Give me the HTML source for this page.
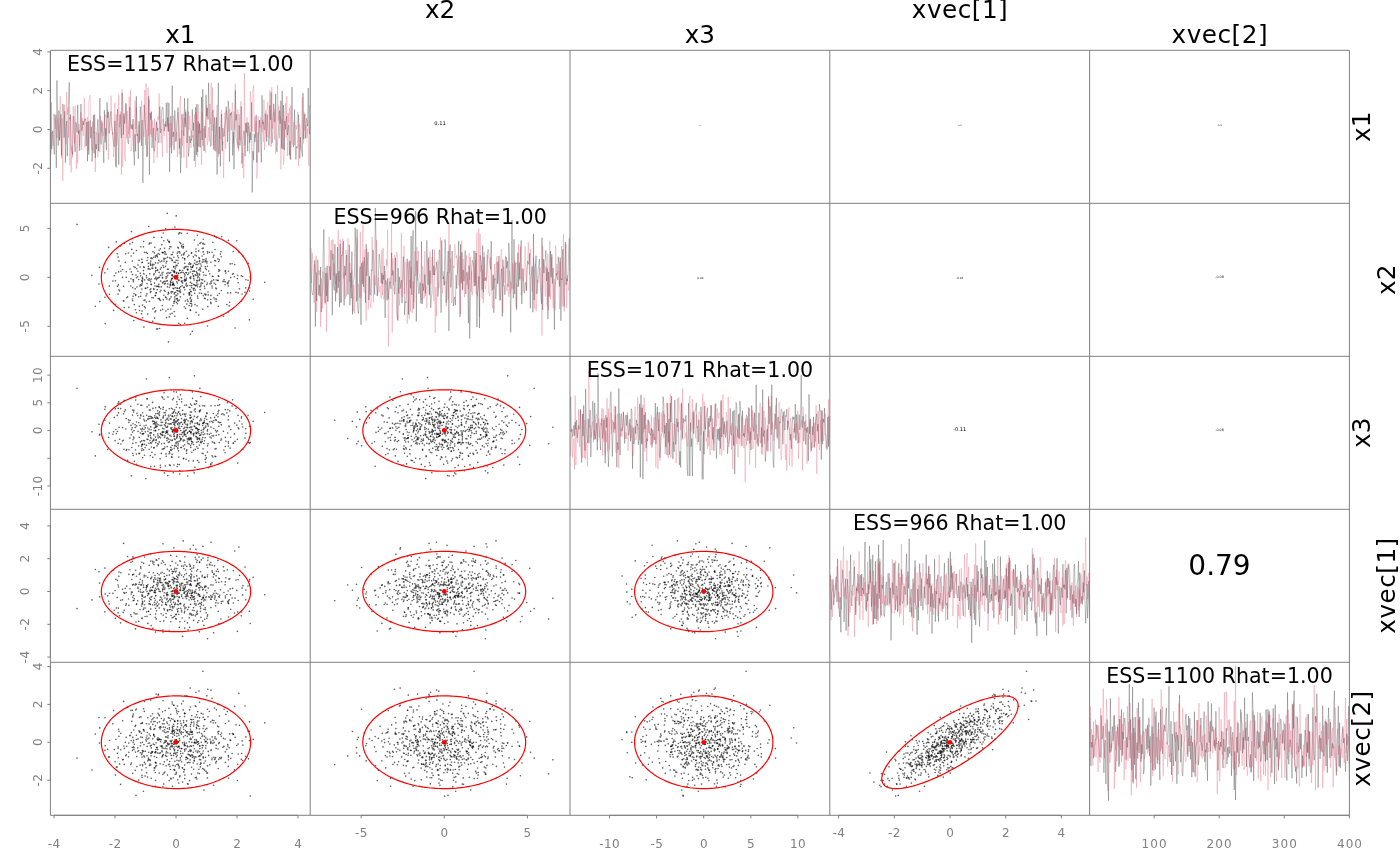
<!DOCTYPE html>
<html><head><meta charset="utf-8"><title>pairs</title><style>html,body{margin:0;padding:0;background:#fff;overflow:hidden}svg{display:block}</style></head><body>
<svg width="1400" height="866" viewBox="0 0 1400 866" font-family="DejaVu Sans, Liberation Sans, sans-serif">
<rect width="1400" height="866" fill="#fff"/>
<defs>
<clipPath id="c00"><rect x="50.4" y="50.3" width="259.8" height="153.0"/></clipPath>
<clipPath id="c01"><rect x="310.2" y="50.3" width="259.8" height="153.0"/></clipPath>
<clipPath id="c02"><rect x="570.0" y="50.3" width="259.8" height="153.0"/></clipPath>
<clipPath id="c03"><rect x="829.8" y="50.3" width="259.8" height="153.0"/></clipPath>
<clipPath id="c04"><rect x="1089.6" y="50.3" width="259.8" height="153.0"/></clipPath>
<clipPath id="c10"><rect x="50.4" y="203.3" width="259.8" height="153.0"/></clipPath>
<clipPath id="c11"><rect x="310.2" y="203.3" width="259.8" height="153.0"/></clipPath>
<clipPath id="c12"><rect x="570.0" y="203.3" width="259.8" height="153.0"/></clipPath>
<clipPath id="c13"><rect x="829.8" y="203.3" width="259.8" height="153.0"/></clipPath>
<clipPath id="c14"><rect x="1089.6" y="203.3" width="259.8" height="153.0"/></clipPath>
<clipPath id="c20"><rect x="50.4" y="356.3" width="259.8" height="153.0"/></clipPath>
<clipPath id="c21"><rect x="310.2" y="356.3" width="259.8" height="153.0"/></clipPath>
<clipPath id="c22"><rect x="570.0" y="356.3" width="259.8" height="153.0"/></clipPath>
<clipPath id="c23"><rect x="829.8" y="356.3" width="259.8" height="153.0"/></clipPath>
<clipPath id="c24"><rect x="1089.6" y="356.3" width="259.8" height="153.0"/></clipPath>
<clipPath id="c30"><rect x="50.4" y="509.3" width="259.8" height="153.0"/></clipPath>
<clipPath id="c31"><rect x="310.2" y="509.3" width="259.8" height="153.0"/></clipPath>
<clipPath id="c32"><rect x="570.0" y="509.3" width="259.8" height="153.0"/></clipPath>
<clipPath id="c33"><rect x="829.8" y="509.3" width="259.8" height="153.0"/></clipPath>
<clipPath id="c34"><rect x="1089.6" y="509.3" width="259.8" height="153.0"/></clipPath>
<clipPath id="c40"><rect x="50.4" y="662.3" width="259.8" height="153.0"/></clipPath>
<clipPath id="c41"><rect x="310.2" y="662.3" width="259.8" height="153.0"/></clipPath>
<clipPath id="c42"><rect x="570.0" y="662.3" width="259.8" height="153.0"/></clipPath>
<clipPath id="c43"><rect x="829.8" y="662.3" width="259.8" height="153.0"/></clipPath>
<clipPath id="c44"><rect x="1089.6" y="662.3" width="259.8" height="153.0"/></clipPath>
</defs>
<g clip-path="url(#c00)"><path d="M50.4 157.2 51.1 102.4 51.7 149.1 52.4 132.6 53.0 130.7 53.7 143.7 54.3 154.5 55.0 114.5 55.6 124.1 56.3 167.8 56.9 80.4 57.6 115.8 58.2 145.6 58.9 110.5 59.5 140.5 60.2 129.6 60.8 114.3 61.5 155.3 62.1 115.8 62.8 103.9 63.4 106.6 64.1 137.6 64.7 111.3 65.4 162.7 66.0 129.3 66.7 120.9 67.3 156.3 68.0 128.4 68.6 96.4 69.3 82.3 69.9 119.3 70.6 114.6 71.2 149.5 71.9 150.9 72.5 154.7 73.2 116.6 73.8 116.3 74.5 143.6 75.1 151.8 75.8 122.3 76.4 124.2 77.1 132.6 77.7 104.7 78.4 133.8 79.0 130.4 79.7 150.8 80.4 124.8 81.0 104.0 81.7 130.9 82.3 128.0 83.0 121.3 83.6 125.0 84.3 119.8 84.9 120.2 85.6 118.5 86.2 146.0 86.9 122.1 87.5 161.2 88.2 121.2 88.8 154.7 89.5 128.4 90.1 120.5 90.8 138.4 91.4 126.8 92.1 161.5 92.7 142.9 93.4 114.9 94.0 153.3 94.7 114.6 95.3 157.8 96.0 144.2 96.6 149.2 97.3 127.4 97.9 119.4 98.6 151.1 99.2 130.9 99.9 98.1 100.5 138.8 101.2 144.4 101.8 120.6 102.5 134.7 103.1 142.6 103.8 162.9 104.4 110.4 105.1 142.5 105.7 128.2 106.4 150.2 107.0 102.3 107.7 117.8 108.4 111.8 109.0 133.4 109.7 120.1 110.3 113.3 111.0 111.4 111.6 125.3 112.3 131.2 112.9 136.3 113.6 143.3 114.2 146.8 114.9 120.9 115.5 135.1 116.2 167.5 116.8 128.7 117.5 109.1 118.1 136.9 118.8 164.6 119.4 128.4 120.1 114.5 120.7 127.1 121.4 138.0 122.0 93.0 122.7 96.5 123.3 134.7 124.0 113.3 124.6 123.6 125.3 115.0 125.9 102.9 126.6 116.4 127.2 129.2 127.9 142.2 128.5 143.9 129.2 128.6 129.8 107.3 130.5 126.0 131.1 128.9 131.8 124.6 132.4 129.3 133.1 119.0 133.7 152.3 134.4 165.4 135.0 134.2 135.7 151.3 136.3 96.2 137.0 135.9 137.7 133.8 138.3 158.8 139.0 121.2 139.6 142.4 140.3 106.6 140.9 115.6 141.6 145.9 142.2 120.0 142.9 183.0 143.5 137.2 144.2 104.7 144.8 116.8 145.5 127.4 146.1 130.3 146.8 156.9 147.4 153.1 148.1 122.9 148.7 96.2 149.4 174.8 150.0 112.9 150.7 119.6 151.3 112.2 152.0 148.0 152.6 137.9 153.3 127.8 153.9 149.5 154.6 151.3 155.2 144.4 155.9 129.4 156.5 122.3 157.2 130.7 157.8 127.9 158.5 142.9 159.1 142.1 159.8 106.6 160.4 132.9 161.1 130.8 161.7 111.3 162.4 107.4 163.0 107.2 163.7 123.9 164.3 131.1 165.0 123.8 165.6 126.6 166.3 102.9 167.0 126.6 167.6 117.5 168.3 131.3 168.9 102.9 169.6 171.8 170.2 118.0 170.9 116.1 171.5 153.3 172.2 85.7 172.8 136.8 173.5 131.9 174.1 150.1 174.8 110.5 175.4 127.1 176.1 141.2 176.7 124.0 177.4 116.8 178.0 107.4 178.7 127.6 179.3 148.4 180.0 138.4 180.6 173.0 181.3 139.3 181.9 114.3 182.6 122.1 183.2 132.4 183.9 135.8 184.5 98.3 185.2 127.2 185.8 112.2 186.5 123.6 187.1 143.0 187.8 98.2 188.4 156.6 189.1 149.9 189.7 135.8 190.4 143.0 191.0 138.9 191.7 140.2 192.3 109.4 193.0 130.5 193.6 122.6 194.3 160.9 195.0 142.7 195.6 107.3 196.3 155.0 196.9 104.2 197.6 152.0 198.2 121.5 198.9 146.7 199.5 124.0 200.2 147.5 200.8 132.7 201.5 96.9 202.1 140.0 202.8 89.2 203.4 142.4 204.1 150.9 204.7 125.9 205.4 137.8 206.0 94.8 206.7 116.4 207.3 108.0 208.0 119.5 208.6 82.8 209.3 118.9 209.9 120.3 210.6 146.5 211.2 145.4 211.9 124.4 212.5 110.8 213.2 109.9 213.8 149.7 214.5 117.3 215.1 127.0 215.8 151.4 216.4 117.5 217.1 174.6 217.7 120.0 218.4 82.8 219.0 153.9 219.7 126.7 220.3 166.4 221.0 140.4 221.6 113.9 222.3 151.2 222.9 128.0 223.6 136.5 224.3 136.1 224.9 125.2 225.6 120.6 226.2 106.7 226.9 115.7 227.5 141.8 228.2 101.0 228.8 108.3 229.5 161.7 230.1 113.5 230.8 115.2 231.4 112.3 232.1 120.7 232.7 155.5 233.4 132.1 234.0 169.2 234.7 128.6 235.3 90.5 236.0 120.3 236.6 114.3 237.3 141.0 237.9 148.0 238.6 148.3 239.2 125.3 239.9 145.5 240.5 140.3 241.2 106.4 241.8 163.5 242.5 151.5 243.1 137.2 243.8 130.7 244.4 131.9 245.1 156.3 245.7 123.1 246.4 132.7 247.0 122.4 247.7 151.2 248.3 122.6 249.0 126.0 249.6 142.6 250.3 132.4 250.9 140.0 251.6 102.3 252.2 192.5 252.9 151.2 253.6 160.3 254.2 133.8 254.9 142.2 255.5 136.2 256.2 115.0 256.8 162.5 257.5 142.6 258.1 132.5 258.8 152.4 259.4 120.1 260.1 124.1 260.7 143.8 261.4 162.3 262.0 95.4 262.7 123.9 263.3 121.9 264.0 128.9 264.6 129.7 265.3 113.5 265.9 131.4 266.6 141.5 267.2 114.6 267.9 129.9 268.5 144.4 269.2 145.5 269.8 105.4 270.5 119.8 271.1 92.4 271.8 143.4 272.4 142.5 273.1 120.4 273.7 103.8 274.4 120.6 275.0 122.1 275.7 93.9 276.3 147.5 277.0 151.8 277.6 141.7 278.3 134.4 278.9 121.8 279.6 110.6 280.2 123.6 280.9 100.7 281.6 148.4 282.2 90.9 282.9 149.1 283.5 105.0 284.2 150.1 284.8 120.9 285.5 129.4 286.1 119.6 286.8 116.0 287.4 135.0 288.1 130.3 288.7 124.8 289.4 155.2 290.0 141.1 290.7 159.7 291.3 126.4 292.0 87.0 292.6 119.5 293.3 147.2 293.9 141.4 294.6 109.5 295.2 140.7 295.9 159.5 296.5 146.3 297.2 148.2 297.8 147.4 298.5 114.7 299.1 129.7 299.8 158.3 300.4 137.1 301.1 150.8 301.7 150.7 302.4 156.5 303.0 93.1 303.7 139.1 304.3 117.5 305.0 114.0 305.6 138.5 306.3 118.3 306.9 120.2 307.6 126.2 308.2 88.0 308.9 128.2 309.5 134.1 310.2 116.6" fill="none" stroke="rgba(0,0,0,0.42)" stroke-width="0.6"/><path d="M50.4 122.9 51.1 154.7 51.7 132.0 52.4 131.8 53.0 145.9 53.7 113.7 54.3 119.8 55.0 128.9 55.6 119.0 56.3 114.9 56.9 138.0 57.6 118.3 58.2 129.1 58.9 130.7 59.5 139.5 60.2 96.2 60.8 127.7 61.5 158.1 62.1 118.3 62.8 180.9 63.4 120.4 64.1 116.9 64.7 104.7 65.4 129.2 66.0 144.3 66.7 92.0 67.3 114.6 68.0 107.4 68.6 137.8 69.3 117.8 69.9 165.8 70.6 118.0 71.2 172.4 71.9 146.3 72.5 157.3 73.2 106.1 73.8 115.4 74.5 143.5 75.1 105.6 75.8 131.7 76.4 168.8 77.1 134.4 77.7 163.6 78.4 126.1 79.0 124.3 79.7 145.6 80.4 113.7 81.0 112.2 81.7 149.8 82.3 117.9 83.0 133.9 83.6 135.8 84.3 97.8 84.9 147.6 85.6 135.9 86.2 131.5 86.9 119.6 87.5 116.9 88.2 150.2 88.8 102.3 89.5 98.2 90.1 95.1 90.8 130.9 91.4 140.4 92.1 150.2 92.7 121.9 93.4 132.9 94.0 131.5 94.7 142.5 95.3 172.0 96.0 132.0 96.6 133.7 97.3 137.3 97.9 157.2 98.6 133.2 99.2 133.1 99.9 152.0 100.5 115.9 101.2 132.6 101.8 127.7 102.5 123.1 103.1 136.1 103.8 131.4 104.4 120.1 105.1 116.8 105.7 114.6 106.4 135.6 107.0 115.1 107.7 109.9 108.4 159.5 109.0 135.3 109.7 130.4 110.3 130.3 111.0 95.7 111.6 110.9 112.3 134.8 112.9 132.0 113.6 157.0 114.2 146.6 114.9 102.7 115.5 166.2 116.2 114.5 116.8 145.4 117.5 134.6 118.1 131.7 118.8 94.7 119.4 127.1 120.1 120.6 120.7 111.4 121.4 174.7 122.0 89.5 122.7 166.4 123.3 140.3 124.0 115.7 124.6 155.1 125.3 161.2 125.9 104.3 126.6 138.5 127.2 110.9 127.9 122.4 128.5 134.3 129.2 96.7 129.8 138.1 130.5 90.0 131.1 151.0 131.8 146.9 132.4 141.3 133.1 124.0 133.7 152.2 134.4 140.9 135.0 100.7 135.7 129.0 136.3 107.4 137.0 124.7 137.7 141.4 138.3 143.2 139.0 124.6 139.6 128.6 140.3 139.6 140.9 139.2 141.6 100.6 142.2 112.3 142.9 125.4 143.5 136.4 144.2 136.8 144.8 90.1 145.5 144.9 146.1 83.4 146.8 146.7 147.4 156.4 148.1 87.8 148.7 135.8 149.4 99.4 150.0 124.0 150.7 134.6 151.3 110.8 152.0 137.0 152.6 120.3 153.3 133.1 153.9 163.0 154.6 118.5 155.2 140.8 155.9 131.2 156.5 121.4 157.2 157.6 157.8 116.3 158.5 119.7 159.1 93.5 159.8 117.4 160.4 124.2 161.1 142.6 161.7 128.7 162.4 156.8 163.0 119.1 163.7 134.5 164.3 136.2 165.0 128.8 165.6 121.1 166.3 125.6 167.0 152.9 167.6 102.0 168.3 132.0 168.9 123.2 169.6 130.4 170.2 147.8 170.9 123.0 171.5 138.1 172.2 145.4 172.8 126.0 173.5 115.8 174.1 119.7 174.8 127.3 175.4 142.0 176.1 135.0 176.7 132.0 177.4 157.0 178.0 111.8 178.7 130.1 179.3 154.4 180.0 98.9 180.6 96.1 181.3 158.1 181.9 130.5 182.6 145.9 183.2 113.7 183.9 157.9 184.5 117.8 185.2 123.9 185.8 109.5 186.5 168.3 187.1 140.9 187.8 132.9 188.4 111.5 189.1 130.2 189.7 115.8 190.4 122.8 191.0 147.9 191.7 130.5 192.3 137.6 193.0 135.3 193.6 147.1 194.3 114.0 195.0 125.9 195.6 167.0 196.3 112.4 196.9 142.7 197.6 157.2 198.2 104.3 198.9 133.2 199.5 123.1 200.2 133.5 200.8 130.6 201.5 164.7 202.1 112.3 202.8 146.1 203.4 128.4 204.1 132.0 204.7 148.6 205.4 152.4 206.0 130.9 206.7 105.8 207.3 145.2 208.0 140.2 208.6 127.4 209.3 141.6 209.9 104.0 210.6 124.0 211.2 82.8 211.9 130.7 212.5 87.5 213.2 145.6 213.8 124.1 214.5 150.9 215.1 135.3 215.8 135.4 216.4 117.6 217.1 105.0 217.7 137.3 218.4 156.7 219.0 127.0 219.7 133.2 220.3 138.7 221.0 112.3 221.6 109.6 222.3 144.9 222.9 141.5 223.6 178.0 224.3 136.6 224.9 112.6 225.6 148.7 226.2 110.0 226.9 118.3 227.5 118.5 228.2 118.1 228.8 131.8 229.5 109.2 230.1 110.7 230.8 124.1 231.4 130.1 232.1 103.8 232.7 102.6 233.4 143.6 234.0 111.3 234.7 129.4 235.3 83.8 236.0 139.5 236.6 139.6 237.3 145.3 237.9 109.5 238.6 150.9 239.2 114.1 239.9 140.1 240.5 101.8 241.2 101.2 241.8 109.5 242.5 168.1 243.1 152.8 243.8 178.2 244.4 73.1 245.1 145.7 245.7 134.9 246.4 127.2 247.0 117.2 247.7 136.3 248.3 126.7 249.0 129.1 249.6 153.8 250.3 91.4 250.9 99.1 251.6 131.1 252.2 131.0 252.9 92.2 253.6 85.2 254.2 131.9 254.9 116.6 255.5 137.7 256.2 121.2 256.8 178.5 257.5 166.8 258.1 116.0 258.8 133.4 259.4 120.3 260.1 127.7 260.7 116.8 261.4 124.6 262.0 132.1 262.7 119.9 263.3 142.0 264.0 99.7 264.6 149.9 265.3 133.8 265.9 110.2 266.6 137.1 267.2 108.8 267.9 101.9 268.5 115.6 269.2 137.8 269.8 90.3 270.5 122.9 271.1 147.1 271.8 87.2 272.4 128.5 273.1 115.9 273.7 111.7 274.4 139.4 275.0 109.3 275.7 153.7 276.3 144.2 277.0 133.8 277.6 85.1 278.3 120.5 278.9 106.0 279.6 138.3 280.2 116.3 280.9 169.6 281.6 128.4 282.2 119.2 282.9 139.4 283.5 164.7 284.2 155.6 284.8 112.6 285.5 103.2 286.1 137.4 286.8 95.9 287.4 156.0 288.1 112.9 288.7 123.4 289.4 107.9 290.0 158.9 290.7 105.4 291.3 128.0 292.0 144.6 292.6 135.1 293.3 131.5 293.9 122.2 294.6 145.2 295.2 143.2 295.9 125.0 296.5 129.3 297.2 118.6 297.8 111.8 298.5 166.0 299.1 126.5 299.8 124.2 300.4 128.2 301.1 149.5 301.7 112.9 302.4 97.2 303.0 135.4 303.7 143.6 304.3 112.5 305.0 130.3 305.6 126.6 306.3 124.9 306.9 138.3 307.6 128.4 308.2 143.2 308.9 165.9 309.5 105.3 310.2 126.0" fill="none" stroke="rgba(215,30,70,0.34)" stroke-width="0.6"/></g>
<g clip-path="url(#c11)"><path d="M310.2 239.5 310.9 260.0 311.5 288.9 312.2 294.1 312.8 295.1 313.5 289.3 314.1 267.8 314.8 260.3 315.4 326.6 316.1 272.6 316.7 300.9 317.4 260.4 318.0 259.6 318.7 295.3 319.3 284.8 320.0 296.4 320.6 267.0 321.3 312.1 321.9 297.4 322.6 289.6 323.2 250.1 323.9 229.3 324.5 281.5 325.2 302.7 325.8 273.0 326.5 295.9 327.1 265.6 327.8 301.8 328.4 282.5 329.1 276.9 329.7 266.2 330.4 279.9 331.0 250.2 331.7 277.2 332.3 315.3 333.0 253.9 333.6 285.6 334.3 290.4 334.9 244.1 335.6 301.4 336.2 273.2 336.9 292.6 337.5 247.1 338.2 287.8 338.8 271.1 339.5 307.1 340.2 244.0 340.8 303.0 341.5 255.4 342.1 255.9 342.8 253.3 343.4 241.3 344.1 305.4 344.7 265.9 345.4 275.4 346.0 268.5 346.7 254.9 347.3 277.1 348.0 294.4 348.6 277.5 349.3 244.7 349.9 305.2 350.6 272.7 351.2 298.3 351.9 251.7 352.5 314.4 353.2 280.6 353.8 279.4 354.5 274.5 355.1 227.7 355.8 249.4 356.4 301.6 357.1 229.2 357.7 307.1 358.4 313.6 359.0 305.1 359.7 270.1 360.3 266.6 361.0 324.8 361.6 263.2 362.3 284.2 362.9 261.6 363.6 286.8 364.2 257.2 364.9 267.3 365.5 302.8 366.2 244.2 366.8 276.0 367.5 261.9 368.2 252.1 368.8 300.2 369.5 276.6 370.1 294.5 370.8 295.3 371.4 269.7 372.1 270.7 372.7 249.8 373.4 250.7 374.0 280.3 374.7 294.5 375.3 208.0 376.0 238.8 376.6 283.2 377.3 296.1 377.9 284.2 378.6 270.5 379.2 254.0 379.9 259.1 380.5 269.8 381.2 283.1 381.8 273.0 382.5 284.1 383.1 275.0 383.8 279.6 384.4 265.9 385.1 317.9 385.7 280.4 386.4 283.0 387.0 300.4 387.7 278.5 388.3 299.2 389.0 288.9 389.6 282.1 390.3 282.0 390.9 288.8 391.6 252.8 392.2 275.4 392.9 270.6 393.5 272.9 394.2 291.7 394.8 294.3 395.5 257.8 396.1 286.5 396.8 313.5 397.5 319.8 398.1 268.2 398.8 293.6 399.4 276.9 400.1 288.7 400.7 284.6 401.4 280.1 402.0 303.1 402.7 275.0 403.3 256.6 404.0 264.6 404.6 315.0 405.3 301.6 405.9 302.8 406.6 279.8 407.2 258.9 407.9 272.2 408.5 314.6 409.2 272.3 409.8 260.6 410.5 288.3 411.1 236.0 411.8 295.0 412.4 250.7 413.1 230.3 413.7 308.7 414.4 280.8 415.0 264.7 415.7 210.8 416.3 321.5 417.0 260.8 417.6 272.8 418.3 286.5 418.9 293.8 419.6 286.6 420.2 282.6 420.9 303.4 421.5 241.4 422.2 304.1 422.8 283.5 423.5 290.5 424.1 284.5 424.8 274.5 425.4 293.4 426.1 280.5 426.8 240.5 427.4 258.6 428.1 285.1 428.7 257.3 429.4 295.3 430.0 270.6 430.7 307.9 431.3 298.2 432.0 293.3 432.6 249.5 433.3 275.1 433.9 265.8 434.6 275.1 435.2 269.6 435.9 269.1 436.5 261.9 437.2 275.3 437.8 296.6 438.5 291.9 439.1 250.1 439.8 250.1 440.4 268.1 441.1 312.7 441.7 240.4 442.4 274.0 443.0 279.0 443.7 276.6 444.3 285.1 445.0 239.3 445.6 245.5 446.3 302.7 446.9 278.6 447.6 270.6 448.2 251.0 448.9 330.9 449.5 252.2 450.2 244.5 450.8 287.5 451.5 277.2 452.1 251.0 452.8 272.1 453.4 306.0 454.1 299.2 454.8 297.0 455.4 305.3 456.1 274.8 456.7 288.6 457.4 275.4 458.0 262.7 458.7 241.2 459.3 276.5 460.0 316.8 460.6 244.2 461.3 283.3 461.9 252.3 462.6 289.5 463.2 269.9 463.9 281.1 464.5 277.7 465.2 250.5 465.8 294.0 466.5 272.4 467.1 273.3 467.8 286.1 468.4 323.1 469.1 265.6 469.7 338.5 470.4 303.1 471.0 284.6 471.7 267.7 472.3 260.3 473.0 261.7 473.6 266.5 474.3 286.3 474.9 251.0 475.6 285.8 476.2 253.0 476.9 327.1 477.5 292.6 478.2 288.1 478.8 276.4 479.5 328.0 480.1 255.2 480.8 258.8 481.4 262.7 482.1 289.8 482.7 245.5 483.4 292.2 484.1 256.8 484.7 280.8 485.4 277.5 486.0 280.7 486.7 277.6 487.3 254.0 488.0 249.4 488.6 250.1 489.3 261.0 489.9 265.0 490.6 269.2 491.2 241.2 491.9 290.4 492.5 289.5 493.2 275.2 493.8 312.8 494.5 278.9 495.1 278.5 495.8 299.0 496.4 287.5 497.1 261.8 497.7 283.9 498.4 275.2 499.0 255.9 499.7 292.6 500.3 300.1 501.0 276.1 501.6 268.7 502.3 316.5 502.9 259.7 503.6 285.8 504.2 285.3 504.9 294.8 505.5 279.6 506.2 256.9 506.8 268.4 507.5 261.2 508.1 286.7 508.8 242.9 509.4 253.9 510.1 280.1 510.7 332.4 511.4 270.6 512.0 220.0 512.7 284.2 513.4 298.1 514.0 239.3 514.7 294.1 515.3 265.2 516.0 262.4 516.6 309.8 517.3 271.3 517.9 252.7 518.6 286.6 519.2 262.5 519.9 279.2 520.5 255.4 521.2 240.4 521.8 304.1 522.5 280.6 523.1 268.6 523.8 291.4 524.4 293.2 525.1 282.9 525.7 282.3 526.4 290.5 527.0 268.9 527.7 261.0 528.3 263.1 529.0 264.3 529.6 253.3 530.3 308.3 530.9 276.5 531.6 273.2 532.2 266.5 532.9 312.3 533.5 234.1 534.2 300.2 534.8 269.3 535.5 262.4 536.1 255.8 536.8 293.8 537.4 286.9 538.1 268.4 538.7 265.7 539.4 259.1 540.0 280.1 540.7 291.5 541.4 303.8 542.0 237.7 542.7 310.0 543.3 259.1 544.0 273.1 544.6 261.5 545.3 258.6 545.9 250.5 546.6 281.0 547.2 268.4 547.9 319.1 548.5 271.9 549.2 296.7 549.8 278.4 550.5 250.9 551.1 277.5 551.8 254.1 552.4 283.6 553.1 268.0 553.7 286.7 554.4 329.7 555.0 286.8 555.7 281.7 556.3 273.3 557.0 277.4 557.6 279.7 558.3 256.8 558.9 265.9 559.6 286.5 560.2 257.7 560.9 320.8 561.5 278.6 562.2 280.0 562.8 249.3 563.5 291.1 564.1 306.6 564.8 270.3 565.4 242.0 566.1 284.9 566.7 278.3 567.4 281.1 568.0 275.4 568.7 249.7 569.3 238.3 570.0 270.9" fill="none" stroke="rgba(0,0,0,0.42)" stroke-width="0.6"/><path d="M310.2 278.3 310.9 248.1 311.5 283.0 312.2 252.5 312.8 261.8 313.5 284.5 314.1 302.7 314.8 264.2 315.4 273.4 316.1 255.8 316.7 311.8 317.4 276.0 318.0 272.0 318.7 270.1 319.3 275.1 320.0 270.5 320.6 326.8 321.3 278.6 321.9 291.0 322.6 308.3 323.2 271.4 323.9 285.8 324.5 300.7 325.2 304.2 325.8 267.4 326.5 331.8 327.1 273.5 327.8 301.1 328.4 271.7 329.1 236.8 329.7 259.3 330.4 280.0 331.0 244.7 331.7 240.2 332.3 259.5 333.0 239.3 333.6 276.0 334.3 263.4 334.9 279.9 335.6 284.5 336.2 275.5 336.9 293.4 337.5 277.1 338.2 229.7 338.8 266.2 339.5 281.8 340.2 239.5 340.8 249.7 341.5 302.1 342.1 289.0 342.8 238.6 343.4 278.4 344.1 272.6 344.7 288.3 345.4 299.0 346.0 250.0 346.7 296.5 347.3 263.1 348.0 238.4 348.6 269.0 349.3 281.9 349.9 262.7 350.6 266.1 351.2 287.4 351.9 269.9 352.5 303.1 353.2 311.4 353.8 284.9 354.5 313.3 355.1 286.6 355.8 278.4 356.4 272.8 357.1 237.6 357.7 300.5 358.4 284.3 359.0 286.1 359.7 297.6 360.3 231.7 361.0 298.2 361.6 280.0 362.3 280.6 362.9 224.7 363.6 289.0 364.2 292.4 364.9 249.2 365.5 294.1 366.2 320.6 366.8 248.6 367.5 260.1 368.2 309.6 368.8 300.6 369.5 275.8 370.1 298.3 370.8 307.9 371.4 300.1 372.1 236.9 372.7 258.5 373.4 302.4 374.0 278.5 374.7 275.4 375.3 285.3 376.0 277.8 376.6 240.2 377.3 295.3 377.9 292.7 378.6 277.5 379.2 292.5 379.9 286.1 380.5 286.7 381.2 298.7 381.8 250.0 382.5 295.3 383.1 247.9 383.8 299.5 384.4 295.8 385.1 271.1 385.7 284.6 386.4 259.4 387.0 265.6 387.7 229.5 388.3 346.8 389.0 293.9 389.6 277.7 390.3 283.0 390.9 279.0 391.6 222.3 392.2 332.8 392.9 258.1 393.5 285.3 394.2 277.4 394.8 254.9 395.5 281.9 396.1 260.8 396.8 252.0 397.5 255.0 398.1 321.1 398.8 288.2 399.4 305.6 400.1 292.7 400.7 281.2 401.4 233.0 402.0 296.9 402.7 283.1 403.3 281.7 404.0 245.7 404.6 294.0 405.3 267.2 405.9 261.8 406.6 267.8 407.2 323.7 407.9 302.6 408.5 261.7 409.2 319.1 409.8 279.9 410.5 311.7 411.1 267.3 411.8 281.5 412.4 312.9 413.1 281.5 413.7 302.3 414.4 289.3 415.0 251.3 415.7 276.2 416.3 272.5 417.0 246.9 417.6 280.5 418.3 251.0 418.9 273.8 419.6 274.3 420.2 287.9 420.9 296.7 421.5 300.1 422.2 297.6 422.8 266.4 423.5 272.0 424.1 298.3 424.8 251.1 425.4 296.1 426.1 286.2 426.8 308.4 427.4 294.6 428.1 259.1 428.7 272.0 429.4 293.8 430.0 251.4 430.7 283.6 431.3 277.3 432.0 256.9 432.6 271.7 433.3 287.2 433.9 301.3 434.6 249.5 435.2 332.9 435.9 287.3 436.5 316.1 437.2 288.3 437.8 260.3 438.5 288.4 439.1 287.6 439.8 279.6 440.4 237.2 441.1 254.1 441.7 277.0 442.4 293.3 443.0 286.4 443.7 271.3 444.3 285.2 445.0 281.3 445.6 301.4 446.3 306.2 446.9 300.0 447.6 272.0 448.2 299.6 448.9 222.8 449.5 272.7 450.2 265.5 450.8 258.8 451.5 303.1 452.1 301.4 452.8 281.3 453.4 265.6 454.1 267.9 454.8 244.2 455.4 251.7 456.1 258.2 456.7 255.6 457.4 274.1 458.0 259.5 458.7 285.0 459.3 285.3 460.0 256.1 460.6 314.2 461.3 243.2 461.9 240.4 462.6 290.4 463.2 258.9 463.9 274.3 464.5 297.1 465.2 266.0 465.8 265.6 466.5 255.3 467.1 284.8 467.8 271.8 468.4 289.1 469.1 252.9 469.7 280.0 470.4 256.8 471.0 291.9 471.7 271.4 472.3 295.2 473.0 289.5 473.6 250.6 474.3 282.0 474.9 276.8 475.6 259.9 476.2 294.4 476.9 232.5 477.5 296.4 478.2 281.9 478.8 228.7 479.5 316.9 480.1 234.0 480.8 271.6 481.4 265.1 482.1 299.1 482.7 269.7 483.4 303.2 484.1 251.8 484.7 283.4 485.4 288.9 486.0 284.9 486.7 278.3 487.3 255.0 488.0 270.3 488.6 292.9 489.3 292.9 489.9 296.3 490.6 257.3 491.2 267.9 491.9 300.7 492.5 308.3 493.2 274.4 493.8 288.8 494.5 264.0 495.1 280.3 495.8 268.2 496.4 260.3 497.1 256.1 497.7 283.2 498.4 260.8 499.0 290.4 499.7 300.9 500.3 269.5 501.0 252.0 501.6 249.2 502.3 280.9 502.9 312.9 503.6 266.4 504.2 282.5 504.9 263.2 505.5 255.6 506.2 288.4 506.8 290.9 507.5 283.9 508.1 290.8 508.8 296.8 509.4 270.6 510.1 293.4 510.7 281.6 511.4 283.8 512.0 289.5 512.7 263.3 513.4 288.5 514.0 278.0 514.7 260.5 515.3 282.2 516.0 307.7 516.6 284.4 517.3 286.8 517.9 263.3 518.6 244.0 519.2 276.7 519.9 280.5 520.5 246.6 521.2 295.4 521.8 269.5 522.5 268.4 523.1 279.6 523.8 281.4 524.4 273.6 525.1 246.2 525.7 268.8 526.4 291.0 527.0 270.3 527.7 258.2 528.3 242.2 529.0 264.3 529.6 274.9 530.3 248.9 530.9 262.0 531.6 276.2 532.2 291.7 532.9 274.5 533.5 258.1 534.2 302.1 534.8 308.8 535.5 263.9 536.1 311.3 536.8 301.7 537.4 279.7 538.1 282.6 538.7 276.2 539.4 274.6 540.0 267.2 540.7 281.2 541.4 295.0 542.0 335.6 542.7 246.3 543.3 264.8 544.0 266.4 544.6 279.9 545.3 296.6 545.9 266.4 546.6 281.0 547.2 306.6 547.9 254.1 548.5 310.6 549.2 284.3 549.8 241.0 550.5 299.2 551.1 272.7 551.8 257.0 552.4 280.6 553.1 307.9 553.7 286.0 554.4 279.0 555.0 310.1 555.7 245.6 556.3 275.4 557.0 264.2 557.6 274.7 558.3 271.3 558.9 287.1 559.6 308.9 560.2 261.8 560.9 279.9 561.5 246.0 562.2 306.6 562.8 272.8 563.5 234.0 564.1 311.6 564.8 300.7 565.4 272.1 566.1 244.2 566.7 307.5 567.4 275.0 568.0 283.4 568.7 290.5 569.3 283.4 570.0 253.2" fill="none" stroke="rgba(215,30,70,0.34)" stroke-width="0.6"/></g>
<g clip-path="url(#c22)"><path d="M570.0 432.0 570.7 396.8 571.3 431.7 572.0 428.8 572.6 436.7 573.3 435.1 573.9 425.3 574.6 435.7 575.2 422.1 575.9 429.3 576.5 420.2 577.2 437.9 577.8 432.9 578.5 425.5 579.1 429.3 579.8 428.4 580.4 409.3 581.1 451.3 581.7 462.7 582.4 413.9 583.0 436.0 583.7 405.4 584.3 434.1 585.0 450.6 585.6 388.8 586.3 427.1 586.9 438.5 587.6 442.7 588.2 418.8 588.9 443.3 589.5 421.8 590.2 410.1 590.8 457.0 591.5 433.8 592.1 421.2 592.8 401.3 593.4 416.4 594.1 439.6 594.7 403.0 595.4 439.3 596.0 432.1 596.7 423.2 597.3 450.4 598.0 373.2 598.6 414.5 599.3 427.8 600.0 440.6 600.6 449.9 601.3 421.6 601.9 418.6 602.6 438.5 603.2 432.9 603.9 420.0 604.5 432.3 605.2 463.2 605.8 415.0 606.5 427.4 607.1 417.5 607.8 445.0 608.4 466.8 609.1 448.9 609.7 423.0 610.4 393.8 611.0 391.8 611.7 428.7 612.3 456.5 613.0 433.6 613.6 421.9 614.3 423.3 614.9 429.3 615.6 406.4 616.2 448.7 616.9 467.2 617.5 442.3 618.2 449.8 618.8 388.4 619.5 437.8 620.1 455.1 620.8 416.8 621.4 413.6 622.1 431.0 622.7 426.8 623.4 412.3 624.0 422.9 624.7 443.5 625.3 418.4 626.0 414.9 626.6 425.7 627.3 415.1 628.0 421.3 628.6 435.4 629.3 432.4 629.9 419.1 630.6 441.3 631.2 408.6 631.9 410.7 632.5 468.6 633.2 427.7 633.8 444.0 634.5 440.3 635.1 426.7 635.8 433.7 636.4 419.9 637.1 425.6 637.7 424.2 638.4 444.9 639.0 435.1 639.7 403.8 640.3 477.3 641.0 394.9 641.6 443.9 642.3 407.9 642.9 479.0 643.6 433.0 644.2 414.9 644.9 429.2 645.5 412.3 646.2 447.8 646.8 438.6 647.5 441.2 648.1 420.2 648.8 423.1 649.4 433.3 650.1 434.8 650.7 435.1 651.4 428.3 652.0 447.5 652.7 429.6 653.3 433.0 654.0 439.7 654.6 439.6 655.3 403.0 655.9 444.1 656.6 421.6 657.3 406.7 657.9 419.5 658.6 431.1 659.2 412.1 659.9 457.7 660.5 449.6 661.2 435.5 661.8 433.8 662.5 431.7 663.1 396.6 663.8 403.5 664.4 433.7 665.1 425.4 665.7 447.1 666.4 423.0 667.0 455.1 667.7 402.8 668.3 442.4 669.0 419.2 669.6 454.8 670.3 403.0 670.9 422.1 671.6 396.1 672.2 432.5 672.9 459.1 673.5 441.5 674.2 451.7 674.8 400.0 675.5 444.5 676.1 442.4 676.8 418.5 677.4 426.8 678.1 421.9 678.7 440.2 679.4 465.1 680.0 451.2 680.7 467.5 681.3 403.7 682.0 416.7 682.6 438.4 683.3 418.4 683.9 419.5 684.6 420.0 685.2 421.9 685.9 415.4 686.6 430.4 687.2 470.0 687.9 475.9 688.5 403.2 689.2 422.4 689.8 476.1 690.5 422.6 691.1 446.8 691.8 438.5 692.4 476.1 693.1 412.0 693.7 433.7 694.4 415.4 695.0 412.3 695.7 409.1 696.3 402.9 697.0 427.8 697.6 426.7 698.3 442.1 698.9 419.7 699.6 435.7 700.2 450.9 700.9 406.8 701.5 419.9 702.2 479.4 702.8 458.8 703.5 431.4 704.1 454.3 704.8 405.9 705.4 429.4 706.1 420.1 706.7 414.4 707.4 407.7 708.0 437.4 708.7 418.2 709.3 426.8 710.0 416.1 710.6 421.5 711.3 405.3 711.9 422.9 712.6 439.4 713.2 427.0 713.9 450.8 714.6 422.2 715.2 403.7 715.9 443.6 716.5 458.5 717.2 428.7 717.8 439.3 718.5 429.2 719.1 440.8 719.8 427.6 720.4 448.6 721.1 400.2 721.7 437.1 722.4 420.1 723.0 417.4 723.7 434.1 724.3 421.5 725.0 435.3 725.6 437.6 726.3 433.3 726.9 420.9 727.6 453.8 728.2 444.0 728.9 443.1 729.5 438.9 730.2 408.3 730.8 432.8 731.5 435.3 732.1 426.9 732.8 411.3 733.4 445.4 734.1 410.1 734.7 473.9 735.4 441.5 736.0 402.3 736.7 404.7 737.3 428.9 738.0 437.6 738.6 414.2 739.3 438.7 739.9 401.1 740.6 411.4 741.2 417.8 741.9 446.1 742.5 410.6 743.2 436.1 743.9 433.2 744.5 436.9 745.2 431.0 745.8 420.5 746.5 415.3 747.1 415.7 747.8 440.8 748.4 434.5 749.1 408.1 749.7 443.4 750.4 431.5 751.0 450.0 751.7 405.5 752.3 427.0 753.0 427.2 753.6 431.6 754.3 412.4 754.9 439.9 755.6 421.0 756.2 384.8 756.9 436.2 757.5 439.7 758.2 446.3 758.8 412.8 759.5 429.5 760.1 442.6 760.8 442.7 761.4 427.2 762.1 447.2 762.7 389.5 763.4 436.5 764.0 431.5 764.7 430.4 765.3 461.5 766.0 451.9 766.6 433.3 767.3 429.1 767.9 451.3 768.6 396.3 769.2 424.1 769.9 406.3 770.5 410.2 771.2 434.9 771.8 384.6 772.5 431.2 773.2 462.7 773.8 467.6 774.5 425.1 775.1 413.7 775.8 429.2 776.4 397.8 777.1 437.5 777.7 418.0 778.4 416.9 779.0 448.7 779.7 421.5 780.3 423.2 781.0 409.9 781.6 409.2 782.3 413.3 782.9 444.2 783.6 414.3 784.2 411.3 784.9 430.2 785.5 415.5 786.2 416.6 786.8 409.1 787.5 429.7 788.1 420.5 788.8 426.4 789.4 428.2 790.1 440.2 790.7 434.0 791.4 448.7 792.0 430.7 792.7 416.7 793.3 419.3 794.0 416.8 794.6 432.4 795.3 404.0 795.9 439.9 796.6 414.4 797.2 423.2 797.9 443.2 798.5 440.4 799.2 414.7 799.8 430.0 800.5 424.3 801.2 374.7 801.8 424.5 802.5 427.5 803.1 416.2 803.8 441.2 804.4 431.1 805.1 421.0 805.7 444.6 806.4 428.2 807.0 432.5 807.7 426.8 808.3 460.9 809.0 394.3 809.6 434.2 810.3 418.8 810.9 448.7 811.6 450.5 812.2 426.5 812.9 435.1 813.5 416.9 814.2 446.8 814.8 444.9 815.5 421.6 816.1 417.3 816.8 413.8 817.4 431.2 818.1 424.2 818.7 443.8 819.4 404.1 820.0 411.2 820.7 411.1 821.3 459.6 822.0 410.3 822.6 444.1 823.3 418.8 823.9 422.5 824.6 408.0 825.2 434.7 825.9 434.7 826.5 446.6 827.2 448.6 827.8 416.9 828.5 446.7 829.1 415.5 829.8 437.4" fill="none" stroke="rgba(0,0,0,0.42)" stroke-width="0.6"/><path d="M570.0 429.8 570.7 455.8 571.3 440.8 572.0 429.6 572.6 457.5 573.3 442.1 573.9 438.5 574.6 469.1 575.2 395.6 575.9 464.8 576.5 428.0 577.2 435.9 577.8 442.8 578.5 409.7 579.1 433.5 579.8 447.2 580.4 410.0 581.1 424.8 581.7 451.6 582.4 457.7 583.0 414.1 583.7 436.7 584.3 458.1 585.0 420.0 585.6 459.3 586.3 442.0 586.9 446.1 587.6 466.4 588.2 416.7 588.9 371.3 589.5 427.0 590.2 425.6 590.8 437.6 591.5 433.0 592.1 427.3 592.8 421.6 593.4 442.3 594.1 430.4 594.7 436.1 595.4 421.7 596.0 416.2 596.7 413.8 597.3 441.6 598.0 439.4 598.6 418.6 599.3 437.6 600.0 434.8 600.6 422.9 601.3 425.5 601.9 408.2 602.6 455.4 603.2 408.7 603.9 441.8 604.5 418.0 605.2 455.6 605.8 431.0 606.5 442.2 607.1 398.2 607.8 451.3 608.4 408.5 609.1 447.6 609.7 449.3 610.4 423.5 611.0 412.7 611.7 433.7 612.3 419.8 613.0 427.7 613.6 432.1 614.3 405.8 614.9 433.2 615.6 414.9 616.2 453.0 616.9 431.8 617.5 413.6 618.2 440.5 618.8 468.0 619.5 413.4 620.1 421.9 620.8 436.5 621.4 427.9 622.1 436.7 622.7 422.9 623.4 411.4 624.0 426.7 624.7 432.3 625.3 438.8 626.0 432.3 626.6 439.1 627.3 412.1 628.0 451.0 628.6 438.6 629.3 423.1 629.9 424.9 630.6 426.2 631.2 438.1 631.9 425.8 632.5 456.2 633.2 454.8 633.8 450.7 634.5 421.3 635.1 406.5 635.8 440.1 636.4 439.0 637.1 434.3 637.7 397.1 638.4 429.3 639.0 428.1 639.7 440.1 640.3 419.9 641.0 407.5 641.6 428.5 642.3 444.3 642.9 404.7 643.6 432.6 644.2 397.5 644.9 451.7 645.5 430.1 646.2 424.9 646.8 461.5 647.5 424.8 648.1 419.2 648.8 433.0 649.4 421.5 650.1 427.4 650.7 445.1 651.4 415.3 652.0 444.7 652.7 433.7 653.3 442.7 654.0 417.2 654.6 439.6 655.3 437.4 655.9 467.4 656.6 431.2 657.3 412.1 657.9 469.0 658.6 419.5 659.2 431.8 659.9 460.9 660.5 434.4 661.2 412.7 661.8 432.0 662.5 423.6 663.1 411.0 663.8 437.7 664.4 413.9 665.1 453.9 665.7 443.0 666.4 402.9 667.0 408.6 667.7 415.5 668.3 458.1 669.0 431.2 669.6 445.6 670.3 394.2 670.9 457.4 671.6 449.8 672.2 438.5 672.9 423.1 673.5 440.8 674.2 434.0 674.8 424.1 675.5 429.8 676.1 463.1 676.8 448.7 677.4 398.8 678.1 431.9 678.7 397.1 679.4 407.0 680.0 412.2 680.7 430.1 681.3 402.2 682.0 440.3 682.6 388.6 683.3 422.9 683.9 419.3 684.6 437.1 685.2 438.4 685.9 432.5 686.6 437.8 687.2 443.4 687.9 446.5 688.5 423.5 689.2 408.1 689.8 396.0 690.5 418.3 691.1 431.4 691.8 417.3 692.4 399.3 693.1 428.9 693.7 410.4 694.4 423.2 695.0 426.4 695.7 438.4 696.3 414.5 697.0 444.2 697.6 444.3 698.3 420.5 698.9 411.7 699.6 413.4 700.2 414.7 700.9 434.9 701.5 429.8 702.2 408.2 702.8 393.7 703.5 479.3 704.1 401.7 704.8 427.0 705.4 429.3 706.1 441.2 706.7 438.2 707.4 448.7 708.0 421.6 708.7 446.4 709.3 430.0 710.0 455.0 710.6 404.8 711.3 418.9 711.9 450.2 712.6 418.3 713.2 436.7 713.9 443.3 714.6 426.0 715.2 414.1 715.9 403.4 716.5 426.5 717.2 408.2 717.8 418.7 718.5 417.7 719.1 412.5 719.8 454.5 720.4 433.2 721.1 401.8 721.7 455.3 722.4 441.1 723.0 394.2 723.7 450.5 724.3 424.6 725.0 424.7 725.6 434.6 726.3 412.0 726.9 415.4 727.6 442.9 728.2 396.8 728.9 447.0 729.5 435.4 730.2 431.3 730.8 425.6 731.5 449.5 732.1 423.2 732.8 469.3 733.4 434.6 734.1 445.4 734.7 441.0 735.4 430.5 736.0 425.9 736.7 444.0 737.3 428.6 738.0 457.3 738.6 434.6 739.3 413.7 739.9 444.5 740.6 434.8 741.2 430.8 741.9 416.5 742.5 425.7 743.2 434.3 743.9 448.2 744.5 424.9 745.2 482.3 745.8 418.4 746.5 445.4 747.1 418.2 747.8 433.4 748.4 407.0 749.1 444.7 749.7 464.5 750.4 427.3 751.0 440.1 751.7 431.9 752.3 410.2 753.0 449.1 753.6 417.5 754.3 416.9 754.9 413.7 755.6 468.0 756.2 424.8 756.9 443.9 757.5 434.0 758.2 445.2 758.8 435.5 759.5 414.2 760.1 402.7 760.8 421.7 761.4 453.7 762.1 406.9 762.7 455.2 763.4 435.3 764.0 410.8 764.7 443.5 765.3 417.3 766.0 437.2 766.6 450.8 767.3 425.4 767.9 441.1 768.6 399.2 769.2 402.0 769.9 406.4 770.5 451.4 771.2 395.6 771.8 429.1 772.5 422.3 773.2 428.4 773.8 440.8 774.5 427.7 775.1 415.8 775.8 405.2 776.4 423.5 777.1 431.4 777.7 439.3 778.4 435.6 779.0 401.8 779.7 421.7 780.3 427.8 781.0 460.2 781.6 459.1 782.3 416.2 782.9 421.3 783.6 412.2 784.2 429.3 784.9 442.6 785.5 459.9 786.2 444.2 786.8 470.5 787.5 421.7 788.1 423.5 788.8 407.4 789.4 465.6 790.1 452.5 790.7 418.0 791.4 426.5 792.0 466.9 792.7 440.0 793.3 428.5 794.0 438.2 794.6 423.8 795.3 431.3 795.9 441.0 796.6 423.4 797.2 433.3 797.9 410.4 798.5 458.9 799.2 432.5 799.8 443.1 800.5 434.3 801.2 423.7 801.8 420.5 802.5 470.2 803.1 406.7 803.8 424.1 804.4 422.6 805.1 430.8 805.7 414.4 806.4 425.5 807.0 463.7 807.7 439.8 808.3 434.8 809.0 437.3 809.6 438.6 810.3 419.6 810.9 452.2 811.6 442.4 812.2 447.8 812.9 430.1 813.5 423.5 814.2 448.1 814.8 422.6 815.5 441.8 816.1 405.1 816.8 473.7 817.4 427.3 818.1 411.2 818.7 439.8 819.4 450.1 820.0 444.8 820.7 420.0 821.3 442.1 822.0 411.2 822.6 432.2 823.3 440.9 823.9 438.0 824.6 421.9 825.2 413.8 825.9 447.1 826.5 450.5 827.2 449.9 827.8 420.6 828.5 399.5 829.1 443.4 829.8 417.6" fill="none" stroke="rgba(215,30,70,0.34)" stroke-width="0.6"/></g>
<g clip-path="url(#c33)"><path d="M829.8 573.9 830.5 577.6 831.1 609.7 831.8 592.1 832.4 591.1 833.1 579.3 833.7 605.1 834.4 597.0 835.0 592.5 835.7 578.8 836.3 576.6 837.0 602.0 837.6 559.1 838.3 586.8 838.9 605.5 839.6 616.9 840.2 597.3 840.9 632.3 841.5 583.8 842.2 582.1 842.8 569.7 843.5 584.5 844.1 621.9 844.8 593.1 845.4 578.7 846.1 630.6 846.7 601.7 847.4 579.2 848.0 591.4 848.7 626.5 849.3 596.6 850.0 590.3 850.6 554.7 851.3 602.6 851.9 606.0 852.6 585.4 853.2 585.9 853.9 581.7 854.5 566.8 855.2 594.8 855.8 615.0 856.5 588.1 857.1 591.2 857.8 574.1 858.4 578.1 859.1 605.4 859.8 576.2 860.4 575.0 861.1 596.0 861.7 574.0 862.4 589.9 863.0 588.1 863.7 594.0 864.3 576.7 865.0 542.0 865.6 592.0 866.3 611.5 866.9 593.1 867.6 601.1 868.2 584.4 868.9 594.2 869.5 546.2 870.2 582.5 870.8 559.2 871.5 606.7 872.1 593.3 872.8 554.7 873.4 624.2 874.1 585.3 874.7 618.9 875.4 561.3 876.0 619.0 876.7 593.7 877.3 594.0 878.0 620.6 878.6 544.7 879.3 598.8 879.9 561.4 880.6 606.4 881.2 615.5 881.9 584.9 882.5 588.5 883.2 540.0 883.8 614.9 884.5 616.4 885.1 601.1 885.8 584.9 886.4 581.9 887.1 605.3 887.8 596.0 888.4 581.2 889.1 573.1 889.7 603.6 890.4 587.8 891.0 640.4 891.7 603.5 892.3 582.6 893.0 592.5 893.6 594.5 894.3 562.7 894.9 599.3 895.6 609.9 896.2 585.8 896.9 588.3 897.5 611.9 898.2 571.7 898.8 563.3 899.5 604.6 900.1 605.4 900.8 591.4 901.4 569.4 902.1 603.5 902.7 603.0 903.4 600.6 904.0 586.2 904.7 588.1 905.3 594.7 906.0 569.8 906.6 553.8 907.3 605.3 907.9 571.6 908.6 588.5 909.2 538.7 909.9 612.1 910.5 595.3 911.2 589.1 911.8 616.7 912.5 592.5 913.1 578.6 913.8 618.1 914.4 586.4 915.1 560.3 915.7 605.0 916.4 605.8 917.1 634.6 917.7 589.0 918.4 620.3 919.0 578.6 919.7 563.6 920.3 584.3 921.0 606.0 921.6 578.4 922.3 601.0 922.9 610.3 923.6 598.3 924.2 586.5 924.9 598.3 925.5 581.4 926.2 554.6 926.8 584.3 927.5 578.8 928.1 604.4 928.8 566.6 929.4 587.7 930.1 574.0 930.7 606.9 931.4 585.8 932.0 633.5 932.7 593.6 933.3 606.2 934.0 607.8 934.6 559.3 935.3 621.8 935.9 591.1 936.6 594.1 937.2 581.9 937.9 574.7 938.5 621.6 939.2 598.1 939.8 603.4 940.5 578.1 941.1 576.4 941.8 600.4 942.4 600.3 943.1 608.7 943.7 583.5 944.4 563.1 945.0 587.9 945.7 604.5 946.4 605.1 947.0 603.0 947.7 619.7 948.3 558.4 949.0 593.8 949.6 597.4 950.3 551.8 950.9 591.9 951.6 565.6 952.2 589.6 952.9 572.6 953.5 592.4 954.2 598.2 954.8 583.9 955.5 579.9 956.1 573.8 956.8 590.1 957.4 596.4 958.1 597.9 958.7 585.8 959.4 601.0 960.0 596.7 960.7 581.8 961.3 582.5 962.0 583.9 962.6 605.8 963.3 615.9 963.9 584.6 964.6 590.5 965.2 598.6 965.9 587.5 966.5 577.3 967.2 596.8 967.8 584.3 968.5 609.8 969.1 593.9 969.8 606.3 970.4 615.9 971.1 581.8 971.7 642.9 972.4 587.9 973.0 578.6 973.7 586.2 974.4 619.8 975.0 584.9 975.7 624.9 976.3 604.2 977.0 565.4 977.6 591.8 978.3 571.2 978.9 613.3 979.6 626.4 980.2 601.7 980.9 568.4 981.5 578.0 982.2 574.5 982.8 596.3 983.5 593.1 984.1 595.4 984.8 540.4 985.4 595.5 986.1 560.4 986.7 598.1 987.4 566.9 988.0 613.5 988.7 598.5 989.3 584.9 990.0 602.6 990.6 597.9 991.3 594.0 991.9 601.1 992.6 563.5 993.2 574.6 993.9 618.2 994.5 558.9 995.2 595.7 995.8 591.9 996.5 594.6 997.1 576.0 997.8 580.7 998.4 602.0 999.1 589.7 999.7 614.9 1000.4 556.6 1001.0 610.2 1001.7 605.4 1002.3 602.9 1003.0 588.0 1003.7 578.7 1004.3 599.1 1005.0 590.4 1005.6 597.7 1006.3 568.2 1006.9 589.8 1007.6 621.6 1008.2 562.5 1008.9 588.5 1009.5 557.8 1010.2 605.7 1010.8 598.8 1011.5 593.8 1012.1 616.1 1012.8 595.5 1013.4 568.9 1014.1 581.3 1014.7 634.9 1015.4 564.4 1016.0 587.8 1016.7 577.3 1017.3 592.1 1018.0 588.0 1018.6 590.8 1019.3 590.6 1019.9 609.8 1020.6 571.2 1021.2 589.6 1021.9 584.8 1022.5 586.0 1023.2 597.3 1023.8 591.9 1024.5 615.0 1025.1 584.4 1025.8 587.2 1026.4 596.1 1027.1 621.3 1027.7 564.8 1028.4 597.1 1029.0 591.2 1029.7 596.9 1030.3 601.4 1031.0 597.6 1031.6 610.4 1032.3 599.8 1033.0 554.2 1033.6 574.3 1034.3 557.8 1034.9 605.7 1035.6 623.3 1036.2 612.3 1036.9 635.8 1037.5 567.8 1038.2 572.1 1038.8 591.4 1039.5 584.7 1040.1 585.6 1040.8 594.0 1041.4 578.3 1042.1 610.6 1042.7 597.3 1043.4 593.4 1044.0 621.2 1044.7 606.2 1045.3 582.2 1046.0 586.2 1046.6 635.5 1047.3 570.8 1047.9 587.3 1048.6 578.2 1049.2 593.9 1049.9 580.8 1050.5 615.3 1051.2 592.8 1051.8 610.1 1052.5 598.7 1053.1 570.0 1053.8 564.8 1054.4 593.5 1055.1 599.0 1055.7 576.9 1056.4 584.8 1057.0 558.2 1057.7 583.6 1058.3 633.5 1059.0 586.2 1059.6 597.6 1060.3 605.0 1061.0 587.7 1061.6 590.8 1062.3 597.7 1062.9 564.2 1063.6 587.5 1064.2 584.6 1064.9 589.3 1065.5 570.1 1066.2 613.2 1066.8 567.9 1067.5 597.9 1068.1 564.6 1068.8 569.0 1069.4 584.9 1070.1 600.1 1070.7 585.6 1071.4 585.7 1072.0 617.7 1072.7 594.5 1073.3 603.4 1074.0 566.0 1074.6 564.0 1075.3 606.9 1075.9 599.1 1076.6 613.8 1077.2 584.6 1077.9 577.8 1078.5 561.2 1079.2 617.0 1079.8 572.5 1080.5 595.9 1081.1 603.6 1081.8 596.3 1082.4 604.4 1083.1 582.3 1083.7 592.4 1084.4 570.5 1085.0 602.9 1085.7 623.2 1086.3 605.7 1087.0 584.1 1087.6 618.2 1088.3 602.0 1088.9 581.1 1089.6 616.7" fill="none" stroke="rgba(0,0,0,0.42)" stroke-width="0.6"/><path d="M829.8 599.6 830.5 575.5 831.1 620.3 831.8 579.2 832.4 616.8 833.1 604.9 833.7 585.3 834.4 597.3 835.0 593.1 835.7 583.1 836.3 589.9 837.0 566.4 837.6 581.7 838.3 608.5 838.9 592.0 839.6 602.1 840.2 598.5 840.9 560.3 841.5 609.3 842.2 568.2 842.8 568.2 843.5 546.5 844.1 596.7 844.8 587.2 845.4 587.5 846.1 599.1 846.7 560.2 847.4 560.8 848.0 635.9 848.7 593.5 849.3 571.0 850.0 612.6 850.6 602.5 851.3 590.7 851.9 592.7 852.6 595.5 853.2 594.5 853.9 560.1 854.5 636.6 855.2 596.9 855.8 612.2 856.5 586.2 857.1 600.9 857.8 583.0 858.4 593.2 859.1 551.4 859.8 619.8 860.4 598.2 861.1 576.3 861.7 600.8 862.4 588.9 863.0 620.0 863.7 577.0 864.3 596.2 865.0 582.1 865.6 609.8 866.3 600.5 866.9 607.0 867.6 561.6 868.2 626.9 868.9 581.6 869.5 589.2 870.2 570.4 870.8 589.9 871.5 611.3 872.1 581.7 872.8 624.6 873.4 570.7 874.1 596.8 874.7 605.6 875.4 600.3 876.0 581.6 876.7 623.7 877.3 559.2 878.0 608.7 878.6 564.0 879.3 592.6 879.9 558.5 880.6 617.9 881.2 574.6 881.9 595.7 882.5 603.8 883.2 576.7 883.8 598.6 884.5 605.3 885.1 595.4 885.8 606.5 886.4 595.4 887.1 593.3 887.8 573.5 888.4 596.5 889.1 606.3 889.7 578.0 890.4 600.9 891.0 609.5 891.7 612.9 892.3 559.4 893.0 598.2 893.6 563.5 894.3 613.4 894.9 609.9 895.6 560.5 896.2 600.8 896.9 595.6 897.5 596.8 898.2 611.1 898.8 572.9 899.5 616.7 900.1 577.0 900.8 613.9 901.4 544.1 902.1 585.0 902.7 574.0 903.4 625.3 904.0 583.5 904.7 605.3 905.3 607.4 906.0 606.7 906.6 576.8 907.3 593.9 907.9 601.9 908.6 603.0 909.2 603.6 909.9 601.7 910.5 597.2 911.2 613.2 911.8 607.3 912.5 631.4 913.1 589.9 913.8 583.1 914.4 602.9 915.1 567.3 915.7 609.3 916.4 590.8 917.1 572.5 917.7 590.7 918.4 607.5 919.0 585.1 919.7 600.9 920.3 572.2 921.0 581.3 921.6 598.1 922.3 583.0 922.9 562.9 923.6 575.7 924.2 579.2 924.9 597.5 925.5 602.9 926.2 605.3 926.8 573.3 927.5 614.1 928.1 583.5 928.8 565.3 929.4 624.0 930.1 583.4 930.7 611.5 931.4 593.3 932.0 583.5 932.7 611.4 933.3 614.5 934.0 597.9 934.6 588.6 935.3 600.3 935.9 609.1 936.6 579.0 937.2 614.3 937.9 616.4 938.5 588.6 939.2 554.9 939.8 605.6 940.5 593.1 941.1 611.1 941.8 601.9 942.4 612.1 943.1 586.0 943.7 605.6 944.4 605.7 945.0 574.9 945.7 620.6 946.4 573.5 947.0 598.0 947.7 608.7 948.3 591.7 949.0 597.8 949.6 586.7 950.3 597.3 950.9 558.8 951.6 577.4 952.2 574.3 952.9 616.1 953.5 596.6 954.2 571.2 954.8 584.2 955.5 593.2 956.1 594.1 956.8 573.9 957.4 628.5 958.1 604.5 958.7 616.1 959.4 569.7 960.0 619.5 960.7 594.7 961.3 568.2 962.0 600.4 962.6 586.6 963.3 592.6 963.9 580.3 964.6 554.4 965.2 617.2 965.9 590.9 966.5 563.1 967.2 553.0 967.8 600.2 968.5 566.9 969.1 583.0 969.8 582.1 970.4 618.8 971.1 618.8 971.7 587.3 972.4 595.1 973.0 593.9 973.7 613.3 974.4 564.5 975.0 598.4 975.7 543.3 976.3 601.4 977.0 584.8 977.6 579.6 978.3 599.8 978.9 609.5 979.6 600.7 980.2 591.2 980.9 601.4 981.5 555.8 982.2 605.2 982.8 577.1 983.5 579.2 984.1 590.1 984.8 611.5 985.4 581.1 986.1 576.4 986.7 590.6 987.4 591.9 988.0 630.7 988.7 607.7 989.3 593.9 990.0 588.6 990.6 579.1 991.3 598.8 991.9 588.3 992.6 610.8 993.2 579.0 993.9 580.5 994.5 595.3 995.2 574.5 995.8 599.2 996.5 600.1 997.1 596.5 997.8 556.1 998.4 624.5 999.1 585.3 999.7 599.0 1000.4 589.4 1001.0 618.6 1001.7 576.3 1002.3 581.9 1003.0 597.8 1003.7 599.1 1004.3 590.2 1005.0 575.2 1005.6 620.9 1006.3 564.1 1006.9 600.3 1007.6 576.2 1008.2 608.2 1008.9 555.3 1009.5 590.7 1010.2 560.3 1010.8 605.7 1011.5 601.7 1012.1 570.5 1012.8 581.0 1013.4 586.4 1014.1 569.9 1014.7 586.0 1015.4 598.0 1016.0 624.4 1016.7 628.8 1017.3 576.1 1018.0 582.7 1018.6 608.2 1019.3 580.0 1019.9 596.1 1020.6 590.1 1021.2 574.2 1021.9 621.0 1022.5 581.9 1023.2 582.8 1023.8 595.4 1024.5 587.8 1025.1 611.8 1025.8 586.4 1026.4 580.4 1027.1 578.4 1027.7 604.8 1028.4 575.5 1029.0 587.3 1029.7 579.7 1030.3 593.0 1031.0 579.8 1031.6 588.8 1032.3 548.2 1033.0 600.9 1033.6 570.1 1034.3 593.7 1034.9 617.6 1035.6 580.2 1036.2 570.6 1036.9 579.9 1037.5 578.5 1038.2 607.0 1038.8 584.3 1039.5 616.6 1040.1 557.2 1040.8 567.2 1041.4 612.2 1042.1 596.2 1042.7 612.8 1043.4 602.5 1044.0 598.1 1044.7 611.6 1045.3 597.6 1046.0 579.4 1046.6 597.7 1047.3 577.9 1047.9 595.7 1048.6 589.2 1049.2 614.2 1049.9 572.6 1050.5 613.6 1051.2 595.7 1051.8 613.9 1052.5 580.2 1053.1 611.3 1053.8 579.3 1054.4 558.2 1055.1 588.6 1055.7 631.8 1056.4 569.7 1057.0 590.4 1057.7 580.5 1058.3 585.0 1059.0 571.2 1059.6 575.2 1060.3 593.9 1061.0 613.1 1061.6 590.5 1062.3 577.6 1062.9 625.8 1063.6 585.0 1064.2 623.9 1064.9 567.9 1065.5 560.4 1066.2 578.5 1066.8 599.9 1067.5 576.1 1068.1 568.7 1068.8 563.3 1069.4 568.4 1070.1 573.7 1070.7 610.3 1071.4 590.8 1072.0 582.5 1072.7 591.0 1073.3 625.8 1074.0 590.5 1074.6 603.7 1075.3 586.0 1075.9 585.4 1076.6 617.2 1077.2 601.9 1077.9 587.1 1078.5 610.2 1079.2 589.8 1079.8 606.3 1080.5 602.3 1081.1 574.4 1081.8 595.2 1082.4 600.7 1083.1 562.9 1083.7 599.7 1084.4 591.0 1085.0 591.0 1085.7 537.3 1086.3 585.4 1087.0 576.5 1087.6 599.3 1088.3 575.4 1088.9 572.7 1089.6 614.0" fill="none" stroke="rgba(215,30,70,0.34)" stroke-width="0.6"/></g>
<g clip-path="url(#c44)"><path d="M1089.6 715.1 1090.3 725.9 1090.9 766.0 1091.6 742.1 1092.2 747.6 1092.9 735.0 1093.5 757.9 1094.2 746.2 1094.8 743.9 1095.5 739.3 1096.1 739.5 1096.8 724.6 1097.4 728.7 1098.1 737.8 1098.7 739.7 1099.4 754.2 1100.0 757.2 1100.7 753.1 1101.3 715.4 1102.0 739.1 1102.6 736.7 1103.3 726.1 1103.9 772.8 1104.6 746.6 1105.2 739.9 1105.9 784.0 1106.5 748.5 1107.2 719.7 1107.8 768.6 1108.5 800.7 1109.1 731.8 1109.8 752.7 1110.4 698.5 1111.1 751.6 1111.7 739.6 1112.4 726.5 1113.0 741.1 1113.7 734.5 1114.3 715.1 1115.0 736.0 1115.6 771.9 1116.3 756.7 1116.9 738.5 1117.6 726.8 1118.2 731.4 1118.9 766.7 1119.6 719.1 1120.2 749.2 1120.9 749.8 1121.5 709.4 1122.2 755.8 1122.8 732.0 1123.5 739.2 1124.1 723.5 1124.8 718.0 1125.4 727.6 1126.1 759.7 1126.7 737.2 1127.4 747.4 1128.0 734.9 1128.7 729.1 1129.3 684.0 1130.0 758.3 1130.6 719.5 1131.3 757.0 1131.9 770.2 1132.6 687.2 1133.2 783.4 1133.9 727.9 1134.5 764.9 1135.2 717.0 1135.8 779.1 1136.5 747.0 1137.1 742.6 1137.8 758.6 1138.4 702.5 1139.1 752.9 1139.7 716.9 1140.4 738.8 1141.0 761.6 1141.7 744.3 1142.3 753.8 1143.0 698.4 1143.6 774.1 1144.3 768.5 1144.9 733.2 1145.6 728.8 1146.2 730.8 1146.9 749.5 1147.6 724.8 1148.2 748.5 1148.9 717.7 1149.5 756.0 1150.2 736.2 1150.8 785.6 1151.5 756.7 1152.1 726.4 1152.8 770.2 1153.4 738.1 1154.1 707.6 1154.7 761.5 1155.4 769.3 1156.0 711.7 1156.7 752.4 1157.3 763.6 1158.0 732.9 1158.6 722.6 1159.3 761.3 1159.9 779.9 1160.6 709.5 1161.2 733.8 1161.9 746.7 1162.5 753.8 1163.2 733.1 1163.8 730.0 1164.5 725.3 1165.1 731.5 1165.8 712.8 1166.4 707.9 1167.1 743.0 1167.7 744.5 1168.4 725.9 1169.0 686.2 1169.7 757.5 1170.3 762.1 1171.0 721.3 1171.6 774.9 1172.3 733.9 1172.9 753.8 1173.6 765.9 1174.2 745.1 1174.9 722.2 1175.5 761.4 1176.2 732.1 1176.9 783.8 1177.5 735.0 1178.2 742.0 1178.8 750.4 1179.5 695.3 1180.1 741.9 1180.8 762.2 1181.4 734.2 1182.1 772.5 1182.7 775.8 1183.4 760.4 1184.0 742.9 1184.7 738.6 1185.3 720.1 1186.0 713.9 1186.6 730.0 1187.3 725.3 1187.9 756.9 1188.6 716.0 1189.2 746.0 1189.9 718.2 1190.5 759.4 1191.2 735.8 1191.8 777.1 1192.5 742.2 1193.1 764.3 1193.8 772.5 1194.4 711.7 1195.1 776.6 1195.7 747.4 1196.4 744.9 1197.0 741.9 1197.7 720.1 1198.3 765.0 1199.0 759.5 1199.6 746.9 1200.3 742.2 1200.9 717.9 1201.6 743.3 1202.2 750.8 1202.9 746.4 1203.5 723.0 1204.2 711.6 1204.8 761.8 1205.5 749.8 1206.2 752.3 1206.8 742.6 1207.5 780.8 1208.1 701.6 1208.8 740.7 1209.4 742.6 1210.1 721.6 1210.7 751.4 1211.4 703.4 1212.0 731.5 1212.7 726.6 1213.3 729.2 1214.0 746.2 1214.6 740.4 1215.3 750.5 1215.9 711.3 1216.6 743.9 1217.2 743.2 1217.9 770.5 1218.5 741.2 1219.2 746.6 1219.8 750.2 1220.5 742.0 1221.1 746.7 1221.8 731.2 1222.4 760.0 1223.1 768.0 1223.7 739.0 1224.4 748.9 1225.0 751.9 1225.7 745.7 1226.3 728.1 1227.0 764.1 1227.6 747.4 1228.3 757.3 1228.9 746.5 1229.6 753.5 1230.2 739.7 1230.9 726.5 1231.5 775.7 1232.2 735.0 1232.8 732.2 1233.5 746.9 1234.2 790.0 1234.8 751.4 1235.5 800.0 1236.1 764.9 1236.8 736.9 1237.4 752.5 1238.1 722.9 1238.7 767.2 1239.4 762.6 1240.0 741.5 1240.7 709.4 1241.3 720.4 1242.0 724.2 1242.6 753.1 1243.3 737.3 1243.9 749.4 1244.6 697.7 1245.2 740.5 1245.9 727.8 1246.5 766.9 1247.2 713.8 1247.8 740.8 1248.5 736.9 1249.1 757.3 1249.8 767.5 1250.4 754.5 1251.1 772.2 1251.7 758.7 1252.4 692.4 1253.0 709.2 1253.7 780.8 1254.3 714.9 1255.0 755.9 1255.6 758.1 1256.3 746.4 1256.9 731.9 1257.6 730.7 1258.2 748.6 1258.9 732.2 1259.5 747.4 1260.2 712.8 1260.8 761.5 1261.5 754.5 1262.1 747.0 1262.8 741.1 1263.5 742.5 1264.1 754.3 1264.8 731.4 1265.4 761.4 1266.1 709.4 1266.7 759.0 1267.4 760.2 1268.0 709.3 1268.7 742.6 1269.3 711.3 1270.0 757.9 1270.6 727.7 1271.3 751.8 1271.9 772.8 1272.6 740.3 1273.2 708.3 1273.9 730.0 1274.5 783.8 1275.2 704.5 1275.8 749.4 1276.5 737.7 1277.1 757.1 1277.8 722.5 1278.4 770.4 1279.1 754.3 1279.7 754.4 1280.4 719.0 1281.0 719.4 1281.7 732.8 1282.3 743.5 1283.0 729.7 1283.6 731.1 1284.3 750.4 1284.9 723.8 1285.6 733.1 1286.2 764.7 1286.9 780.4 1287.5 692.4 1288.2 749.2 1288.8 764.3 1289.5 744.1 1290.1 739.6 1290.8 743.9 1291.4 759.6 1292.1 778.3 1292.8 704.5 1293.4 728.5 1294.1 690.5 1294.7 757.1 1295.4 771.6 1296.0 766.5 1296.7 783.6 1297.3 717.1 1298.0 731.1 1298.6 752.3 1299.3 750.2 1299.9 733.9 1300.6 749.1 1301.2 733.6 1301.9 778.0 1302.5 755.6 1303.2 766.5 1303.8 755.3 1304.5 742.5 1305.1 730.0 1305.8 739.2 1306.4 776.4 1307.1 742.3 1307.7 752.8 1308.4 714.2 1309.0 758.8 1309.7 731.7 1310.3 772.3 1311.0 772.7 1311.6 764.6 1312.3 738.1 1312.9 707.5 1313.6 750.6 1314.2 760.2 1314.9 754.7 1315.5 716.1 1316.2 722.3 1316.8 693.7 1317.5 716.1 1318.1 787.7 1318.8 748.9 1319.4 735.3 1320.1 758.9 1320.8 737.9 1321.4 746.1 1322.1 752.3 1322.7 705.6 1323.4 752.3 1324.0 756.2 1324.7 746.9 1325.3 720.9 1326.0 766.0 1326.6 722.1 1327.3 772.7 1327.9 726.1 1328.6 707.7 1329.2 739.8 1329.9 758.2 1330.5 722.2 1331.2 745.6 1331.8 756.2 1332.5 743.5 1333.1 748.5 1333.8 706.9 1334.4 690.7 1335.1 743.4 1335.7 761.3 1336.4 775.5 1337.0 739.0 1337.7 731.9 1338.3 706.1 1339.0 766.3 1339.6 722.7 1340.3 767.9 1340.9 752.1 1341.6 740.6 1342.2 733.8 1342.9 726.5 1343.5 743.0 1344.2 738.1 1344.8 751.6 1345.5 771.6 1346.1 757.3 1346.8 733.7 1347.4 760.9 1348.1 747.3 1348.7 705.9 1349.4 780.5" fill="none" stroke="rgba(0,0,0,0.42)" stroke-width="0.6"/><path d="M1089.6 743.4 1090.3 706.7 1090.9 746.8 1091.6 729.3 1092.2 735.5 1092.9 765.3 1093.5 721.4 1094.2 741.4 1094.8 756.7 1095.5 719.6 1096.1 757.4 1096.8 725.0 1097.4 732.9 1098.1 772.0 1098.7 725.5 1099.4 758.3 1100.0 762.7 1100.7 708.1 1101.3 758.2 1102.0 733.7 1102.6 725.6 1103.3 688.5 1103.9 736.8 1104.6 758.3 1105.2 723.2 1105.9 737.3 1106.5 699.2 1107.2 720.6 1107.8 790.7 1108.5 743.3 1109.1 730.7 1109.8 762.8 1110.4 758.5 1111.1 743.3 1111.7 748.2 1112.4 743.8 1113.0 741.9 1113.7 715.9 1114.3 788.9 1115.0 725.2 1115.6 750.3 1116.3 731.1 1116.9 761.4 1117.6 724.3 1118.2 745.6 1118.9 696.8 1119.6 764.9 1120.2 715.7 1120.9 730.2 1121.5 762.1 1122.2 723.9 1122.8 754.2 1123.5 712.4 1124.1 780.2 1124.8 741.1 1125.4 767.6 1126.1 769.4 1126.7 752.0 1127.4 706.3 1128.0 760.9 1128.7 722.2 1129.3 740.1 1130.0 702.6 1130.6 738.9 1131.3 795.4 1131.9 733.3 1132.6 781.5 1133.2 717.6 1133.9 752.7 1134.5 758.3 1135.2 732.3 1135.8 744.3 1136.5 787.7 1137.1 707.9 1137.8 750.1 1138.4 719.4 1139.1 743.1 1139.7 719.6 1140.4 782.4 1141.0 734.9 1141.7 758.8 1142.3 736.7 1143.0 733.8 1143.6 730.5 1144.3 758.6 1144.9 757.2 1145.6 752.6 1146.2 743.8 1146.9 727.5 1147.6 753.4 1148.2 749.6 1148.9 750.6 1149.5 740.2 1150.2 748.5 1150.8 762.8 1151.5 743.4 1152.1 699.0 1152.8 776.1 1153.4 733.7 1154.1 770.8 1154.7 759.2 1155.4 716.1 1156.0 757.2 1156.7 737.8 1157.3 737.0 1158.0 760.0 1158.6 729.2 1159.3 764.5 1159.9 739.7 1160.6 751.2 1161.2 689.6 1161.9 749.1 1162.5 706.6 1163.2 775.7 1163.8 724.3 1164.5 756.0 1165.1 759.0 1165.8 746.9 1166.4 742.2 1167.1 746.3 1167.7 766.7 1168.4 745.0 1169.0 757.0 1169.7 755.2 1170.3 753.8 1171.0 753.3 1171.6 754.2 1172.3 781.7 1172.9 746.3 1173.6 711.4 1174.2 736.0 1174.9 736.0 1175.5 741.6 1176.2 736.6 1176.9 721.5 1177.5 736.4 1178.2 774.5 1178.8 703.3 1179.5 728.1 1180.1 726.3 1180.8 732.5 1181.4 746.3 1182.1 743.1 1182.7 708.4 1183.4 729.0 1184.0 744.5 1184.7 752.6 1185.3 760.4 1186.0 761.8 1186.6 729.3 1187.3 754.7 1187.9 741.2 1188.6 738.4 1189.2 751.9 1189.9 744.5 1190.5 741.5 1191.2 742.9 1191.8 728.4 1192.5 772.0 1193.1 761.1 1193.8 753.4 1194.4 740.1 1195.1 744.5 1195.7 764.1 1196.4 720.0 1197.0 782.3 1197.7 776.9 1198.3 733.2 1199.0 703.1 1199.6 742.4 1200.3 724.8 1200.9 756.5 1201.6 742.7 1202.2 758.9 1202.9 735.6 1203.5 756.6 1204.2 753.6 1204.8 734.3 1205.5 770.0 1206.2 715.6 1206.8 742.9 1207.5 743.9 1208.1 749.8 1208.8 751.8 1209.4 732.0 1210.1 758.9 1210.7 722.5 1211.4 720.6 1212.0 731.3 1212.7 753.5 1213.3 747.0 1214.0 729.3 1214.6 748.3 1215.3 727.6 1215.9 747.5 1216.6 737.3 1217.2 794.1 1217.9 768.3 1218.5 768.8 1219.2 706.9 1219.8 781.4 1220.5 740.7 1221.1 719.3 1221.8 746.5 1222.4 755.0 1223.1 732.1 1223.7 759.8 1224.4 692.3 1225.0 768.1 1225.7 763.6 1226.3 691.6 1227.0 712.2 1227.6 730.8 1228.3 720.2 1228.9 745.0 1229.6 719.5 1230.2 747.0 1230.9 754.1 1231.5 755.8 1232.2 737.0 1232.8 761.2 1233.5 769.1 1234.2 701.0 1234.8 769.4 1235.5 665.8 1236.1 775.2 1236.8 751.3 1237.4 721.5 1238.1 754.6 1238.7 761.2 1239.4 763.4 1240.0 732.6 1240.7 750.6 1241.3 712.1 1242.0 766.0 1242.6 748.2 1243.3 730.5 1243.9 770.0 1244.6 767.2 1245.2 725.4 1245.9 721.7 1246.5 748.6 1247.2 775.8 1247.8 769.0 1248.5 748.0 1249.1 745.8 1249.8 724.4 1250.4 720.6 1251.1 772.5 1251.7 741.1 1252.4 767.1 1253.0 711.4 1253.7 721.7 1254.3 746.5 1255.0 720.6 1255.6 739.8 1256.3 761.2 1256.9 749.2 1257.6 712.1 1258.2 778.6 1258.9 741.3 1259.5 746.8 1260.2 758.2 1260.8 781.0 1261.5 718.2 1262.1 716.3 1262.8 727.1 1263.5 774.8 1264.1 734.9 1264.8 739.8 1265.4 775.9 1266.1 720.6 1266.7 746.1 1267.4 722.8 1268.0 790.1 1268.7 714.9 1269.3 728.4 1270.0 714.8 1270.6 777.0 1271.3 763.2 1271.9 733.4 1272.6 720.2 1273.2 717.9 1273.9 739.9 1274.5 730.4 1275.2 753.9 1275.8 765.8 1276.5 781.3 1277.1 743.4 1277.8 742.5 1278.4 766.5 1279.1 713.8 1279.7 759.3 1280.4 734.1 1281.0 739.4 1281.7 778.0 1282.3 731.3 1283.0 743.4 1283.6 721.5 1284.3 726.2 1284.9 778.0 1285.6 730.9 1286.2 715.2 1286.9 748.9 1287.5 759.3 1288.2 709.9 1288.8 752.3 1289.5 723.6 1290.1 747.0 1290.8 730.5 1291.4 754.7 1292.1 703.8 1292.8 757.9 1293.4 701.2 1294.1 739.9 1294.7 766.7 1295.4 733.7 1296.0 715.9 1296.7 754.4 1297.3 742.6 1298.0 768.6 1298.6 746.3 1299.3 786.7 1299.9 703.9 1300.6 728.5 1301.2 746.1 1301.9 751.3 1302.5 767.6 1303.2 747.8 1303.8 744.9 1304.5 766.3 1305.1 741.6 1305.8 717.6 1306.4 756.7 1307.1 714.3 1307.7 751.9 1308.4 730.3 1309.0 766.2 1309.7 731.3 1310.3 759.7 1311.0 762.3 1311.6 783.1 1312.3 732.2 1312.9 765.1 1313.6 746.6 1314.2 685.2 1314.9 738.9 1315.5 790.0 1316.2 716.5 1316.8 736.7 1317.5 739.4 1318.1 740.4 1318.8 748.6 1319.4 723.7 1320.1 722.6 1320.8 751.4 1321.4 730.9 1322.1 739.7 1322.7 787.9 1323.4 725.4 1324.0 770.9 1324.7 725.1 1325.3 719.1 1326.0 719.7 1326.6 744.7 1327.3 736.4 1327.9 723.8 1328.6 739.2 1329.2 735.5 1329.9 719.1 1330.5 767.6 1331.2 753.5 1331.8 731.2 1332.5 727.8 1333.1 787.4 1333.8 745.8 1334.4 757.9 1335.1 707.6 1335.7 728.4 1336.4 764.9 1337.0 771.6 1337.7 728.4 1338.3 754.8 1339.0 745.4 1339.6 766.5 1340.3 758.4 1340.9 748.6 1341.6 750.1 1342.2 757.7 1342.9 728.7 1343.5 754.3 1344.2 763.0 1344.8 727.1 1345.5 698.0 1346.1 752.9 1346.8 719.0 1347.4 745.1 1348.1 736.1 1348.7 742.7 1349.4 763.7" fill="none" stroke="rgba(215,30,70,0.34)" stroke-width="0.6"/></g>
<g fill="none" stroke="rgba(0,0,0,0.64)" stroke-width="1.65" stroke-linecap="round"><path d="M132.6 242.5h0M253.2 299.3h0M212.1 252.3h0M192.2 267.2h0M184.4 273.7h0M188.9 255.3h0M177.8 247.3h0M152.9 251.6h0M167.8 283.9h0M169.9 298.7h0M167.2 213.4h0M233.4 273.5h0M153.3 297.8h0M168.7 293.2h0M150.3 280.0h0M186.5 272.8h0M141.8 280.7h0M174.0 301.6h0M194.9 260.2h0M143.6 266.9h0M107.6 269.0h0M154.8 278.7h0M186.8 304.1h0M147.8 314.1h0M196.7 272.9h0M206.9 263.1h0M180.4 324.5h0M211.9 280.7h0M135.2 288.8h0M182.7 257.7h0M186.1 279.6h0M77.0 224.4h0M140.0 286.1h0M201.3 282.7h0M154.2 273.7h0M168.3 269.2h0M189.6 262.8h0M180.9 277.6h0M147.9 279.7h0M195.0 304.6h0M186.4 278.4h0M162.7 309.4h0M190.4 272.0h0M119.0 260.9h0M114.3 275.8h0M169.1 241.7h0M225.3 281.7h0M172.2 278.5h0M186.1 280.5h0M166.9 299.1h0M118.3 284.9h0M238.9 252.2h0M168.5 341.9h0M221.3 256.7h0M221.6 236.5h0M241.6 300.9h0M193.3 288.6h0M155.5 295.4h0M219.3 293.5h0M191.5 299.7h0M228.5 240.4h0M158.2 298.5h0M148.4 266.6h0M169.7 257.9h0M213.3 257.1h0M150.8 288.8h0M170.2 314.1h0M206.8 284.6h0M218.3 306.2h0M200.2 289.6h0M167.5 257.4h0M173.7 288.8h0M169.9 246.7h0M169.4 248.7h0M242.6 276.5h0M190.3 282.4h0M202.7 279.9h0M178.5 273.2h0M203.9 275.0h0M202.8 309.2h0"/><path d="M218.7 261.5h0M197.7 261.8h0M163.3 233.0h0M199.5 279.9h0M171.2 291.6h0M183.1 244.2h0M190.2 303.3h0M145.1 300.0h0M155.5 262.9h0M190.8 276.9h0M116.3 241.9h0M227.9 283.8h0M177.5 288.3h0M141.9 259.4h0M191.0 301.4h0M228.4 312.0h0M152.6 265.8h0M204.6 244.2h0M173.3 284.7h0M205.9 275.4h0M160.6 310.3h0M225.3 271.3h0M126.7 297.7h0M171.0 246.8h0M209.8 273.8h0M144.3 267.5h0M118.1 257.1h0M197.7 277.7h0M172.0 275.6h0M151.0 291.6h0M171.1 258.6h0M142.0 283.9h0M190.8 263.8h0M173.0 282.1h0M155.6 267.5h0M188.1 266.7h0M176.2 260.2h0M242.9 256.0h0M199.3 258.5h0M200.5 271.0h0M136.4 250.5h0M193.6 276.3h0M195.9 285.4h0M194.1 280.0h0M168.4 292.4h0M166.1 278.5h0M230.1 263.9h0M169.4 273.3h0M165.7 228.8h0M174.7 276.1h0M199.6 278.0h0M118.1 294.1h0M227.7 292.9h0M176.9 281.8h0M203.2 295.7h0M166.2 263.0h0M158.2 253.5h0M177.2 298.6h0M172.2 260.6h0M179.5 251.7h0M131.2 256.0h0M170.7 272.6h0M200.4 268.8h0M174.3 311.6h0M151.3 284.5h0M184.5 252.8h0M161.6 237.4h0M193.7 278.4h0M153.8 274.8h0M159.5 299.3h0M179.7 287.7h0M234.7 264.6h0M190.5 277.0h0M206.3 269.6h0M177.7 290.9h0M213.0 276.5h0M217.5 295.3h0M152.3 258.6h0M118.6 271.9h0M174.9 299.1h0"/><path d="M145.3 288.3h0M150.8 261.1h0M204.7 281.4h0M144.5 252.4h0M215.0 249.6h0M191.4 303.5h0M162.0 273.2h0M179.3 233.0h0M123.6 286.3h0M201.5 293.4h0M177.3 283.0h0M167.8 275.3h0M211.0 281.9h0M228.4 286.0h0M91.9 275.3h0M104.9 272.8h0M176.2 215.9h0M210.7 302.3h0M217.9 258.9h0M179.8 270.4h0M199.9 243.4h0M133.5 253.1h0M155.2 295.7h0M227.3 283.0h0M191.8 285.6h0M195.3 285.8h0M158.9 260.4h0M156.7 255.9h0M113.6 310.4h0M159.2 298.6h0M187.3 269.2h0M127.6 296.8h0M184.5 279.2h0M157.2 289.7h0M190.3 309.9h0M205.8 260.6h0M191.7 252.7h0M191.8 283.3h0M175.8 266.9h0M161.9 244.8h0M172.1 282.7h0M176.7 272.6h0M215.0 299.1h0M108.6 247.3h0M122.5 277.3h0M225.9 273.1h0M173.8 267.1h0M163.8 240.7h0M173.1 288.3h0M174.8 296.9h0M151.1 243.1h0M159.1 250.3h0M162.5 277.8h0M210.9 262.2h0M182.6 282.9h0M223.4 316.2h0M173.5 276.5h0M133.1 296.3h0M186.0 272.5h0M156.5 329.0h0M174.4 277.2h0M204.4 298.2h0M181.6 246.8h0M120.7 245.9h0M159.2 272.4h0M142.4 281.9h0M203.2 272.2h0M193.4 256.9h0M204.7 288.2h0M219.7 270.3h0M195.3 290.1h0M245.7 287.9h0M178.8 280.4h0M164.2 290.2h0M197.4 274.9h0M162.2 275.0h0M163.7 267.4h0M167.2 280.5h0M180.7 286.6h0M180.6 272.7h0"/><path d="M171.2 293.0h0M205.9 294.2h0M123.9 301.0h0M142.4 277.4h0M169.3 287.2h0M190.7 266.9h0M180.4 296.9h0M191.9 305.0h0M206.1 258.9h0M204.5 294.1h0M208.2 294.9h0M201.5 279.6h0M181.6 281.8h0M165.9 311.0h0M164.0 258.3h0M202.2 262.1h0M187.3 318.4h0M211.2 283.2h0M109.5 294.2h0M157.7 269.9h0M187.7 274.5h0M143.9 327.1h0M211.0 303.4h0M159.5 254.3h0M249.4 319.8h0M179.9 253.1h0M200.7 264.0h0M220.9 251.7h0M177.4 279.0h0M212.4 276.3h0M142.0 262.6h0M169.4 242.3h0M153.6 257.2h0M199.4 269.7h0M216.4 237.4h0M185.3 280.1h0M197.2 280.9h0M148.2 268.9h0M130.8 286.0h0M193.6 284.5h0M172.4 254.5h0M174.1 270.8h0M176.5 302.4h0M149.7 243.1h0M181.5 233.4h0M147.6 287.6h0M159.0 286.9h0M132.5 299.0h0M190.8 291.4h0M229.2 305.9h0M168.0 294.2h0M197.8 298.1h0M238.2 282.7h0M183.6 254.1h0M165.2 281.6h0M184.7 279.9h0M188.7 273.1h0M192.4 267.4h0M174.6 292.7h0M167.4 286.8h0M150.3 292.3h0M174.9 227.0h0M117.2 253.8h0M203.0 243.3h0M179.3 288.4h0M167.0 277.0h0M207.4 266.2h0M194.0 271.0h0M176.1 265.2h0M220.5 254.1h0M165.4 283.6h0M172.2 278.2h0M196.0 249.0h0M208.7 271.0h0M204.0 259.7h0M196.7 268.1h0M228.9 280.9h0M172.8 305.8h0M184.3 306.7h0M183.2 246.9h0"/><path d="M174.2 293.9h0M158.8 284.4h0M176.4 273.5h0M136.5 312.7h0M174.7 271.8h0M193.3 275.7h0M125.8 253.8h0M142.1 311.1h0M155.7 268.2h0M182.6 270.5h0M164.4 283.9h0M185.4 266.9h0M177.0 288.1h0M169.3 316.9h0M215.0 265.7h0M191.6 287.6h0M174.1 262.2h0M184.8 289.7h0M194.2 271.3h0M184.7 263.2h0M171.6 279.1h0M166.2 254.2h0M136.0 275.1h0M239.5 288.8h0M192.8 266.6h0M141.7 285.3h0M141.9 289.1h0M209.4 252.3h0M237.4 278.6h0M122.6 269.5h0M186.8 286.2h0M156.1 293.0h0M124.5 243.3h0M175.5 262.4h0M190.1 298.7h0M221.3 290.6h0M167.4 269.2h0M157.3 286.2h0M164.1 259.4h0M190.6 278.4h0M150.3 263.1h0M160.4 275.4h0M152.8 268.4h0M132.3 261.0h0M184.3 267.3h0M166.0 297.6h0M143.4 270.6h0M170.3 284.0h0M196.0 251.5h0M205.2 298.6h0M172.6 291.8h0M135.7 294.6h0M142.3 279.0h0M157.4 256.8h0M164.5 248.2h0M168.0 309.4h0M131.8 249.4h0M168.1 272.6h0M147.3 253.5h0M172.1 313.4h0M200.9 285.9h0M197.7 273.2h0M202.9 259.8h0M150.0 289.7h0M157.0 254.9h0M166.8 261.4h0M151.9 297.6h0M172.5 291.9h0M248.0 280.2h0M207.5 251.5h0M180.4 290.0h0M196.3 262.0h0M183.7 294.2h0M219.4 259.8h0M160.4 300.4h0M112.9 281.1h0M134.3 304.6h0M187.5 285.6h0M178.2 263.2h0M162.2 305.5h0"/><path d="M153.7 288.6h0M175.9 295.2h0M189.6 294.7h0M196.4 255.8h0M142.5 305.1h0M150.1 269.3h0M155.0 311.9h0M173.9 303.2h0M178.1 301.1h0M173.5 271.4h0M120.9 271.2h0M198.8 315.1h0M183.7 254.8h0M130.0 269.1h0M196.1 312.4h0M203.3 239.2h0M178.5 273.3h0M173.6 284.2h0M197.1 305.8h0M196.0 275.6h0M166.1 276.8h0M154.8 247.2h0M215.8 288.0h0M155.7 270.6h0M190.4 334.2h0M195.0 255.0h0M178.4 248.1h0M125.3 262.4h0M190.5 297.6h0M141.5 313.8h0M181.6 245.6h0M165.5 266.3h0M229.7 302.3h0M152.6 264.3h0M187.7 270.1h0M146.4 302.1h0M174.8 316.2h0M207.5 326.0h0M142.6 317.7h0M181.3 281.0h0M200.9 284.1h0M228.4 271.2h0M235.1 328.0h0M212.9 242.3h0M150.7 281.7h0M173.0 252.2h0M188.0 301.4h0M170.3 285.6h0M199.5 293.1h0M167.6 240.1h0M230.7 277.6h0M126.3 271.7h0M148.7 226.5h0M154.6 318.1h0M238.1 292.9h0M205.5 268.2h0M196.8 280.4h0M165.5 297.0h0M186.3 283.3h0M132.8 287.7h0M131.4 271.9h0M186.6 266.6h0M155.3 257.3h0M177.9 260.5h0M216.2 280.0h0M194.7 293.3h0M157.2 270.5h0M208.0 292.0h0M160.4 269.1h0M115.4 280.8h0M176.7 295.5h0M163.2 282.0h0M172.0 270.3h0M198.0 245.0h0M207.8 306.6h0M177.8 293.9h0M202.1 256.0h0M151.4 279.0h0M144.5 279.9h0M177.7 275.4h0"/><path d="M136.7 268.7h0M200.0 267.9h0M133.9 266.7h0M196.8 285.2h0M183.5 246.6h0M187.7 256.7h0M199.0 280.6h0M225.4 270.8h0M143.5 246.8h0M165.3 252.0h0M177.7 255.9h0M217.8 280.3h0M176.3 275.7h0M189.2 292.6h0M179.3 300.0h0M146.9 293.9h0M155.0 286.0h0M185.0 274.9h0M138.7 296.8h0M210.9 295.4h0M225.1 284.7h0M161.2 286.9h0M140.7 275.8h0M142.3 281.0h0M149.4 301.4h0M105.2 323.6h0M165.0 291.3h0M201.3 266.1h0M199.9 286.9h0M164.0 261.2h0M155.4 255.9h0M198.9 263.7h0M184.9 280.5h0M150.8 265.4h0M232.1 263.7h0M236.8 240.8h0M183.4 272.5h0M158.5 286.3h0M142.7 278.7h0M241.3 275.8h0M191.3 301.0h0M178.9 323.3h0M199.5 274.0h0M198.2 276.3h0M200.9 242.5h0M191.6 295.3h0M170.8 309.0h0M140.7 296.3h0M166.5 317.6h0M172.1 260.1h0M179.8 291.6h0M215.6 284.3h0M157.6 328.9h0M183.8 287.6h0M151.9 268.1h0M164.3 281.3h0M191.4 253.1h0M177.2 253.2h0M162.5 277.5h0M203.9 261.7h0M194.4 284.8h0M147.1 260.4h0M132.5 274.5h0M172.1 274.7h0M184.7 258.5h0M214.6 236.0h0M99.8 301.5h0M205.7 295.1h0M160.1 261.7h0M139.5 310.5h0M137.9 271.3h0M189.1 305.6h0M191.2 269.3h0M163.0 265.5h0M138.0 265.1h0M192.3 331.4h0M185.6 308.3h0M154.5 307.8h0M202.2 248.5h0M154.5 283.1h0"/><path d="M199.6 261.7h0M135.5 309.7h0M177.7 300.1h0M153.9 289.6h0M216.1 301.3h0M126.2 277.3h0M138.7 279.5h0M161.4 267.6h0M218.8 276.3h0M154.3 252.9h0M199.6 260.6h0M196.7 282.7h0M192.6 271.2h0M155.8 277.2h0M174.8 301.1h0M162.9 252.8h0M156.2 292.8h0M180.5 292.4h0M245.0 292.3h0M179.1 291.0h0M179.7 242.3h0M159.3 277.4h0M188.6 264.0h0M181.6 277.8h0M151.1 284.3h0M191.1 291.7h0M165.6 258.5h0M198.5 270.0h0M158.0 263.1h0M174.2 285.4h0M171.4 280.1h0M124.2 307.6h0M188.0 269.4h0M213.9 255.3h0M147.8 257.5h0M145.3 307.8h0M135.7 295.5h0M128.9 281.6h0M133.6 280.0h0M178.1 251.9h0M177.1 265.4h0M131.0 278.7h0M210.8 299.5h0M154.0 264.6h0M203.2 251.9h0M195.9 264.4h0M173.0 284.6h0M197.4 235.2h0M198.8 250.9h0M132.7 300.7h0M190.0 285.6h0M161.8 260.9h0M184.7 259.7h0M177.4 303.7h0M248.6 263.2h0M190.5 310.4h0M232.6 274.2h0M189.2 294.9h0M151.1 258.6h0M175.2 287.8h0M184.9 281.2h0M174.5 301.4h0M215.6 261.0h0M146.1 295.9h0M249.5 291.0h0M163.9 295.2h0M164.9 253.9h0M184.6 259.0h0M151.2 257.8h0M99.5 267.4h0M236.0 292.4h0M99.0 284.1h0M156.5 279.7h0M237.7 275.3h0M152.9 308.9h0M160.4 248.8h0M210.0 283.9h0M183.1 248.1h0M226.9 304.6h0M118.9 289.7h0"/><path d="M184.6 323.2h0M197.5 296.1h0M228.2 282.3h0M140.9 246.7h0M173.8 257.2h0M189.1 293.3h0M199.5 274.9h0M152.7 321.4h0M194.4 263.2h0M148.9 280.2h0M179.8 270.5h0M176.6 298.9h0M140.3 273.4h0M212.1 288.0h0M133.0 279.8h0M178.7 234.0h0M212.0 286.1h0M218.0 280.5h0M164.5 251.7h0M146.4 252.3h0M203.2 248.1h0M207.6 253.1h0M149.1 244.1h0M163.0 252.7h0M184.1 268.6h0M249.5 287.5h0M182.8 280.7h0M203.1 244.0h0M147.0 283.6h0M172.3 284.9h0M159.6 328.5h0M155.5 272.0h0M177.0 290.5h0M191.4 306.2h0M140.9 292.7h0M214.6 260.6h0M157.8 278.5h0M149.7 273.8h0M233.3 251.5h0M168.9 241.4h0M192.6 273.8h0M193.6 290.1h0M163.0 272.3h0M213.6 279.9h0M144.1 300.4h0M143.6 241.5h0M155.7 310.8h0M171.1 296.8h0M206.9 261.6h0M149.2 278.6h0M204.4 286.2h0M205.3 266.6h0M140.4 284.9h0M160.1 291.7h0M149.0 268.7h0M170.4 281.4h0M195.2 274.7h0M182.2 285.8h0M181.6 272.3h0M136.9 287.0h0M207.6 299.8h0M163.3 299.8h0M170.3 284.6h0M140.1 267.0h0M174.2 272.1h0M133.3 281.7h0M202.6 283.2h0M175.1 268.8h0M207.4 283.0h0M264.7 282.3h0M223.9 281.4h0M117.4 286.3h0M222.9 281.3h0M186.4 251.2h0M169.3 300.0h0M120.6 266.0h0M129.9 243.9h0M176.3 275.7h0M166.8 273.3h0M214.1 283.1h0"/><path d="M115.9 273.1h0M216.3 288.8h0M250.2 277.1h0M187.3 299.8h0M178.4 257.7h0M136.4 277.7h0M131.5 231.6h0M190.1 264.4h0M203.9 254.2h0M189.6 293.4h0M162.6 282.9h0M156.1 278.6h0M119.6 290.8h0M197.9 284.2h0M139.0 260.4h0M144.5 306.6h0M170.7 282.4h0M180.7 243.4h0M172.3 275.4h0M162.1 252.3h0M185.3 301.0h0M174.5 272.6h0M184.7 276.7h0M230.6 292.9h0M205.5 261.7h0M137.7 276.7h0M190.0 277.7h0M189.9 289.6h0M146.4 275.6h0M134.0 293.7h0M218.8 271.2h0M171.3 254.7h0M175.7 292.2h0M234.4 276.7h0M156.9 286.4h0M143.7 273.6h0M128.5 253.0h0M146.6 277.6h0M160.9 290.2h0M196.3 271.5h0M198.9 257.6h0M95.3 306.2h0M194.5 240.0h0M172.6 284.2h0M194.3 288.3h0M218.8 269.8h0M109.2 286.1h0M178.9 280.0h0M128.9 307.4h0M218.2 275.7h0M104.9 297.3h0M187.3 233.2h0M158.1 277.6h0M160.7 281.1h0M133.8 320.5h0M123.3 300.7h0M184.3 287.3h0M139.3 306.3h0M197.5 286.7h0M224.1 279.6h0M115.1 304.2h0M166.9 281.2h0M186.0 284.9h0M173.8 266.6h0M242.1 294.0h0M179.9 232.5h0M145.9 288.3h0M216.4 299.1h0M142.4 262.2h0M150.6 264.4h0M173.5 283.5h0M197.3 264.6h0M144.0 274.0h0M148.4 263.3h0M245.9 279.7h0M135.1 267.4h0M213.9 297.7h0M193.2 265.4h0M153.9 237.4h0M181.6 255.1h0"/></g>
<polygon points="250.65,277.36 250.62,275.84 250.51,274.33 250.32,272.82 250.06,271.31 249.73,269.82 249.32,268.32 248.84,266.84 248.29,265.37 247.66,263.91 246.96,262.46 246.20,261.03 245.36,259.62 244.45,258.22 243.48,256.84 242.44,255.48 241.33,254.14 240.16,252.83 238.92,251.54 237.62,250.28 236.26,249.04 234.84,247.83 233.36,246.66 231.82,245.51 230.23,244.39 228.58,243.31 226.88,242.26 225.13,241.25 223.33,240.27 221.49,239.33 219.59,238.42 217.66,237.56 215.68,236.73 213.67,235.95 211.61,235.20 209.52,234.50 207.40,233.84 205.25,233.23 203.07,232.66 200.86,232.13 198.62,231.65 196.36,231.21 194.09,230.82 191.79,230.48 189.48,230.18 187.15,229.93 184.82,229.73 182.47,229.58 180.12,229.47 177.77,229.41 175.41,229.40 173.05,229.43 170.70,229.52 168.35,229.65 166.01,229.83 163.68,230.05 161.36,230.33 159.06,230.65 156.77,231.01 154.50,231.43 152.26,231.89 150.04,232.39 147.84,232.94 145.67,233.53 143.53,234.17 141.43,234.85 139.35,235.57 137.32,236.33 135.32,237.14 133.37,237.98 131.45,238.87 129.58,239.79 127.76,240.75 125.99,241.75 124.26,242.78 122.59,243.85 120.97,244.95 119.40,246.08 117.89,247.24 116.44,248.44 115.05,249.66 113.72,250.91 112.45,252.18 111.25,253.48 110.11,254.81 109.03,256.16 108.02,257.53 107.08,258.91 106.21,260.32 105.41,261.75 104.68,263.18 104.02,264.64 103.43,266.10 102.91,267.58 102.47,269.07 102.10,270.56 101.80,272.07 101.58,273.57 101.43,275.09 101.35,276.60 101.35,278.11 101.43,279.63 101.58,281.14 101.80,282.64 102.10,284.15 102.47,285.64 102.91,287.13 103.43,288.61 104.02,290.07 104.68,291.53 105.41,292.97 106.21,294.39 107.08,295.80 108.02,297.19 109.03,298.55 110.11,299.90 111.25,301.23 112.45,302.53 113.72,303.80 115.05,305.05 116.44,306.28 117.89,307.47 119.40,308.63 120.97,309.76 122.59,310.86 124.26,311.93 125.99,312.96 127.76,313.96 129.58,314.92 131.45,315.84 133.37,316.73 135.32,317.57 137.32,318.38 139.35,319.14 141.43,319.86 143.53,320.54 145.67,321.18 147.84,321.77 150.04,322.32 152.26,322.83 154.50,323.28 156.77,323.70 159.06,324.06 161.36,324.39 163.68,324.66 166.01,324.88 168.35,325.06 170.70,325.19 173.05,325.28 175.41,325.31 177.77,325.30 180.12,325.24 182.47,325.14 184.82,324.98 187.15,324.78 189.48,324.53 191.79,324.23 194.09,323.89 196.36,323.50 198.62,323.06 200.86,322.58 203.07,322.05 205.25,321.48 207.40,320.87 209.52,320.21 211.61,319.51 213.67,318.76 215.68,317.98 217.66,317.15 219.59,316.29 221.49,315.39 223.33,314.44 225.13,313.47 226.88,312.45 228.58,311.40 230.23,310.32 231.82,309.20 233.36,308.05 234.84,306.88 236.26,305.67 237.62,304.43 238.92,303.17 240.16,301.88 241.33,300.57 242.44,299.23 243.48,297.87 244.45,296.49 245.36,295.10 246.20,293.68 246.96,292.25 247.66,290.80 248.29,289.34 248.84,287.87 249.32,286.39 249.73,284.90 250.06,283.40 250.32,281.89 250.51,280.38 250.62,278.87 250.65,277.36" fill="none" stroke="#f00" stroke-width="1.2"/>
<circle cx="176.0" cy="277.4" r="2.4" fill="#f00"/>
<g fill="none" stroke="rgba(0,0,0,0.64)" stroke-width="1.65" stroke-linecap="round"><path d="M132.6 432.1h0M253.2 421.2h0M212.1 435.8h0M192.2 422.6h0M184.4 432.2h0M188.9 438.1h0M177.8 447.7h0M152.9 408.4h0M167.8 431.1h0M169.9 435.2h0M167.2 427.2h0M233.4 443.1h0M153.3 421.1h0M168.7 439.1h0M150.3 435.3h0M186.5 405.1h0M141.8 450.3h0M174.0 465.0h0M194.9 467.3h0M143.6 433.6h0M107.6 449.5h0M154.8 415.7h0M186.8 427.4h0M147.8 428.0h0M196.7 433.3h0M206.9 412.9h0M180.4 438.3h0M211.9 421.4h0M135.2 427.4h0M182.7 414.3h0M186.1 459.3h0M77.0 388.2h0M140.0 418.1h0M201.3 430.4h0M154.2 447.6h0M168.3 442.4h0M189.6 431.2h0M180.9 447.5h0M147.9 431.3h0M195.0 423.3h0M186.4 430.1h0M162.7 428.3h0M190.4 415.5h0M119.0 427.4h0M114.3 417.4h0M169.1 453.7h0M225.3 446.5h0M172.2 416.2h0M186.1 436.4h0M166.9 438.2h0M118.3 408.4h0M238.9 428.8h0M168.5 420.2h0M221.3 439.1h0M221.6 414.2h0M241.6 416.7h0M193.3 433.9h0M155.5 430.3h0M219.3 442.6h0M191.5 412.1h0M228.5 416.1h0M158.2 437.8h0M148.4 436.4h0M169.7 452.9h0M213.3 413.5h0M150.8 466.6h0M170.2 415.1h0M206.8 419.5h0M218.3 411.8h0M200.2 435.3h0M167.5 418.4h0M173.7 429.3h0M169.9 435.4h0M169.4 441.9h0M242.6 427.0h0M190.3 412.0h0M202.7 423.3h0M178.5 450.8h0M203.9 427.7h0M202.8 437.6h0"/><path d="M218.7 399.5h0M197.7 437.5h0M163.3 407.4h0M199.5 411.8h0M171.2 423.9h0M183.1 432.9h0M190.2 423.8h0M145.1 447.5h0M155.5 427.2h0M190.8 432.4h0M116.3 433.6h0M227.9 409.7h0M177.5 423.8h0M141.9 405.2h0M191.0 433.7h0M228.4 441.7h0M152.6 402.4h0M204.6 405.9h0M173.3 472.7h0M205.9 416.7h0M160.6 408.7h0M225.3 409.6h0M126.7 449.5h0M171.0 447.5h0M209.8 421.8h0M144.3 444.4h0M118.1 403.4h0M197.7 416.6h0M172.0 427.6h0M151.0 429.7h0M171.1 450.4h0M142.0 431.3h0M190.8 447.5h0M173.0 416.7h0M155.6 430.9h0M188.1 439.9h0M176.2 421.9h0M242.9 449.2h0M199.3 424.8h0M200.5 409.9h0M136.4 454.1h0M193.6 435.7h0M195.9 436.4h0M194.1 426.1h0M168.4 415.2h0M166.1 410.5h0M230.1 448.1h0M169.4 451.5h0M165.7 423.6h0M174.7 423.9h0M199.6 439.6h0M118.1 443.4h0M227.7 433.0h0M176.9 437.1h0M203.2 432.0h0M166.2 456.3h0M158.2 424.7h0M177.2 404.4h0M172.2 445.5h0M179.5 423.9h0M131.2 434.8h0M170.7 447.5h0M200.4 442.5h0M174.3 433.2h0M151.3 416.7h0M184.5 434.5h0M161.6 443.7h0M193.7 444.5h0M153.8 447.9h0M159.5 415.6h0M179.7 436.8h0M234.7 423.1h0M190.5 404.1h0M206.3 457.9h0M177.7 464.4h0M213.0 457.0h0M217.5 430.9h0M152.3 441.7h0M118.6 412.8h0M174.9 422.7h0"/><path d="M145.3 431.8h0M150.8 432.9h0M204.7 434.0h0M144.5 455.2h0M215.0 449.1h0M191.4 420.9h0M162.0 396.7h0M179.3 464.6h0M123.6 413.8h0M201.5 420.1h0M177.3 420.8h0M167.8 475.6h0M211.0 433.2h0M228.4 443.2h0M91.9 431.8h0M104.9 420.2h0M176.2 443.7h0M210.7 417.9h0M217.9 405.4h0M179.8 413.9h0M199.9 420.8h0M133.5 437.0h0M155.2 423.0h0M227.3 402.7h0M191.8 452.2h0M195.3 411.7h0M158.9 413.0h0M156.7 417.0h0M113.6 431.7h0M159.2 441.8h0M187.3 433.2h0M127.6 460.4h0M184.5 422.3h0M157.2 417.8h0M190.3 417.9h0M205.8 416.1h0M191.7 443.7h0M191.8 427.0h0M175.8 443.0h0M161.9 434.5h0M172.1 440.2h0M176.7 442.0h0M215.0 456.2h0M108.6 437.2h0M122.5 441.0h0M225.9 441.2h0M173.8 424.2h0M163.8 431.9h0M173.1 413.0h0M174.8 425.5h0M151.1 438.6h0M159.1 406.8h0M162.5 422.3h0M210.9 464.9h0M182.6 424.3h0M223.4 431.3h0M173.5 430.0h0M133.1 439.7h0M186.0 424.2h0M156.5 426.9h0M174.4 430.1h0M204.4 422.5h0M181.6 426.5h0M120.7 404.1h0M159.2 442.1h0M142.4 444.5h0M203.2 434.7h0M193.4 419.3h0M204.7 418.6h0M219.7 404.9h0M195.3 449.4h0M245.7 428.7h0M178.8 422.5h0M164.2 443.4h0M197.4 439.4h0M162.2 432.5h0M163.7 415.8h0M167.2 446.6h0M180.7 439.3h0M180.6 415.3h0"/><path d="M171.2 429.1h0M205.9 426.0h0M123.9 449.3h0M142.4 433.7h0M169.3 377.6h0M190.7 432.3h0M180.4 394.8h0M191.9 441.6h0M206.1 423.6h0M204.5 440.7h0M208.2 426.1h0M201.5 432.9h0M181.6 434.6h0M165.9 422.4h0M164.0 399.3h0M202.2 453.2h0M187.3 441.7h0M211.2 438.0h0M109.5 423.1h0M157.7 410.8h0M187.7 476.0h0M143.9 419.3h0M211.0 405.8h0M159.5 436.8h0M249.4 443.2h0M179.9 470.8h0M200.7 418.9h0M220.9 440.2h0M177.4 413.9h0M212.4 441.9h0M142.0 429.3h0M169.4 465.0h0M153.6 423.9h0M199.4 410.8h0M216.4 420.3h0M185.3 430.2h0M197.2 428.5h0M148.2 435.0h0M130.8 406.2h0M193.6 434.6h0M172.4 429.9h0M174.1 411.4h0M176.5 421.0h0M149.7 433.0h0M181.5 438.9h0M147.6 419.1h0M159.0 414.2h0M132.5 415.1h0M190.8 427.1h0M229.2 426.7h0M168.0 434.2h0M197.8 432.6h0M238.2 427.8h0M183.6 431.3h0M165.2 412.6h0M184.7 444.7h0M188.7 460.8h0M192.4 391.9h0M174.6 409.9h0M167.4 438.0h0M150.3 410.0h0M174.9 445.3h0M117.2 415.4h0M203.0 453.6h0M179.3 399.4h0M167.0 440.4h0M207.4 430.9h0M194.0 433.4h0M176.1 418.1h0M220.5 422.5h0M165.4 425.9h0M172.2 440.2h0M196.0 428.1h0M208.7 467.7h0M204.0 428.8h0M196.7 442.3h0M228.9 426.1h0M172.8 430.3h0M184.3 448.8h0M183.2 446.1h0"/><path d="M174.2 436.4h0M158.8 429.6h0M176.4 392.1h0M136.5 422.0h0M174.7 415.8h0M193.3 460.9h0M125.8 429.0h0M142.1 448.6h0M155.7 442.7h0M182.6 410.4h0M164.4 424.8h0M185.4 416.2h0M177.0 434.9h0M169.3 408.7h0M215.0 405.7h0M191.6 405.2h0M174.1 419.5h0M184.8 419.4h0M194.2 472.9h0M184.7 405.2h0M171.6 456.9h0M166.2 427.2h0M136.0 442.8h0M239.5 421.0h0M192.8 442.3h0M141.7 440.9h0M141.9 445.1h0M209.4 434.4h0M237.4 439.3h0M122.6 427.6h0M186.8 449.9h0M156.1 425.7h0M124.5 411.6h0M175.5 429.9h0M190.1 418.0h0M221.3 424.9h0M167.4 432.6h0M157.3 418.1h0M164.1 412.8h0M190.6 445.6h0M150.3 455.6h0M160.4 433.5h0M152.8 457.3h0M132.3 427.7h0M184.3 419.7h0M166.0 453.9h0M143.4 433.7h0M170.3 440.0h0M196.0 432.3h0M205.2 437.7h0M172.6 399.7h0M135.7 400.1h0M142.3 444.2h0M157.4 413.6h0M164.5 437.4h0M168.0 397.1h0M131.8 447.5h0M168.1 423.7h0M147.3 398.7h0M172.1 415.9h0M200.9 396.6h0M197.7 430.2h0M202.9 405.6h0M150.0 440.5h0M157.0 445.9h0M166.8 430.7h0M151.9 417.7h0M172.5 409.0h0M248.0 415.2h0M207.5 452.1h0M180.4 440.5h0M196.3 428.1h0M183.7 458.2h0M219.4 422.6h0M160.4 437.8h0M112.9 434.2h0M134.3 461.4h0M187.5 424.2h0M178.2 443.9h0M162.2 449.2h0"/><path d="M153.7 434.9h0M175.9 428.7h0M189.6 427.5h0M196.4 403.7h0M142.5 428.2h0M150.1 416.3h0M155.0 454.7h0M173.9 391.7h0M178.1 419.5h0M173.5 412.3h0M120.9 444.0h0M198.8 429.5h0M183.7 428.6h0M130.0 420.4h0M196.1 433.6h0M203.3 422.9h0M178.5 427.2h0M173.6 420.5h0M197.1 423.4h0M196.0 428.2h0M166.1 431.5h0M154.8 417.3h0M215.8 456.6h0M155.7 418.5h0M190.4 438.5h0M195.0 404.5h0M178.4 412.2h0M125.3 409.9h0M190.5 421.8h0M141.5 446.2h0M181.6 399.0h0M165.5 415.1h0M229.7 410.9h0M152.6 421.4h0M187.7 432.5h0M146.4 379.0h0M174.8 427.3h0M207.5 445.8h0M142.6 412.7h0M181.3 447.5h0M200.9 441.4h0M228.4 446.1h0M235.1 441.4h0M212.9 422.4h0M150.7 437.2h0M173.0 431.1h0M188.0 420.8h0M170.3 465.4h0M199.5 438.4h0M167.6 426.3h0M230.7 429.6h0M126.3 450.3h0M148.7 416.6h0M154.6 466.3h0M238.1 415.3h0M205.5 455.6h0M196.8 401.3h0M165.5 420.3h0M186.3 419.4h0M132.8 443.4h0M131.4 475.8h0M186.6 453.3h0M155.3 427.0h0M177.9 397.0h0M216.2 435.2h0M194.7 426.4h0M157.2 426.2h0M208.0 443.8h0M160.4 465.4h0M115.4 408.9h0M176.7 401.7h0M163.2 417.0h0M172.0 457.2h0M198.0 424.2h0M207.8 424.4h0M177.8 424.4h0M202.1 439.2h0M151.4 447.0h0M144.5 420.9h0M177.7 448.7h0"/><path d="M136.7 425.9h0M200.0 411.1h0M133.9 438.1h0M196.8 417.6h0M183.5 440.0h0M187.7 427.8h0M199.0 433.6h0M225.4 437.4h0M143.5 416.2h0M165.3 466.0h0M177.7 434.9h0M217.8 413.8h0M176.3 446.4h0M189.2 431.2h0M179.3 426.0h0M146.9 398.8h0M155.0 422.7h0M185.0 421.0h0M138.7 445.8h0M210.9 427.1h0M225.1 452.7h0M161.2 422.3h0M140.7 429.0h0M142.3 434.0h0M149.4 410.1h0M105.2 406.8h0M165.0 435.8h0M201.3 442.7h0M199.9 388.3h0M164.0 392.7h0M155.4 424.7h0M198.9 429.5h0M184.9 414.7h0M150.8 426.9h0M232.1 406.1h0M236.8 425.1h0M183.4 458.8h0M158.5 444.0h0M142.7 457.6h0M241.3 418.1h0M191.3 438.1h0M178.9 411.7h0M199.5 445.1h0M198.2 441.6h0M200.9 434.7h0M191.6 441.5h0M170.8 428.1h0M140.7 414.8h0M166.5 432.4h0M172.1 454.4h0M179.8 428.5h0M215.6 430.3h0M157.6 443.8h0M183.8 420.5h0M151.9 452.3h0M164.3 448.5h0M191.4 432.0h0M177.2 436.7h0M162.5 431.5h0M203.9 443.5h0M194.4 404.0h0M147.1 406.9h0M132.5 410.0h0M172.1 449.2h0M184.7 431.4h0M214.6 443.2h0M99.8 434.2h0M205.7 462.2h0M160.1 425.4h0M139.5 453.6h0M137.9 404.2h0M189.1 407.2h0M191.2 417.4h0M163.0 409.3h0M138.0 431.4h0M192.3 421.4h0M185.6 434.7h0M154.5 423.4h0M202.2 441.4h0M154.5 421.5h0"/><path d="M199.6 435.5h0M135.5 450.0h0M177.7 442.0h0M153.9 439.1h0M216.1 448.6h0M126.2 418.6h0M138.7 422.7h0M161.4 453.4h0M218.8 426.2h0M154.3 428.1h0M199.6 405.9h0M196.7 446.7h0M192.6 429.9h0M155.8 413.7h0M174.8 446.0h0M162.9 432.6h0M156.2 439.6h0M180.5 422.7h0M245.0 438.1h0M179.1 441.4h0M179.7 407.8h0M159.3 407.4h0M188.6 438.8h0M181.6 422.3h0M151.1 432.8h0M191.1 429.2h0M165.6 433.2h0M198.5 431.6h0M158.0 435.9h0M174.2 436.2h0M171.4 408.2h0M124.2 400.4h0M188.0 443.4h0M213.9 428.5h0M147.8 439.4h0M145.3 427.9h0M135.7 397.1h0M128.9 422.4h0M133.6 412.0h0M178.1 445.7h0M177.1 466.5h0M131.0 425.4h0M210.8 463.9h0M154.0 430.6h0M203.2 423.6h0M195.9 400.8h0M173.0 432.2h0M197.4 422.7h0M198.8 438.6h0M132.7 453.2h0M190.0 439.6h0M161.8 425.4h0M184.7 433.7h0M177.4 431.9h0M248.6 442.3h0M190.5 438.0h0M232.6 399.8h0M189.2 438.0h0M151.1 418.4h0M175.2 421.4h0M184.9 427.4h0M174.5 419.9h0M215.6 419.8h0M146.1 425.2h0M249.5 426.2h0M163.9 428.9h0M164.9 447.0h0M184.6 427.7h0M151.2 443.1h0M99.5 435.1h0M236.0 408.4h0M99.0 424.2h0M156.5 422.1h0M237.7 463.1h0M152.9 440.4h0M160.4 467.5h0M210.0 437.0h0M183.1 441.1h0M226.9 412.8h0M118.9 401.9h0"/><path d="M184.6 422.9h0M197.5 460.5h0M228.2 419.8h0M140.9 405.3h0M173.8 422.4h0M189.1 444.1h0M199.5 424.0h0M152.7 417.9h0M194.4 416.4h0M148.9 443.2h0M179.8 474.0h0M176.6 438.2h0M140.3 433.0h0M212.1 455.8h0M133.0 423.7h0M178.7 457.1h0M212.0 462.7h0M218.0 416.7h0M164.5 472.9h0M146.4 420.7h0M203.2 429.7h0M207.6 423.6h0M149.1 429.4h0M163.0 435.2h0M184.1 435.1h0M249.5 437.2h0M182.8 436.6h0M203.1 448.8h0M147.0 439.2h0M172.3 431.6h0M159.6 411.9h0M155.5 437.1h0M177.0 415.7h0M191.4 439.7h0M140.9 415.8h0M214.6 417.4h0M157.8 434.1h0M149.7 418.5h0M233.3 443.2h0M168.9 416.8h0M192.6 398.3h0M193.6 450.2h0M163.0 417.9h0M213.6 435.9h0M144.1 426.0h0M143.6 449.9h0M155.7 407.8h0M171.1 436.2h0M206.9 413.6h0M149.2 449.3h0M204.4 420.8h0M205.3 459.4h0M140.4 441.9h0M160.1 458.8h0M149.0 405.1h0M170.4 423.8h0M195.2 408.9h0M182.2 432.5h0M181.6 401.8h0M136.9 413.3h0M207.6 429.6h0M163.3 448.9h0M170.3 418.9h0M140.1 425.3h0M174.2 448.2h0M133.3 455.5h0M202.6 425.5h0M175.1 439.6h0M207.4 433.9h0M264.7 412.5h0M223.9 450.0h0M117.4 431.5h0M222.9 413.7h0M186.4 451.0h0M169.3 424.1h0M120.6 408.6h0M129.9 438.1h0M176.3 407.2h0M166.8 432.3h0M214.1 442.6h0"/><path d="M115.9 429.5h0M216.3 415.3h0M250.2 442.6h0M187.3 438.8h0M178.4 419.7h0M136.4 464.2h0M131.5 429.5h0M190.1 415.0h0M203.9 422.2h0M189.6 439.7h0M162.6 397.7h0M156.1 440.6h0M119.6 439.2h0M197.9 448.4h0M139.0 453.4h0M144.5 440.8h0M170.7 449.8h0M180.7 430.5h0M172.3 413.5h0M162.1 435.4h0M185.3 421.0h0M174.5 438.9h0M184.7 440.2h0M230.6 437.2h0M205.5 427.3h0M137.7 415.6h0M190.0 431.2h0M189.9 407.5h0M146.4 445.3h0M134.0 430.6h0M218.8 434.8h0M171.3 419.1h0M175.7 412.9h0M234.4 433.9h0M156.9 423.9h0M143.7 440.6h0M128.5 419.8h0M146.6 415.2h0M160.9 419.9h0M196.3 437.1h0M198.9 462.4h0M95.3 455.9h0M194.5 375.8h0M172.6 422.5h0M194.3 410.0h0M218.8 410.3h0M109.2 433.1h0M178.9 428.3h0M128.9 449.7h0M218.2 422.1h0M104.9 409.3h0M187.3 425.4h0M158.1 418.3h0M160.7 434.3h0M133.8 410.4h0M123.3 440.2h0M184.3 413.7h0M139.3 437.4h0M197.5 429.2h0M224.1 414.9h0M115.1 440.6h0M166.9 419.4h0M186.0 414.0h0M173.8 434.5h0M242.1 424.0h0M179.9 434.4h0M145.9 478.6h0M216.4 432.0h0M142.4 444.3h0M150.6 442.7h0M173.5 398.4h0M197.3 438.8h0M144.0 429.5h0M148.4 419.1h0M245.9 433.3h0M135.1 424.7h0M213.9 420.6h0M193.2 470.7h0M153.9 440.3h0M181.6 418.7h0"/></g>
<polygon points="250.65,430.53 250.62,429.25 250.51,427.96 250.32,426.68 250.06,425.40 249.73,424.13 249.32,422.86 248.84,421.60 248.29,420.35 247.66,419.11 246.96,417.88 246.20,416.67 245.36,415.47 244.45,414.28 243.48,413.11 242.44,411.95 241.33,410.82 240.16,409.70 238.92,408.61 237.62,407.54 236.26,406.49 234.84,405.46 233.36,404.46 231.82,403.48 230.23,402.54 228.58,401.62 226.88,400.72 225.13,399.86 223.33,399.03 221.49,398.23 219.59,397.46 217.66,396.73 215.68,396.03 213.67,395.36 211.61,394.73 209.52,394.14 207.40,393.58 205.25,393.05 203.07,392.57 200.86,392.12 198.62,391.71 196.36,391.34 194.09,391.01 191.79,390.72 189.48,390.47 187.15,390.26 184.82,390.08 182.47,389.95 180.12,389.86 177.77,389.81 175.41,389.80 173.05,389.83 170.70,389.90 168.35,390.01 166.01,390.16 163.68,390.36 161.36,390.59 159.06,390.86 156.77,391.17 154.50,391.52 152.26,391.91 150.04,392.34 147.84,392.81 145.67,393.31 143.53,393.85 141.43,394.43 139.35,395.04 137.32,395.69 135.32,396.38 133.37,397.09 131.45,397.84 129.58,398.63 127.76,399.44 125.99,400.29 124.26,401.17 122.59,402.07 120.97,403.01 119.40,403.97 117.89,404.96 116.44,405.97 115.05,407.01 113.72,408.07 112.45,409.15 111.25,410.26 110.11,411.38 109.03,412.53 108.02,413.69 107.08,414.87 106.21,416.07 105.41,417.27 104.68,418.50 104.02,419.73 103.43,420.98 102.91,422.23 102.47,423.50 102.10,424.77 101.80,426.04 101.58,427.32 101.43,428.61 101.35,429.89 101.35,431.18 101.43,432.46 101.58,433.75 101.80,435.03 102.10,436.30 102.47,437.57 102.91,438.84 103.43,440.09 104.02,441.34 104.68,442.57 105.41,443.79 106.21,445.00 107.08,446.20 108.02,447.38 109.03,448.54 110.11,449.68 111.25,450.81 112.45,451.91 113.72,453.00 115.05,454.06 116.44,455.10 117.89,456.11 119.40,457.10 120.97,458.06 122.59,459.00 124.26,459.90 125.99,460.78 127.76,461.62 129.58,462.44 131.45,463.22 133.37,463.97 135.32,464.69 137.32,465.38 139.35,466.02 141.43,466.64 143.53,467.22 145.67,467.76 147.84,468.26 150.04,468.73 152.26,469.16 154.50,469.54 156.77,469.90 159.06,470.21 161.36,470.48 163.68,470.71 166.01,470.90 168.35,471.06 170.70,471.17 173.05,471.24 175.41,471.27 177.77,471.26 180.12,471.21 182.47,471.12 184.82,470.98 187.15,470.81 189.48,470.60 191.79,470.35 194.09,470.06 196.36,469.73 198.62,469.35 200.86,468.95 203.07,468.50 205.25,468.01 207.40,467.49 209.52,466.93 211.61,466.34 213.67,465.70 215.68,465.04 217.66,464.34 219.59,463.60 221.49,462.84 223.33,462.04 225.13,461.20 226.88,460.34 228.58,459.45 230.23,458.53 231.82,457.58 233.36,456.61 234.84,455.61 236.26,454.58 237.62,453.53 238.92,452.46 240.16,451.36 241.33,450.25 242.44,449.11 243.48,447.96 244.45,446.79 245.36,445.60 246.20,444.40 246.96,443.18 247.66,441.95 248.29,440.71 248.84,439.46 249.32,438.20 249.73,436.94 250.06,435.66 250.32,434.39 250.51,433.10 250.62,431.82 250.65,430.53" fill="none" stroke="#f00" stroke-width="1.2"/>
<circle cx="176.0" cy="430.5" r="2.4" fill="#f00"/>
<g fill="none" stroke="rgba(0,0,0,0.64)" stroke-width="1.65" stroke-linecap="round"><path d="M503.4 432.1h0M407.0 421.2h0M486.8 435.8h0M461.4 422.6h0M450.5 432.2h0M481.7 438.1h0M495.3 447.7h0M488.0 408.4h0M433.2 431.1h0M408.0 435.2h0M552.9 427.2h0M450.8 443.1h0M409.6 421.1h0M417.3 439.1h0M439.7 435.3h0M452.1 405.1h0M438.5 450.3h0M403.1 465.0h0M473.5 467.3h0M462.1 433.6h0M458.5 449.5h0M442.0 415.7h0M398.9 427.4h0M381.9 428.0h0M451.8 433.3h0M468.5 412.9h0M364.3 438.3h0M438.7 421.4h0M424.8 427.4h0M477.7 414.3h0M440.4 459.3h0M534.2 388.2h0M429.4 418.1h0M435.2 430.4h0M450.4 447.6h0M458.1 442.4h0M468.9 431.2h0M443.8 447.5h0M440.3 431.3h0M398.0 423.3h0M442.5 430.1h0M389.8 428.3h0M453.3 415.5h0M472.3 427.4h0M446.9 417.4h0M504.9 453.7h0M436.8 446.5h0M442.3 416.2h0M438.9 436.4h0M407.4 438.2h0M431.5 408.4h0M487.0 428.8h0M334.7 420.2h0M479.3 439.1h0M513.7 414.2h0M404.3 416.7h0M425.2 433.9h0M413.5 430.3h0M416.8 442.6h0M406.4 412.1h0M507.1 416.1h0M408.3 437.8h0M462.4 436.4h0M477.3 452.9h0M478.6 413.5h0M424.9 466.6h0M381.8 415.1h0M432.0 419.5h0M395.2 411.8h0M423.5 435.3h0M478.1 418.4h0M424.8 429.3h0M496.4 435.4h0M492.9 441.9h0M445.7 427.0h0M435.6 412.0h0M440.0 423.3h0M451.3 450.8h0M448.2 427.7h0M390.1 437.6h0"/><path d="M471.3 399.5h0M470.6 437.5h0M519.5 407.4h0M440.0 411.8h0M420.0 423.9h0M500.6 432.9h0M400.1 423.8h0M405.8 447.5h0M468.7 427.2h0M445.1 432.4h0M504.5 433.6h0M433.3 409.7h0M425.7 423.8h0M474.7 405.2h0M403.4 433.7h0M385.4 441.7h0M463.9 402.4h0M500.5 405.9h0M431.8 472.7h0M447.5 416.7h0M388.4 408.7h0M454.5 409.6h0M409.7 449.5h0M496.1 447.5h0M450.2 421.8h0M461.0 444.4h0M478.7 403.4h0M443.6 416.6h0M447.3 427.6h0M420.0 429.7h0M476.1 450.4h0M433.1 431.3h0M467.2 447.5h0M436.1 416.7h0M461.0 430.9h0M462.3 439.9h0M473.4 421.9h0M480.6 449.2h0M476.2 424.8h0M455.0 409.9h0M489.9 454.1h0M446.0 435.7h0M430.6 436.4h0M439.8 426.1h0M418.7 415.2h0M442.3 410.5h0M467.0 448.1h0M451.2 451.5h0M526.7 423.6h0M446.4 423.9h0M443.2 439.6h0M415.8 443.4h0M417.9 433.0h0M436.8 437.1h0M413.2 432.0h0M468.6 456.3h0M484.8 424.7h0M408.1 404.4h0M472.6 445.5h0M487.8 423.9h0M480.6 434.8h0M452.3 447.5h0M458.8 442.5h0M386.0 433.2h0M432.2 416.7h0M486.0 434.5h0M512.1 443.7h0M442.4 444.5h0M448.6 447.9h0M406.9 415.6h0M426.6 436.8h0M466.0 423.1h0M444.9 404.1h0M457.4 457.9h0M421.3 464.4h0M445.7 457.0h0M413.7 430.9h0M476.0 441.7h0M453.5 412.8h0M407.3 422.7h0"/><path d="M425.7 431.8h0M471.9 432.9h0M437.4 434.0h0M486.6 455.2h0M491.4 449.1h0M399.9 420.9h0M451.3 396.7h0M519.6 464.6h0M429.1 413.8h0M417.0 420.1h0M434.7 420.8h0M447.7 475.6h0M436.5 433.2h0M429.5 443.2h0M447.7 431.8h0M452.0 420.2h0M548.6 443.7h0M401.9 417.9h0M475.5 405.4h0M456.1 413.9h0M502.0 420.8h0M485.5 437.0h0M413.1 423.0h0M434.6 402.7h0M430.2 452.2h0M430.0 411.7h0M473.1 413.0h0M480.7 417.0h0M388.2 431.7h0M408.3 441.8h0M458.1 433.2h0M411.3 460.4h0M441.1 422.3h0M423.3 417.8h0M389.1 417.9h0M472.6 416.1h0M486.1 443.7h0M434.1 427.0h0M462.0 443.0h0M499.5 434.5h0M435.1 440.2h0M452.3 442.0h0M407.3 456.2h0M495.3 437.2h0M444.3 441.0h0M451.5 441.2h0M461.6 424.2h0M506.5 431.9h0M425.7 413.0h0M411.0 425.5h0M502.4 438.6h0M490.2 406.8h0M443.5 422.3h0M470.0 464.9h0M434.9 424.3h0M378.4 431.3h0M445.7 430.0h0M412.1 439.7h0M452.4 424.2h0M356.5 426.9h0M444.6 430.1h0M408.9 422.5h0M496.1 426.5h0M497.6 404.1h0M452.6 442.1h0M436.6 444.5h0M453.1 434.7h0M479.1 419.3h0M425.9 418.6h0M456.2 404.9h0M422.6 449.4h0M426.4 428.7h0M439.0 422.5h0M422.4 443.4h0M448.4 439.4h0M448.2 432.5h0M461.1 415.8h0M438.8 446.6h0M428.6 439.3h0M452.1 415.3h0"/><path d="M417.7 429.1h0M415.7 426.0h0M404.2 449.3h0M444.1 433.7h0M427.5 377.6h0M462.0 432.3h0M411.1 394.8h0M397.2 441.6h0M475.6 423.6h0M415.8 440.7h0M414.4 426.1h0M440.5 432.9h0M436.6 434.6h0M387.1 422.4h0M476.5 399.3h0M470.2 453.2h0M374.6 441.7h0M434.3 438.0h0M415.7 423.1h0M457.0 410.8h0M449.2 476.0h0M359.7 419.3h0M399.9 405.8h0M483.3 436.8h0M372.1 443.2h0M485.4 470.8h0M467.0 418.9h0M487.8 440.2h0M441.5 413.9h0M446.0 441.9h0M469.3 429.3h0M503.8 465.0h0M478.5 423.9h0M457.2 410.8h0M512.0 420.3h0M439.6 430.2h0M438.2 428.5h0M458.7 435.0h0M429.5 406.2h0M432.1 434.6h0M483.1 429.9h0M455.3 411.4h0M401.7 421.0h0M502.3 433.0h0M518.9 438.9h0M426.8 419.1h0M428.1 414.2h0M407.5 415.1h0M420.3 427.1h0M395.9 426.7h0M415.7 434.2h0M409.1 432.6h0M435.1 427.8h0M483.8 431.3h0M437.1 412.6h0M439.9 444.7h0M451.5 460.8h0M461.1 391.9h0M418.1 409.9h0M428.3 438.0h0M418.9 410.0h0M529.7 445.3h0M484.3 415.4h0M502.1 453.6h0M425.5 399.4h0M444.8 440.4h0M463.2 430.9h0M455.0 433.4h0M464.9 418.1h0M483.7 422.5h0M433.6 425.9h0M442.9 440.2h0M492.4 428.1h0M455.0 467.7h0M474.2 428.8h0M459.9 442.3h0M438.2 426.1h0M395.9 430.3h0M394.3 448.8h0M496.0 446.1h0"/><path d="M416.1 436.4h0M432.2 429.6h0M450.7 392.1h0M384.2 422.0h0M453.7 415.8h0M447.0 460.9h0M484.3 429.0h0M387.0 448.6h0M459.8 442.7h0M455.9 410.4h0M433.2 424.8h0M462.0 416.2h0M426.0 434.9h0M377.2 408.7h0M464.1 405.7h0M426.8 405.2h0M470.0 419.5h0M423.3 419.4h0M454.6 472.9h0M468.3 405.2h0M441.3 456.9h0M483.5 427.2h0M448.0 442.8h0M424.9 421.0h0M462.5 442.3h0M430.7 440.9h0M424.3 445.1h0M486.7 434.4h0M442.1 439.3h0M457.6 427.6h0M429.2 449.9h0M417.6 425.7h0M502.0 411.6h0M469.7 429.9h0M408.0 418.0h0M421.7 424.9h0M458.1 432.6h0M429.3 418.1h0M474.8 412.8h0M442.5 445.6h0M468.4 455.6h0M447.5 433.5h0M459.5 457.3h0M472.0 427.7h0M461.4 419.7h0M409.9 453.9h0M455.7 433.7h0M433.0 440.0h0M488.2 432.3h0M408.2 437.7h0M419.7 399.7h0M414.9 400.1h0M441.4 444.2h0M479.1 413.6h0M493.8 437.4h0M389.9 397.1h0M491.8 447.5h0M452.4 423.7h0M484.8 398.7h0M383.0 415.9h0M429.7 396.6h0M451.3 430.2h0M474.1 405.6h0M423.4 440.5h0M482.4 445.9h0M471.3 430.7h0M409.8 417.7h0M419.5 409.0h0M439.4 415.2h0M488.2 452.1h0M422.8 440.5h0M470.4 428.1h0M415.6 458.2h0M474.0 422.6h0M405.1 437.8h0M437.9 434.2h0M398.0 461.4h0M430.3 424.2h0M468.4 443.9h0M396.5 449.2h0"/><path d="M425.2 434.9h0M414.0 428.7h0M414.8 427.5h0M480.8 403.7h0M397.2 428.2h0M457.9 416.3h0M385.7 454.7h0M400.4 391.7h0M403.9 419.5h0M454.3 412.3h0M454.7 444.0h0M380.1 429.5h0M482.6 428.6h0M458.3 420.4h0M384.7 433.6h0M509.0 422.9h0M451.1 427.2h0M432.7 420.5h0M395.9 423.4h0M447.2 428.2h0M445.2 431.5h0M495.5 417.3h0M426.2 456.6h0M455.7 418.5h0M347.7 438.5h0M482.3 404.5h0M494.0 412.2h0M469.6 409.9h0M409.9 421.8h0M382.3 446.2h0M498.1 399.0h0M463.0 415.1h0M402.0 410.9h0M466.4 421.4h0M456.6 432.5h0M402.3 379.0h0M378.3 427.3h0M361.6 445.8h0M375.7 412.7h0M438.0 447.5h0M432.7 441.4h0M454.7 446.1h0M358.3 441.4h0M503.8 422.4h0M436.9 437.2h0M487.0 431.1h0M403.4 420.8h0M430.2 465.4h0M417.6 438.4h0M507.5 426.3h0M443.8 429.6h0M453.8 450.3h0M530.6 416.6h0M375.1 466.3h0M417.8 415.3h0M459.8 455.6h0M439.0 401.3h0M410.9 420.3h0M434.1 419.4h0M426.8 443.4h0M453.5 475.8h0M462.5 453.3h0M478.2 427.0h0M472.9 397.0h0M439.7 435.2h0M417.1 426.4h0M456.0 426.2h0M419.4 443.8h0M458.3 465.4h0M438.3 408.9h0M413.4 401.7h0M436.4 417.0h0M456.2 457.2h0M499.1 424.2h0M394.5 424.4h0M416.2 424.4h0M480.5 439.2h0M441.4 447.0h0M439.9 420.9h0M447.6 448.7h0"/><path d="M459.0 425.9h0M460.2 411.1h0M462.4 438.1h0M431.0 417.6h0M496.5 440.0h0M479.2 427.8h0M438.8 433.6h0M455.4 437.4h0M496.1 416.2h0M487.3 466.0h0M480.7 434.9h0M439.2 413.8h0M447.1 446.4h0M418.4 431.2h0M405.8 426.0h0M416.2 398.8h0M429.6 422.7h0M448.5 421.0h0M411.2 445.8h0M413.6 427.1h0M431.8 452.7h0M428.1 422.3h0M446.9 429.0h0M438.1 434.0h0M403.5 410.1h0M365.8 406.8h0M420.6 435.8h0M463.4 442.7h0M428.1 388.3h0M471.7 392.7h0M480.8 424.7h0M467.5 429.5h0M438.9 414.7h0M464.5 426.9h0M467.4 406.1h0M506.3 425.1h0M452.5 458.8h0M429.0 444.0h0M442.0 457.6h0M447.0 418.1h0M404.1 438.1h0M366.2 411.7h0M450.0 445.1h0M446.1 441.6h0M503.4 434.7h0M413.8 441.5h0M390.5 428.1h0M412.1 414.8h0M376.0 432.4h0M473.6 454.4h0M420.1 428.5h0M432.5 430.3h0M356.8 443.8h0M426.9 420.5h0M460.0 452.3h0M437.5 448.5h0M485.4 432.0h0M485.3 436.7h0M444.1 431.5h0M470.8 443.5h0M431.6 404.0h0M473.1 406.9h0M449.0 410.0h0M448.7 449.2h0M476.2 431.4h0M514.5 443.2h0M403.3 434.2h0M414.1 462.2h0M470.8 425.4h0M388.0 453.6h0M454.5 404.2h0M396.3 407.2h0M458.0 417.4h0M464.4 409.3h0M465.1 431.4h0M352.4 421.4h0M391.6 434.7h0M392.5 423.4h0M493.3 441.4h0M434.4 421.5h0"/><path d="M470.8 435.5h0M389.4 450.0h0M405.6 442.0h0M423.4 439.1h0M403.6 448.6h0M444.4 418.6h0M440.7 422.7h0M460.8 453.4h0M446.1 426.2h0M485.8 428.1h0M472.7 405.9h0M435.1 446.7h0M454.6 429.9h0M444.6 413.7h0M404.0 446.0h0M485.9 432.6h0M418.1 439.6h0M418.7 422.7h0M418.9 438.1h0M421.1 441.4h0M503.7 407.8h0M444.2 407.4h0M466.9 438.8h0M443.5 422.3h0M432.5 432.8h0M419.9 429.2h0M476.2 433.2h0M456.8 431.6h0M468.4 435.9h0M430.6 436.2h0M439.6 408.2h0M392.9 400.4h0M457.8 443.4h0M481.7 428.5h0M477.9 439.4h0M392.6 427.9h0M413.5 397.1h0M437.1 422.4h0M439.8 412.0h0M487.5 445.7h0M464.6 466.5h0M442.0 425.4h0M406.6 463.9h0M465.9 430.6h0M487.5 423.6h0M466.3 400.8h0M432.0 432.2h0M515.8 422.7h0M489.1 438.6h0M404.5 453.2h0M430.2 439.6h0M472.2 425.4h0M474.2 433.7h0M399.5 431.9h0M468.3 442.3h0M388.1 438.0h0M449.5 399.8h0M414.5 438.0h0M476.2 418.4h0M426.5 421.4h0M437.8 427.4h0M403.5 419.9h0M472.0 419.8h0M412.8 425.2h0M421.1 426.2h0M414.0 428.9h0M484.2 447.0h0M475.5 427.7h0M477.4 443.1h0M461.1 435.1h0M418.8 408.4h0M432.8 424.2h0M440.3 422.1h0M447.7 463.1h0M390.6 440.4h0M492.7 467.5h0M433.1 437.0h0M493.9 441.1h0M398.0 412.8h0M423.4 401.9h0"/><path d="M366.5 422.9h0M412.5 460.5h0M435.9 419.8h0M496.2 405.3h0M478.5 422.4h0M417.2 444.1h0M448.5 424.0h0M369.4 417.9h0M468.2 416.4h0M439.4 443.2h0M455.8 474.0h0M407.7 438.2h0M450.9 433.0h0M426.1 455.8h0M440.1 423.7h0M517.9 457.1h0M429.5 462.7h0M439.0 416.7h0M487.8 472.9h0M486.8 420.7h0M494.0 429.7h0M485.4 423.6h0M500.7 429.4h0M486.1 435.2h0M459.1 435.1h0M427.1 437.2h0M438.6 436.6h0M500.8 448.8h0M433.7 439.2h0M431.4 431.6h0M357.3 411.9h0M453.4 437.1h0M421.9 415.7h0M395.3 439.7h0M418.2 415.8h0M472.6 417.4h0M442.4 434.1h0M450.3 418.5h0M488.1 443.2h0M505.3 416.8h0M450.2 398.3h0M422.6 450.2h0M452.8 417.9h0M439.9 435.9h0M405.1 426.0h0M505.1 449.9h0M387.4 407.8h0M411.2 436.2h0M471.0 413.6h0M442.2 449.3h0M429.2 420.8h0M462.5 459.4h0M431.5 441.9h0M419.9 458.8h0M458.9 405.1h0M437.5 423.8h0M448.8 408.9h0M430.0 432.5h0M452.8 401.8h0M427.8 413.3h0M406.2 429.6h0M406.2 448.9h0M431.9 418.9h0M461.8 425.3h0M453.2 448.2h0M436.8 455.5h0M434.4 425.5h0M458.8 439.6h0M434.7 433.9h0M435.9 412.5h0M437.3 450.0h0M429.1 431.5h0M437.6 413.7h0M488.6 451.0h0M405.7 424.1h0M463.6 408.6h0M501.1 438.1h0M447.1 407.2h0M451.1 432.3h0M434.5 442.6h0"/><path d="M451.4 429.5h0M424.8 415.3h0M444.6 442.6h0M406.2 438.8h0M477.7 419.7h0M443.7 464.2h0M522.0 429.5h0M466.2 415.0h0M483.6 422.2h0M417.0 439.7h0M434.9 397.7h0M442.2 440.6h0M421.5 439.2h0M432.6 448.4h0M473.0 453.4h0M394.6 440.8h0M435.7 449.8h0M501.9 430.5h0M447.5 413.5h0M486.7 435.4h0M404.0 421.0h0M452.3 438.9h0M445.3 440.2h0M417.8 437.2h0M470.8 427.3h0M445.4 415.6h0M443.7 431.2h0M423.5 407.5h0M447.3 445.3h0M416.5 430.6h0M454.6 434.8h0M482.7 419.1h0M419.0 412.9h0M445.3 433.9h0M428.9 423.9h0M450.7 440.6h0M485.5 419.8h0M443.9 415.2h0M422.4 419.9h0M454.1 437.1h0M477.8 462.4h0M395.3 455.9h0M507.7 375.8h0M432.6 422.5h0M425.7 410.0h0M457.0 410.3h0M429.5 433.1h0M439.8 428.3h0M393.3 449.7h0M447.1 422.1h0M410.4 409.3h0M519.2 425.4h0M443.8 418.3h0M438.0 434.3h0M371.1 410.4h0M404.7 440.2h0M427.3 413.7h0M395.1 437.4h0M428.4 429.2h0M440.4 414.9h0M398.6 440.6h0M437.8 419.4h0M431.5 414.0h0M462.4 434.5h0M415.9 424.0h0M520.4 434.4h0M425.7 478.6h0M407.3 432.0h0M469.9 444.3h0M466.2 442.7h0M433.8 398.4h0M466.0 438.8h0M449.9 429.5h0M468.2 419.1h0M440.2 433.3h0M461.1 424.7h0M409.7 420.6h0M464.6 470.7h0M512.1 440.3h0M482.0 418.7h0"/></g>
<polygon points="525.69,430.53 525.65,429.25 525.53,427.96 525.32,426.68 525.04,425.40 524.68,424.13 524.23,422.86 523.71,421.60 523.10,420.35 522.42,419.11 521.66,417.88 520.83,416.67 519.91,415.47 518.92,414.28 517.86,413.11 516.73,411.95 515.52,410.82 514.24,409.70 512.89,408.61 511.47,407.54 509.98,406.49 508.43,405.46 506.82,404.46 505.14,403.48 503.41,402.54 501.61,401.62 499.75,400.72 497.85,399.86 495.88,399.03 493.87,398.23 491.81,397.46 489.70,396.73 487.54,396.03 485.34,395.36 483.10,394.73 480.82,394.14 478.51,393.58 476.16,393.05 473.78,392.57 471.36,392.12 468.93,391.71 466.46,391.34 463.98,391.01 461.48,390.72 458.95,390.47 456.42,390.26 453.87,390.08 451.31,389.95 448.75,389.86 446.18,389.81 443.61,389.80 441.04,389.83 438.47,389.90 435.91,390.01 433.36,390.16 430.81,390.36 428.28,390.59 425.77,390.86 423.28,391.17 420.80,391.52 418.35,391.91 415.93,392.34 413.53,392.81 411.17,393.31 408.83,393.85 406.54,394.43 404.28,395.04 402.06,395.69 399.88,396.38 397.74,397.09 395.66,397.84 393.62,398.63 391.63,399.44 389.69,400.29 387.81,401.17 385.99,402.07 384.22,403.01 382.51,403.97 380.87,404.96 379.28,405.97 377.77,407.01 376.31,408.07 374.93,409.15 373.62,410.26 372.37,411.38 371.20,412.53 370.10,413.69 369.07,414.87 368.12,416.07 367.25,417.27 366.45,418.50 365.73,419.73 365.08,420.98 364.52,422.23 364.04,423.50 363.63,424.77 363.31,426.04 363.07,427.32 362.90,428.61 362.82,429.89 362.82,431.18 362.90,432.46 363.07,433.75 363.31,435.03 363.63,436.30 364.04,437.57 364.52,438.84 365.08,440.09 365.73,441.34 366.45,442.57 367.25,443.79 368.12,445.00 369.07,446.20 370.10,447.38 371.20,448.54 372.37,449.68 373.62,450.81 374.93,451.91 376.31,453.00 377.77,454.06 379.28,455.10 380.87,456.11 382.51,457.10 384.22,458.06 385.99,459.00 387.81,459.90 389.69,460.78 391.63,461.62 393.62,462.44 395.66,463.22 397.74,463.97 399.88,464.69 402.06,465.38 404.28,466.02 406.54,466.64 408.83,467.22 411.17,467.76 413.53,468.26 415.93,468.73 418.35,469.16 420.80,469.54 423.28,469.90 425.77,470.21 428.28,470.48 430.81,470.71 433.36,470.90 435.91,471.06 438.47,471.17 441.04,471.24 443.61,471.27 446.18,471.26 448.75,471.21 451.31,471.12 453.87,470.98 456.42,470.81 458.95,470.60 461.48,470.35 463.98,470.06 466.46,469.73 468.93,469.35 471.36,468.95 473.78,468.50 476.16,468.01 478.51,467.49 480.82,466.93 483.10,466.34 485.34,465.70 487.54,465.04 489.70,464.34 491.81,463.60 493.87,462.84 495.88,462.04 497.85,461.20 499.75,460.34 501.61,459.45 503.41,458.53 505.14,457.58 506.82,456.61 508.43,455.61 509.98,454.58 511.47,453.53 512.89,452.46 514.24,451.36 515.52,450.25 516.73,449.11 517.86,447.96 518.92,446.79 519.91,445.60 520.83,444.40 521.66,443.18 522.42,441.95 523.10,440.71 523.71,439.46 524.23,438.20 524.68,436.94 525.04,435.66 525.32,434.39 525.53,433.10 525.65,431.82 525.69,430.53" fill="none" stroke="#f00" stroke-width="1.2"/>
<circle cx="444.3" cy="430.5" r="2.4" fill="#f00"/>
<g fill="none" stroke="rgba(0,0,0,0.64)" stroke-width="1.65" stroke-linecap="round"><path d="M132.6 574.8h0M253.2 577.3h0M212.1 570.9h0M192.2 595.8h0M184.4 612.8h0M188.9 589.6h0M177.8 593.6h0M152.9 563.1h0M167.8 585.0h0M169.9 581.5h0M167.2 598.3h0M233.4 570.6h0M153.3 572.7h0M168.7 586.4h0M150.3 604.5h0M186.5 579.3h0M141.8 606.1h0M174.0 578.7h0M194.9 601.7h0M143.6 591.9h0M107.6 595.9h0M154.8 577.9h0M186.8 579.1h0M147.8 623.4h0M196.7 562.3h0M206.9 565.1h0M180.4 589.4h0M211.9 596.8h0M135.2 613.8h0M182.7 590.4h0M186.1 584.5h0M77.0 608.6h0M140.0 573.1h0M201.3 604.7h0M154.2 592.3h0M168.3 583.8h0M189.6 584.7h0M180.9 585.6h0M147.9 584.6h0M195.0 591.9h0M186.4 598.6h0M162.7 589.6h0M190.4 569.5h0M119.0 572.1h0M114.3 610.2h0M169.1 588.6h0M225.3 581.9h0M172.2 599.3h0M186.1 594.9h0M166.9 595.7h0M118.3 608.1h0M238.9 547.1h0M168.5 600.7h0M221.3 601.6h0M221.6 581.7h0M241.6 612.0h0M193.3 597.0h0M155.5 592.6h0M219.3 597.1h0M191.5 595.8h0M228.5 617.0h0M158.2 564.8h0M148.4 593.3h0M169.7 599.6h0M213.3 577.1h0M150.8 609.0h0M170.2 585.4h0M206.8 618.3h0M218.3 571.6h0M200.2 606.6h0M167.5 609.9h0M173.7 588.6h0M169.9 605.5h0M169.4 609.7h0M242.6 594.9h0M190.3 580.9h0M202.7 621.1h0M178.5 608.5h0M203.9 600.8h0M202.8 598.7h0"/><path d="M218.7 578.2h0M197.7 600.8h0M163.3 584.6h0M199.5 590.0h0M171.2 587.9h0M183.1 587.9h0M190.2 549.1h0M145.1 616.5h0M155.5 588.3h0M190.8 574.0h0M116.3 608.1h0M227.9 602.2h0M177.5 588.3h0M141.9 562.2h0M191.0 578.9h0M228.4 603.0h0M152.6 561.3h0M204.6 577.1h0M173.3 617.2h0M205.9 597.3h0M160.6 582.1h0M225.3 596.0h0M126.7 586.1h0M171.0 600.5h0M209.8 597.2h0M144.3 575.4h0M118.1 612.8h0M197.7 569.5h0M172.0 594.8h0M151.0 590.2h0M171.1 587.1h0M142.0 598.8h0M190.8 591.0h0M173.0 582.5h0M155.6 608.3h0M188.1 629.9h0M176.2 589.0h0M242.9 585.7h0M199.3 578.4h0M200.5 571.7h0M136.4 576.2h0M193.6 567.8h0M195.9 549.4h0M194.1 610.6h0M168.4 586.2h0M166.1 617.4h0M230.1 588.9h0M169.4 581.9h0M165.7 602.5h0M174.7 604.8h0M199.6 562.4h0M118.1 585.1h0M227.7 601.7h0M176.9 568.6h0M203.2 597.2h0M166.2 583.7h0M158.2 588.4h0M177.2 609.2h0M172.2 607.0h0M179.5 572.2h0M131.2 594.0h0M170.7 555.4h0M200.4 611.3h0M174.3 590.8h0M151.3 590.3h0M184.5 579.5h0M161.6 598.0h0M193.7 565.7h0M153.8 581.4h0M159.5 580.4h0M179.7 586.4h0M234.7 551.0h0M190.5 584.4h0M206.3 596.7h0M177.7 611.8h0M213.0 585.1h0M217.5 569.2h0M152.3 590.5h0M118.6 587.0h0M174.9 590.6h0"/><path d="M145.3 608.0h0M150.8 561.1h0M204.7 619.2h0M144.5 557.0h0M215.0 590.8h0M191.4 593.4h0M162.0 582.7h0M179.3 593.1h0M123.6 543.4h0M201.5 602.3h0M177.3 585.8h0M167.8 601.8h0M211.0 542.2h0M228.4 603.6h0M91.9 599.9h0M104.9 568.1h0M176.2 619.1h0M210.7 599.3h0M217.9 560.4h0M179.8 584.1h0M199.9 582.7h0M133.5 584.4h0M155.2 617.2h0M227.3 569.7h0M191.8 568.3h0M195.3 615.8h0M158.9 558.7h0M156.7 589.5h0M113.6 570.1h0M159.2 608.0h0M187.3 595.3h0M127.6 556.5h0M184.5 584.8h0M157.2 586.2h0M190.3 597.7h0M205.8 586.1h0M191.7 571.3h0M191.8 615.3h0M175.8 563.0h0M161.9 601.6h0M172.1 617.7h0M176.7 582.0h0M215.0 595.9h0M108.6 601.2h0M122.5 599.8h0M225.9 577.7h0M173.8 571.5h0M163.8 620.9h0M173.1 577.3h0M174.8 578.6h0M151.1 599.7h0M159.1 574.8h0M162.5 602.3h0M210.9 607.6h0M182.6 583.2h0M223.4 566.8h0M173.5 599.2h0M133.1 600.7h0M186.0 591.3h0M156.5 584.3h0M174.4 569.5h0M204.4 599.2h0M181.6 566.1h0M120.7 600.2h0M159.2 591.4h0M142.4 580.9h0M203.2 589.2h0M193.4 599.2h0M204.7 586.4h0M219.7 595.3h0M195.3 580.8h0M245.7 599.8h0M178.8 614.3h0M164.2 579.9h0M197.4 580.6h0M162.2 572.3h0M163.7 562.2h0M167.2 582.8h0M180.7 608.4h0M180.6 590.6h0"/><path d="M171.2 591.6h0M205.9 586.7h0M123.9 592.5h0M142.4 601.3h0M169.3 575.0h0M190.7 577.4h0M180.4 561.2h0M191.9 593.4h0M206.1 612.8h0M204.5 587.6h0M208.2 588.1h0M201.5 599.5h0M181.6 610.2h0M165.9 604.3h0M164.0 608.5h0M202.2 587.5h0M187.3 590.7h0M211.2 599.3h0M109.5 593.2h0M157.7 580.4h0M187.7 584.0h0M143.9 608.0h0M211.0 584.9h0M159.5 578.6h0M249.4 611.4h0M179.9 560.9h0M200.7 608.4h0M220.9 619.0h0M177.4 581.7h0M212.4 572.3h0M142.0 618.6h0M169.4 575.1h0M153.6 585.6h0M199.4 631.8h0M216.4 571.2h0M185.3 596.8h0M197.2 611.1h0M148.2 593.8h0M130.8 614.7h0M193.6 620.4h0M172.4 579.7h0M174.1 606.8h0M176.5 587.1h0M149.7 590.3h0M181.5 583.2h0M147.6 595.5h0M159.0 589.6h0M132.5 561.2h0M190.8 597.7h0M229.2 599.8h0M168.0 594.9h0M197.8 622.4h0M238.2 600.5h0M183.6 590.5h0M165.2 564.6h0M184.7 621.2h0M188.7 607.4h0M192.4 610.2h0M174.6 597.0h0M167.4 592.6h0M150.3 599.3h0M174.9 568.3h0M117.2 597.5h0M203.0 558.1h0M179.3 627.4h0M167.0 594.6h0M207.4 616.2h0M194.0 576.9h0M176.1 571.1h0M220.5 589.8h0M165.4 579.0h0M172.2 571.2h0M196.0 559.3h0M208.7 596.8h0M204.0 609.4h0M196.7 575.9h0M228.9 579.0h0M172.8 590.6h0M184.3 589.5h0M183.2 540.9h0"/><path d="M174.2 590.7h0M158.8 604.1h0M176.4 579.2h0M136.5 604.5h0M174.7 578.6h0M193.3 545.2h0M125.8 605.2h0M142.1 618.0h0M155.7 614.1h0M182.6 636.3h0M164.4 609.9h0M185.4 586.2h0M177.0 594.6h0M169.3 631.0h0M215.0 597.4h0M191.6 574.9h0M174.1 593.5h0M184.8 607.0h0M194.2 596.5h0M184.7 574.7h0M171.6 604.3h0M166.2 593.3h0M136.0 622.0h0M239.5 575.3h0M192.8 597.6h0M141.7 595.0h0M141.9 604.0h0M209.4 564.2h0M237.4 631.3h0M122.6 589.3h0M186.8 566.4h0M156.1 559.9h0M124.5 593.4h0M175.5 572.0h0M190.1 566.4h0M221.3 603.5h0M167.4 569.3h0M157.3 602.1h0M164.1 573.5h0M190.6 604.3h0M150.3 614.5h0M160.4 591.6h0M152.8 587.3h0M132.3 592.2h0M184.3 592.6h0M166.0 582.3h0M143.4 609.4h0M170.3 607.0h0M196.0 603.9h0M205.2 607.7h0M172.6 596.0h0M135.7 583.7h0M142.3 596.4h0M157.4 573.5h0M164.5 576.5h0M168.0 583.6h0M131.8 579.5h0M168.1 586.0h0M147.3 586.6h0M172.1 593.5h0M200.9 586.6h0M197.7 583.2h0M202.9 546.4h0M150.0 603.7h0M157.0 606.1h0M166.8 575.4h0M151.9 577.0h0M172.5 606.5h0M248.0 586.0h0M207.5 575.0h0M180.4 603.4h0M196.3 593.2h0M183.7 568.5h0M219.4 578.5h0M160.4 579.8h0M112.9 593.3h0M134.3 598.8h0M187.5 622.9h0M178.2 604.8h0M162.2 585.4h0"/><path d="M153.7 579.8h0M175.9 614.6h0M189.6 627.3h0M196.4 585.4h0M142.5 603.9h0M150.1 591.6h0M155.0 592.7h0M173.9 547.8h0M178.1 600.0h0M173.5 602.2h0M120.9 572.7h0M198.8 587.9h0M183.7 588.8h0M130.0 588.7h0M196.1 586.4h0M203.3 605.3h0M178.5 582.2h0M173.6 583.7h0M197.1 554.3h0M196.0 589.7h0M166.1 613.6h0M154.8 604.8h0M215.8 602.9h0M155.7 595.5h0M190.4 585.0h0M195.0 591.4h0M178.4 601.6h0M125.3 588.3h0M190.5 566.0h0M141.5 584.9h0M181.6 596.3h0M165.5 604.2h0M229.7 578.8h0M152.6 587.1h0M187.7 592.9h0M146.4 587.5h0M174.8 597.0h0M207.5 567.5h0M142.6 595.2h0M181.3 584.2h0M200.9 603.5h0M228.4 600.9h0M235.1 598.1h0M212.9 594.8h0M150.7 554.0h0M173.0 608.1h0M188.0 582.0h0M170.3 565.7h0M199.5 594.7h0M167.6 610.9h0M230.7 609.2h0M126.3 603.9h0M148.7 611.2h0M154.6 590.3h0M238.1 579.7h0M205.5 609.6h0M196.8 612.2h0M165.5 604.2h0M186.3 596.4h0M132.8 574.7h0M131.4 592.1h0M186.6 582.4h0M155.3 600.2h0M177.9 577.8h0M216.2 593.3h0M194.7 598.2h0M157.2 582.2h0M208.0 557.6h0M160.4 597.1h0M115.4 618.4h0M176.7 576.2h0M163.2 615.2h0M172.0 610.3h0M198.0 595.0h0M207.8 560.3h0M177.8 611.1h0M202.1 576.8h0M151.4 590.2h0M144.5 601.1h0M177.7 577.2h0"/><path d="M136.7 603.7h0M200.0 596.4h0M133.9 600.5h0M196.8 585.9h0M183.5 576.9h0M187.7 609.6h0M199.0 557.0h0M225.4 597.8h0M143.5 585.0h0M165.3 582.8h0M177.7 565.0h0M217.8 594.0h0M176.3 614.4h0M189.2 617.8h0M179.3 597.4h0M146.9 585.8h0M155.0 575.5h0M185.0 564.8h0M138.7 591.4h0M210.9 595.6h0M225.1 584.7h0M161.2 613.7h0M140.7 566.9h0M142.3 592.5h0M149.4 601.3h0M105.2 594.0h0M165.0 587.9h0M201.3 559.9h0M199.9 587.6h0M164.0 586.0h0M155.4 590.8h0M198.9 620.5h0M184.9 608.8h0M150.8 578.8h0M232.1 598.0h0M236.8 590.4h0M183.4 566.1h0M158.5 565.6h0M142.7 602.3h0M241.3 615.8h0M191.3 585.4h0M178.9 597.6h0M199.5 562.1h0M198.2 593.8h0M200.9 617.3h0M191.6 599.5h0M170.8 621.7h0M140.7 592.1h0M166.5 604.9h0M172.1 561.4h0M179.8 573.9h0M215.6 605.8h0M157.6 605.7h0M183.8 605.8h0M151.9 596.7h0M164.3 592.7h0M191.4 614.1h0M177.2 604.2h0M162.5 560.8h0M203.9 625.4h0M194.4 580.7h0M147.1 616.3h0M132.5 584.9h0M172.1 579.7h0M184.7 588.4h0M214.6 599.1h0M99.8 596.9h0M205.7 590.3h0M160.1 621.5h0M139.5 582.2h0M137.9 587.2h0M189.1 580.6h0M191.2 595.4h0M163.0 588.9h0M138.0 588.4h0M192.3 590.2h0M185.6 570.0h0M154.5 602.4h0M202.2 575.2h0M154.5 598.3h0"/><path d="M199.6 596.2h0M135.5 628.9h0M177.7 579.7h0M153.9 582.0h0M216.1 575.8h0M126.2 592.6h0M138.7 621.4h0M161.4 563.2h0M218.8 582.2h0M154.3 592.0h0M199.6 603.2h0M196.7 571.0h0M192.6 592.0h0M155.8 579.2h0M174.8 581.7h0M162.9 630.0h0M156.2 618.9h0M180.5 587.7h0M245.0 567.1h0M179.1 597.0h0M179.7 590.2h0M159.3 582.1h0M188.6 591.3h0M181.6 594.7h0M151.1 597.0h0M191.1 576.7h0M165.6 579.2h0M198.5 604.2h0M158.0 578.0h0M174.2 596.5h0M171.4 596.1h0M124.2 610.3h0M188.0 596.4h0M213.9 593.3h0M147.8 577.5h0M145.3 596.8h0M135.7 570.3h0M128.9 605.4h0M133.6 595.5h0M178.1 600.8h0M177.1 596.5h0M131.0 562.2h0M210.8 562.6h0M154.0 562.0h0M203.2 597.3h0M195.9 605.5h0M173.0 571.8h0M197.4 560.5h0M198.8 594.7h0M132.7 597.3h0M190.0 614.4h0M161.8 605.1h0M184.7 628.1h0M177.4 585.2h0M248.6 601.6h0M190.5 583.7h0M232.6 588.4h0M189.2 575.7h0M151.1 578.0h0M175.2 603.1h0M184.9 556.8h0M174.5 616.4h0M215.6 580.1h0M146.1 589.8h0M249.5 579.6h0M163.9 595.7h0M164.9 598.1h0M184.6 562.2h0M151.2 625.6h0M99.5 583.1h0M236.0 580.1h0M99.0 571.8h0M156.5 610.8h0M237.7 612.1h0M152.9 628.4h0M160.4 578.2h0M210.0 565.0h0M183.1 586.0h0M226.9 594.5h0M118.9 576.2h0"/><path d="M184.6 592.0h0M197.5 583.9h0M228.2 591.0h0M140.9 568.2h0M173.8 595.3h0M189.1 600.0h0M199.5 585.3h0M152.7 604.8h0M194.4 603.9h0M148.9 593.9h0M179.8 604.0h0M176.6 556.2h0M140.3 579.2h0M212.1 565.3h0M133.0 556.9h0M178.7 593.0h0M212.0 597.2h0M218.0 603.1h0M164.5 589.3h0M146.4 585.8h0M203.2 597.7h0M207.6 638.7h0M149.1 572.3h0M163.0 543.8h0M184.1 593.4h0M249.5 581.1h0M182.8 598.2h0M203.1 597.9h0M147.0 591.6h0M172.3 591.4h0M159.6 600.2h0M155.5 632.1h0M177.0 592.8h0M191.4 581.2h0M140.9 584.8h0M214.6 565.8h0M157.8 584.9h0M149.7 598.1h0M233.3 603.0h0M168.9 581.4h0M192.6 592.6h0M193.6 607.6h0M163.0 632.1h0M213.6 632.8h0M144.1 577.0h0M143.6 563.4h0M155.7 596.0h0M171.1 615.5h0M206.9 592.8h0M149.2 565.2h0M204.4 577.6h0M205.3 577.5h0M140.4 589.6h0M160.1 599.8h0M149.0 603.9h0M170.4 609.5h0M195.2 557.2h0M182.2 618.0h0M181.6 575.2h0M136.9 613.9h0M207.6 614.9h0M163.3 587.2h0M170.3 598.7h0M140.1 609.6h0M174.2 597.9h0M133.3 558.3h0M202.6 589.8h0M175.1 604.2h0M207.4 576.8h0M264.7 594.7h0M223.9 592.5h0M117.4 580.4h0M222.9 601.3h0M186.4 573.6h0M169.3 570.9h0M120.6 622.8h0M129.9 569.7h0M176.3 585.4h0M166.8 599.6h0M214.1 573.7h0"/><path d="M115.9 579.3h0M216.3 582.3h0M250.2 623.5h0M187.3 594.1h0M178.4 574.9h0M136.4 584.5h0M131.5 616.5h0M190.1 613.3h0M203.9 595.2h0M189.6 564.4h0M162.6 591.0h0M156.1 603.9h0M119.6 615.7h0M197.9 584.4h0M139.0 584.4h0M144.5 604.7h0M170.7 602.1h0M180.7 603.7h0M172.3 573.6h0M162.1 599.9h0M185.3 587.4h0M174.5 587.7h0M184.7 611.3h0M230.6 594.8h0M205.5 600.0h0M137.7 600.8h0M190.0 590.0h0M189.9 593.2h0M146.4 587.8h0M134.0 612.8h0M218.8 596.7h0M171.3 569.2h0M175.7 618.6h0M234.4 613.1h0M156.9 560.3h0M143.7 587.4h0M128.5 599.0h0M146.6 611.8h0M160.9 582.6h0M196.3 614.4h0M198.9 583.3h0M95.3 569.5h0M194.5 592.9h0M172.6 596.1h0M194.3 599.7h0M218.8 623.8h0M109.2 604.1h0M178.9 575.4h0M128.9 574.4h0M218.2 611.4h0M104.9 611.8h0M187.3 593.3h0M158.1 583.3h0M160.7 573.2h0M133.8 574.2h0M123.3 612.4h0M184.3 604.2h0M139.3 574.4h0M197.5 613.9h0M224.1 570.9h0M115.1 590.5h0M166.9 594.4h0M186.0 607.7h0M173.8 581.4h0M242.1 588.1h0M179.9 621.7h0M145.9 576.0h0M216.4 600.5h0M142.4 583.0h0M150.6 587.7h0M173.5 580.2h0M197.3 579.1h0M144.0 597.2h0M148.4 611.5h0M245.9 590.1h0M135.1 585.1h0M213.9 574.6h0M193.2 614.9h0M153.9 564.6h0M181.6 611.9h0"/></g>
<polygon points="250.65,591.54 250.62,590.27 250.51,589.00 250.32,587.74 250.06,586.48 249.73,585.22 249.32,583.98 248.84,582.74 248.29,581.50 247.66,580.28 246.96,579.07 246.20,577.87 245.36,576.69 244.45,575.52 243.48,574.36 242.44,573.23 241.33,572.11 240.16,571.01 238.92,569.93 237.62,568.87 236.26,567.84 234.84,566.83 233.36,565.84 231.82,564.88 230.23,563.95 228.58,563.04 226.88,562.16 225.13,561.31 223.33,560.49 221.49,559.70 219.59,558.95 217.66,558.22 215.68,557.53 213.67,556.88 211.61,556.25 209.52,555.67 207.40,555.12 205.25,554.60 203.07,554.12 200.86,553.68 198.62,553.28 196.36,552.91 194.09,552.59 191.79,552.30 189.48,552.05 187.15,551.84 184.82,551.67 182.47,551.54 180.12,551.45 177.77,551.40 175.41,551.39 173.05,551.42 170.70,551.49 168.35,551.60 166.01,551.75 163.68,551.94 161.36,552.17 159.06,552.44 156.77,552.75 154.50,553.09 152.26,553.48 150.04,553.90 147.84,554.36 145.67,554.85 143.53,555.39 141.43,555.96 139.35,556.56 137.32,557.20 135.32,557.87 133.37,558.58 131.45,559.32 129.58,560.09 127.76,560.90 125.99,561.73 124.26,562.60 122.59,563.49 120.97,564.41 119.40,565.36 117.89,566.33 116.44,567.33 115.05,568.35 113.72,569.40 112.45,570.47 111.25,571.56 110.11,572.66 109.03,573.79 108.02,574.94 107.08,576.10 106.21,577.28 105.41,578.47 104.68,579.67 104.02,580.89 103.43,582.12 102.91,583.36 102.47,584.60 102.10,585.85 101.80,587.11 101.58,588.37 101.43,589.64 101.35,590.90 101.35,592.17 101.43,593.44 101.58,594.70 101.80,595.96 102.10,597.22 102.47,598.47 102.91,599.72 103.43,600.95 104.02,602.18 104.68,603.40 105.41,604.60 106.21,605.79 107.08,606.97 108.02,608.13 109.03,609.28 110.11,610.41 111.25,611.52 112.45,612.61 113.72,613.67 115.05,614.72 116.44,615.74 117.89,616.74 119.40,617.72 120.97,618.66 122.59,619.58 124.26,620.48 125.99,621.34 127.76,622.17 129.58,622.98 131.45,623.75 133.37,624.49 135.32,625.20 137.32,625.87 139.35,626.51 141.43,627.12 143.53,627.68 145.67,628.22 147.84,628.71 150.04,629.17 152.26,629.60 154.50,629.98 156.77,630.33 159.06,630.63 161.36,630.90 163.68,631.13 166.01,631.32 168.35,631.47 170.70,631.58 173.05,631.65 175.41,631.68 177.77,631.67 180.12,631.62 182.47,631.53 184.82,631.40 187.15,631.23 189.48,631.02 191.79,630.77 194.09,630.48 196.36,630.16 198.62,629.79 200.86,629.39 203.07,628.95 205.25,628.47 207.40,627.96 209.52,627.40 211.61,626.82 213.67,626.20 215.68,625.54 217.66,624.85 219.59,624.12 221.49,623.37 223.33,622.58 225.13,621.76 226.88,620.91 228.58,620.03 230.23,619.13 231.82,618.19 233.36,617.23 234.84,616.25 236.26,615.23 237.62,614.20 238.92,613.14 240.16,612.06 241.33,610.96 242.44,609.85 243.48,608.71 244.45,607.55 245.36,606.38 246.20,605.20 246.96,604.00 247.66,602.79 248.29,601.57 248.84,600.34 249.32,599.10 249.73,597.85 250.06,596.59 250.32,595.33 250.51,594.07 250.62,592.80 250.65,591.54" fill="none" stroke="#f00" stroke-width="1.2"/>
<circle cx="176.0" cy="591.5" r="2.4" fill="#f00"/>
<g fill="none" stroke="rgba(0,0,0,0.64)" stroke-width="1.65" stroke-linecap="round"><path d="M503.4 574.8h0M407.0 577.3h0M486.8 570.9h0M461.4 595.8h0M450.5 612.8h0M481.7 589.6h0M495.3 593.6h0M488.0 563.1h0M433.2 585.0h0M408.0 581.5h0M552.9 598.3h0M450.8 570.6h0M409.6 572.7h0M417.3 586.4h0M439.7 604.5h0M452.1 579.3h0M438.5 606.1h0M403.1 578.7h0M473.5 601.7h0M462.1 591.9h0M458.5 595.9h0M442.0 577.9h0M398.9 579.1h0M381.9 623.4h0M451.8 562.3h0M468.5 565.1h0M364.3 589.4h0M438.7 596.8h0M424.8 613.8h0M477.7 590.4h0M440.4 584.5h0M534.2 608.6h0M429.4 573.1h0M435.2 604.7h0M450.4 592.3h0M458.1 583.8h0M468.9 584.7h0M443.8 585.6h0M440.3 584.6h0M398.0 591.9h0M442.5 598.6h0M389.8 589.6h0M453.3 569.5h0M472.3 572.1h0M446.9 610.2h0M504.9 588.6h0M436.8 581.9h0M442.3 599.3h0M438.9 594.9h0M407.4 595.7h0M431.5 608.1h0M487.0 547.1h0M334.7 600.7h0M479.3 601.6h0M513.7 581.7h0M404.3 612.0h0M425.2 597.0h0M413.5 592.6h0M416.8 597.1h0M406.4 595.8h0M507.1 617.0h0M408.3 564.8h0M462.4 593.3h0M477.3 599.6h0M478.6 577.1h0M424.9 609.0h0M381.8 585.4h0M432.0 618.3h0M395.2 571.6h0M423.5 606.6h0M478.1 609.9h0M424.8 588.6h0M496.4 605.5h0M492.9 609.7h0M445.7 594.9h0M435.6 580.9h0M440.0 621.1h0M451.3 608.5h0M448.2 600.8h0M390.1 598.7h0"/><path d="M471.3 578.2h0M470.6 600.8h0M519.5 584.6h0M440.0 590.0h0M420.0 587.9h0M500.6 587.9h0M400.1 549.1h0M405.8 616.5h0M468.7 588.3h0M445.1 574.0h0M504.5 608.1h0M433.3 602.2h0M425.7 588.3h0M474.7 562.2h0M403.4 578.9h0M385.4 603.0h0M463.9 561.3h0M500.5 577.1h0M431.8 617.2h0M447.5 597.3h0M388.4 582.1h0M454.5 596.0h0M409.7 586.1h0M496.1 600.5h0M450.2 597.2h0M461.0 575.4h0M478.7 612.8h0M443.6 569.5h0M447.3 594.8h0M420.0 590.2h0M476.1 587.1h0M433.1 598.8h0M467.2 591.0h0M436.1 582.5h0M461.0 608.3h0M462.3 629.9h0M473.4 589.0h0M480.6 585.7h0M476.2 578.4h0M455.0 571.7h0M489.9 576.2h0M446.0 567.8h0M430.6 549.4h0M439.8 610.6h0M418.7 586.2h0M442.3 617.4h0M467.0 588.9h0M451.2 581.9h0M526.7 602.5h0M446.4 604.8h0M443.2 562.4h0M415.8 585.1h0M417.9 601.7h0M436.8 568.6h0M413.2 597.2h0M468.6 583.7h0M484.8 588.4h0M408.1 609.2h0M472.6 607.0h0M487.8 572.2h0M480.6 594.0h0M452.3 555.4h0M458.8 611.3h0M386.0 590.8h0M432.2 590.3h0M486.0 579.5h0M512.1 598.0h0M442.4 565.7h0M448.6 581.4h0M406.9 580.4h0M426.6 586.4h0M466.0 551.0h0M444.9 584.4h0M457.4 596.7h0M421.3 611.8h0M445.7 585.1h0M413.7 569.2h0M476.0 590.5h0M453.5 587.0h0M407.3 590.6h0"/><path d="M425.7 608.0h0M471.9 561.1h0M437.4 619.2h0M486.6 557.0h0M491.4 590.8h0M399.9 593.4h0M451.3 582.7h0M519.6 593.1h0M429.1 543.4h0M417.0 602.3h0M434.7 585.8h0M447.7 601.8h0M436.5 542.2h0M429.5 603.6h0M447.7 599.9h0M452.0 568.1h0M548.6 619.1h0M401.9 599.3h0M475.5 560.4h0M456.1 584.1h0M502.0 582.7h0M485.5 584.4h0M413.1 617.2h0M434.6 569.7h0M430.2 568.3h0M430.0 615.8h0M473.1 558.7h0M480.7 589.5h0M388.2 570.1h0M408.3 608.0h0M458.1 595.3h0M411.3 556.5h0M441.1 584.8h0M423.3 586.2h0M389.1 597.7h0M472.6 586.1h0M486.1 571.3h0M434.1 615.3h0M462.0 563.0h0M499.5 601.6h0M435.1 617.7h0M452.3 582.0h0M407.3 595.9h0M495.3 601.2h0M444.3 599.8h0M451.5 577.7h0M461.6 571.5h0M506.5 620.9h0M425.7 577.3h0M411.0 578.6h0M502.4 599.7h0M490.2 574.8h0M443.5 602.3h0M470.0 607.6h0M434.9 583.2h0M378.4 566.8h0M445.7 599.2h0M412.1 600.7h0M452.4 591.3h0M356.5 584.3h0M444.6 569.5h0M408.9 599.2h0M496.1 566.1h0M497.6 600.2h0M452.6 591.4h0M436.6 580.9h0M453.1 589.2h0M479.1 599.2h0M425.9 586.4h0M456.2 595.3h0M422.6 580.8h0M426.4 599.8h0M439.0 614.3h0M422.4 579.9h0M448.4 580.6h0M448.2 572.3h0M461.1 562.2h0M438.8 582.8h0M428.6 608.4h0M452.1 590.6h0"/><path d="M417.7 591.6h0M415.7 586.7h0M404.2 592.5h0M444.1 601.3h0M427.5 575.0h0M462.0 577.4h0M411.1 561.2h0M397.2 593.4h0M475.6 612.8h0M415.8 587.6h0M414.4 588.1h0M440.5 599.5h0M436.6 610.2h0M387.1 604.3h0M476.5 608.5h0M470.2 587.5h0M374.6 590.7h0M434.3 599.3h0M415.7 593.2h0M457.0 580.4h0M449.2 584.0h0M359.7 608.0h0M399.9 584.9h0M483.3 578.6h0M372.1 611.4h0M485.4 560.9h0M467.0 608.4h0M487.8 619.0h0M441.5 581.7h0M446.0 572.3h0M469.3 618.6h0M503.8 575.1h0M478.5 585.6h0M457.2 631.8h0M512.0 571.2h0M439.6 596.8h0M438.2 611.1h0M458.7 593.8h0M429.5 614.7h0M432.1 620.4h0M483.1 579.7h0M455.3 606.8h0M401.7 587.1h0M502.3 590.3h0M518.9 583.2h0M426.8 595.5h0M428.1 589.6h0M407.5 561.2h0M420.3 597.7h0M395.9 599.8h0M415.7 594.9h0M409.1 622.4h0M435.1 600.5h0M483.8 590.5h0M437.1 564.6h0M439.9 621.2h0M451.5 607.4h0M461.1 610.2h0M418.1 597.0h0M428.3 592.6h0M418.9 599.3h0M529.7 568.3h0M484.3 597.5h0M502.1 558.1h0M425.5 627.4h0M444.8 594.6h0M463.2 616.2h0M455.0 576.9h0M464.9 571.1h0M483.7 589.8h0M433.6 579.0h0M442.9 571.2h0M492.4 559.3h0M455.0 596.8h0M474.2 609.4h0M459.9 575.9h0M438.2 579.0h0M395.9 590.6h0M394.3 589.5h0M496.0 540.9h0"/><path d="M416.1 590.7h0M432.2 604.1h0M450.7 579.2h0M384.2 604.5h0M453.7 578.6h0M447.0 545.2h0M484.3 605.2h0M387.0 618.0h0M459.8 614.1h0M455.9 636.3h0M433.2 609.9h0M462.0 586.2h0M426.0 594.6h0M377.2 631.0h0M464.1 597.4h0M426.8 574.9h0M470.0 593.5h0M423.3 607.0h0M454.6 596.5h0M468.3 574.7h0M441.3 604.3h0M483.5 593.3h0M448.0 622.0h0M424.9 575.3h0M462.5 597.6h0M430.7 595.0h0M424.3 604.0h0M486.7 564.2h0M442.1 631.3h0M457.6 589.3h0M429.2 566.4h0M417.6 559.9h0M502.0 593.4h0M469.7 572.0h0M408.0 566.4h0M421.7 603.5h0M458.1 569.3h0M429.3 602.1h0M474.8 573.5h0M442.5 604.3h0M468.4 614.5h0M447.5 591.6h0M459.5 587.3h0M472.0 592.2h0M461.4 592.6h0M409.9 582.3h0M455.7 609.4h0M433.0 607.0h0M488.2 603.9h0M408.2 607.7h0M419.7 596.0h0M414.9 583.7h0M441.4 596.4h0M479.1 573.5h0M493.8 576.5h0M389.9 583.6h0M491.8 579.5h0M452.4 586.0h0M484.8 586.6h0M383.0 593.5h0M429.7 586.6h0M451.3 583.2h0M474.1 546.4h0M423.4 603.7h0M482.4 606.1h0M471.3 575.4h0M409.8 577.0h0M419.5 606.5h0M439.4 586.0h0M488.2 575.0h0M422.8 603.4h0M470.4 593.2h0M415.6 568.5h0M474.0 578.5h0M405.1 579.8h0M437.9 593.3h0M398.0 598.8h0M430.3 622.9h0M468.4 604.8h0M396.5 585.4h0"/><path d="M425.2 579.8h0M414.0 614.6h0M414.8 627.3h0M480.8 585.4h0M397.2 603.9h0M457.9 591.6h0M385.7 592.7h0M400.4 547.8h0M403.9 600.0h0M454.3 602.2h0M454.7 572.7h0M380.1 587.9h0M482.6 588.8h0M458.3 588.7h0M384.7 586.4h0M509.0 605.3h0M451.1 582.2h0M432.7 583.7h0M395.9 554.3h0M447.2 589.7h0M445.2 613.6h0M495.5 604.8h0M426.2 602.9h0M455.7 595.5h0M347.7 585.0h0M482.3 591.4h0M494.0 601.6h0M469.6 588.3h0M409.9 566.0h0M382.3 584.9h0M498.1 596.3h0M463.0 604.2h0M402.0 578.8h0M466.4 587.1h0M456.6 592.9h0M402.3 587.5h0M378.3 597.0h0M361.6 567.5h0M375.7 595.2h0M438.0 584.2h0M432.7 603.5h0M454.7 600.9h0M358.3 598.1h0M503.8 594.8h0M436.9 554.0h0M487.0 608.1h0M403.4 582.0h0M430.2 565.7h0M417.6 594.7h0M507.5 610.9h0M443.8 609.2h0M453.8 603.9h0M530.6 611.2h0M375.1 590.3h0M417.8 579.7h0M459.8 609.6h0M439.0 612.2h0M410.9 604.2h0M434.1 596.4h0M426.8 574.7h0M453.5 592.1h0M462.5 582.4h0M478.2 600.2h0M472.9 577.8h0M439.7 593.3h0M417.1 598.2h0M456.0 582.2h0M419.4 557.6h0M458.3 597.1h0M438.3 618.4h0M413.4 576.2h0M436.4 615.2h0M456.2 610.3h0M499.1 595.0h0M394.5 560.3h0M416.2 611.1h0M480.5 576.8h0M441.4 590.2h0M439.9 601.1h0M447.6 577.2h0"/><path d="M459.0 603.7h0M460.2 596.4h0M462.4 600.5h0M431.0 585.9h0M496.5 576.9h0M479.2 609.6h0M438.8 557.0h0M455.4 597.8h0M496.1 585.0h0M487.3 582.8h0M480.7 565.0h0M439.2 594.0h0M447.1 614.4h0M418.4 617.8h0M405.8 597.4h0M416.2 585.8h0M429.6 575.5h0M448.5 564.8h0M411.2 591.4h0M413.6 595.6h0M431.8 584.7h0M428.1 613.7h0M446.9 566.9h0M438.1 592.5h0M403.5 601.3h0M365.8 594.0h0M420.6 587.9h0M463.4 559.9h0M428.1 587.6h0M471.7 586.0h0M480.8 590.8h0M467.5 620.5h0M438.9 608.8h0M464.5 578.8h0M467.4 598.0h0M506.3 590.4h0M452.5 566.1h0M429.0 565.6h0M442.0 602.3h0M447.0 615.8h0M404.1 585.4h0M366.2 597.6h0M450.0 562.1h0M446.1 593.8h0M503.4 617.3h0M413.8 599.5h0M390.5 621.7h0M412.1 592.1h0M376.0 604.9h0M473.6 561.4h0M420.1 573.9h0M432.5 605.8h0M356.8 605.7h0M426.9 605.8h0M460.0 596.7h0M437.5 592.7h0M485.4 614.1h0M485.3 604.2h0M444.1 560.8h0M470.8 625.4h0M431.6 580.7h0M473.1 616.3h0M449.0 584.9h0M448.7 579.7h0M476.2 588.4h0M514.5 599.1h0M403.3 596.9h0M414.1 590.3h0M470.8 621.5h0M388.0 582.2h0M454.5 587.2h0M396.3 580.6h0M458.0 595.4h0M464.4 588.9h0M465.1 588.4h0M352.4 590.2h0M391.6 570.0h0M392.5 602.4h0M493.3 575.2h0M434.4 598.3h0"/><path d="M470.8 596.2h0M389.4 628.9h0M405.6 579.7h0M423.4 582.0h0M403.6 575.8h0M444.4 592.6h0M440.7 621.4h0M460.8 563.2h0M446.1 582.2h0M485.8 592.0h0M472.7 603.2h0M435.1 571.0h0M454.6 592.0h0M444.6 579.2h0M404.0 581.7h0M485.9 630.0h0M418.1 618.9h0M418.7 587.7h0M418.9 567.1h0M421.1 597.0h0M503.7 590.2h0M444.2 582.1h0M466.9 591.3h0M443.5 594.7h0M432.5 597.0h0M419.9 576.7h0M476.2 579.2h0M456.8 604.2h0M468.4 578.0h0M430.6 596.5h0M439.6 596.1h0M392.9 610.3h0M457.8 596.4h0M481.7 593.3h0M477.9 577.5h0M392.6 596.8h0M413.5 570.3h0M437.1 605.4h0M439.8 595.5h0M487.5 600.8h0M464.6 596.5h0M442.0 562.2h0M406.6 562.6h0M465.9 562.0h0M487.5 597.3h0M466.3 605.5h0M432.0 571.8h0M515.8 560.5h0M489.1 594.7h0M404.5 597.3h0M430.2 614.4h0M472.2 605.1h0M474.2 628.1h0M399.5 585.2h0M468.3 601.6h0M388.1 583.7h0M449.5 588.4h0M414.5 575.7h0M476.2 578.0h0M426.5 603.1h0M437.8 556.8h0M403.5 616.4h0M472.0 580.1h0M412.8 589.8h0M421.1 579.6h0M414.0 595.7h0M484.2 598.1h0M475.5 562.2h0M477.4 625.6h0M461.1 583.1h0M418.8 580.1h0M432.8 571.8h0M440.3 610.8h0M447.7 612.1h0M390.6 628.4h0M492.7 578.2h0M433.1 565.0h0M493.9 586.0h0M398.0 594.5h0M423.4 576.2h0"/><path d="M366.5 592.0h0M412.5 583.9h0M435.9 591.0h0M496.2 568.2h0M478.5 595.3h0M417.2 600.0h0M448.5 585.3h0M369.4 604.8h0M468.2 603.9h0M439.4 593.9h0M455.8 604.0h0M407.7 556.2h0M450.9 579.2h0M426.1 565.3h0M440.1 556.9h0M517.9 593.0h0M429.5 597.2h0M439.0 603.1h0M487.8 589.3h0M486.8 585.8h0M494.0 597.7h0M485.4 638.7h0M500.7 572.3h0M486.1 543.8h0M459.1 593.4h0M427.1 581.1h0M438.6 598.2h0M500.8 597.9h0M433.7 591.6h0M431.4 591.4h0M357.3 600.2h0M453.4 632.1h0M421.9 592.8h0M395.3 581.2h0M418.2 584.8h0M472.6 565.8h0M442.4 584.9h0M450.3 598.1h0M488.1 603.0h0M505.3 581.4h0M450.2 592.6h0M422.6 607.6h0M452.8 632.1h0M439.9 632.8h0M405.1 577.0h0M505.1 563.4h0M387.4 596.0h0M411.2 615.5h0M471.0 592.8h0M442.2 565.2h0M429.2 577.6h0M462.5 577.5h0M431.5 589.6h0M419.9 599.8h0M458.9 603.9h0M437.5 609.5h0M448.8 557.2h0M430.0 618.0h0M452.8 575.2h0M427.8 613.9h0M406.2 614.9h0M406.2 587.2h0M431.9 598.7h0M461.8 609.6h0M453.2 597.9h0M436.8 558.3h0M434.4 589.8h0M458.8 604.2h0M434.7 576.8h0M435.9 594.7h0M437.3 592.5h0M429.1 580.4h0M437.6 601.3h0M488.6 573.6h0M405.7 570.9h0M463.6 622.8h0M501.1 569.7h0M447.1 585.4h0M451.1 599.6h0M434.5 573.7h0"/><path d="M451.4 579.3h0M424.8 582.3h0M444.6 623.5h0M406.2 594.1h0M477.7 574.9h0M443.7 584.5h0M522.0 616.5h0M466.2 613.3h0M483.6 595.2h0M417.0 564.4h0M434.9 591.0h0M442.2 603.9h0M421.5 615.7h0M432.6 584.4h0M473.0 584.4h0M394.6 604.7h0M435.7 602.1h0M501.9 603.7h0M447.5 573.6h0M486.7 599.9h0M404.0 587.4h0M452.3 587.7h0M445.3 611.3h0M417.8 594.8h0M470.8 600.0h0M445.4 600.8h0M443.7 590.0h0M423.5 593.2h0M447.3 587.8h0M416.5 612.8h0M454.6 596.7h0M482.7 569.2h0M419.0 618.6h0M445.3 613.1h0M428.9 560.3h0M450.7 587.4h0M485.5 599.0h0M443.9 611.8h0M422.4 582.6h0M454.1 614.4h0M477.8 583.3h0M395.3 569.5h0M507.7 592.9h0M432.6 596.1h0M425.7 599.7h0M457.0 623.8h0M429.5 604.1h0M439.8 575.4h0M393.3 574.4h0M447.1 611.4h0M410.4 611.8h0M519.2 593.3h0M443.8 583.3h0M438.0 573.2h0M371.1 574.2h0M404.7 612.4h0M427.3 604.2h0M395.1 574.4h0M428.4 613.9h0M440.4 570.9h0M398.6 590.5h0M437.8 594.4h0M431.5 607.7h0M462.4 581.4h0M415.9 588.1h0M520.4 621.7h0M425.7 576.0h0M407.3 600.5h0M469.9 583.0h0M466.2 587.7h0M433.8 580.2h0M466.0 579.1h0M449.9 597.2h0M468.2 611.5h0M440.2 590.1h0M461.1 585.1h0M409.7 574.6h0M464.6 614.9h0M512.1 564.6h0M482.0 611.9h0"/></g>
<polygon points="525.69,591.54 525.65,590.27 525.53,589.00 525.32,587.74 525.04,586.48 524.68,585.22 524.23,583.98 523.71,582.74 523.10,581.50 522.42,580.28 521.66,579.07 520.83,577.87 519.91,576.69 518.92,575.52 517.86,574.36 516.73,573.23 515.52,572.11 514.24,571.01 512.89,569.93 511.47,568.87 509.98,567.84 508.43,566.83 506.82,565.84 505.14,564.88 503.41,563.95 501.61,563.04 499.75,562.16 497.85,561.31 495.88,560.49 493.87,559.70 491.81,558.95 489.70,558.22 487.54,557.53 485.34,556.88 483.10,556.25 480.82,555.67 478.51,555.12 476.16,554.60 473.78,554.12 471.36,553.68 468.93,553.28 466.46,552.91 463.98,552.59 461.48,552.30 458.95,552.05 456.42,551.84 453.87,551.67 451.31,551.54 448.75,551.45 446.18,551.40 443.61,551.39 441.04,551.42 438.47,551.49 435.91,551.60 433.36,551.75 430.81,551.94 428.28,552.17 425.77,552.44 423.28,552.75 420.80,553.09 418.35,553.48 415.93,553.90 413.53,554.36 411.17,554.85 408.83,555.39 406.54,555.96 404.28,556.56 402.06,557.20 399.88,557.87 397.74,558.58 395.66,559.32 393.62,560.09 391.63,560.90 389.69,561.73 387.81,562.60 385.99,563.49 384.22,564.41 382.51,565.36 380.87,566.33 379.28,567.33 377.77,568.35 376.31,569.40 374.93,570.47 373.62,571.56 372.37,572.66 371.20,573.79 370.10,574.94 369.07,576.10 368.12,577.28 367.25,578.47 366.45,579.67 365.73,580.89 365.08,582.12 364.52,583.36 364.04,584.60 363.63,585.85 363.31,587.11 363.07,588.37 362.90,589.64 362.82,590.90 362.82,592.17 362.90,593.44 363.07,594.70 363.31,595.96 363.63,597.22 364.04,598.47 364.52,599.72 365.08,600.95 365.73,602.18 366.45,603.40 367.25,604.60 368.12,605.79 369.07,606.97 370.10,608.13 371.20,609.28 372.37,610.41 373.62,611.52 374.93,612.61 376.31,613.67 377.77,614.72 379.28,615.74 380.87,616.74 382.51,617.72 384.22,618.66 385.99,619.58 387.81,620.48 389.69,621.34 391.63,622.17 393.62,622.98 395.66,623.75 397.74,624.49 399.88,625.20 402.06,625.87 404.28,626.51 406.54,627.12 408.83,627.68 411.17,628.22 413.53,628.71 415.93,629.17 418.35,629.60 420.80,629.98 423.28,630.33 425.77,630.63 428.28,630.90 430.81,631.13 433.36,631.32 435.91,631.47 438.47,631.58 441.04,631.65 443.61,631.68 446.18,631.67 448.75,631.62 451.31,631.53 453.87,631.40 456.42,631.23 458.95,631.02 461.48,630.77 463.98,630.48 466.46,630.16 468.93,629.79 471.36,629.39 473.78,628.95 476.16,628.47 478.51,627.96 480.82,627.40 483.10,626.82 485.34,626.20 487.54,625.54 489.70,624.85 491.81,624.12 493.87,623.37 495.88,622.58 497.85,621.76 499.75,620.91 501.61,620.03 503.41,619.13 505.14,618.19 506.82,617.23 508.43,616.25 509.98,615.23 511.47,614.20 512.89,613.14 514.24,612.06 515.52,610.96 516.73,609.85 517.86,608.71 518.92,607.55 519.91,606.38 520.83,605.20 521.66,604.00 522.42,602.79 523.10,601.57 523.71,600.34 524.23,599.10 524.68,597.85 525.04,596.59 525.32,595.33 525.53,594.07 525.65,592.80 525.69,591.54" fill="none" stroke="#f00" stroke-width="1.2"/>
<circle cx="444.3" cy="591.5" r="2.4" fill="#f00"/>
<g fill="none" stroke="rgba(0,0,0,0.64)" stroke-width="1.65" stroke-linecap="round"><path d="M701.2 574.8h0M719.6 577.3h0M694.8 570.9h0M717.2 595.8h0M700.9 612.8h0M691.0 589.6h0M674.6 593.6h0M741.4 563.1h0M702.8 585.0h0M695.8 581.5h0M709.5 598.3h0M682.4 570.6h0M719.8 572.7h0M689.2 586.4h0M695.7 604.5h0M747.0 579.3h0M670.2 606.1h0M645.3 578.7h0M641.3 601.7h0M698.5 591.9h0M671.5 595.9h0M728.9 577.9h0M709.0 579.1h0M708.1 623.4h0M699.1 562.3h0M733.8 565.1h0M690.6 589.4h0M719.3 596.8h0M709.0 613.8h0M731.4 590.4h0M654.8 584.5h0M775.6 608.6h0M724.9 573.1h0M704.0 604.7h0M674.8 592.3h0M683.6 583.8h0M702.6 584.7h0M675.0 585.6h0M702.5 584.6h0M716.1 591.9h0M704.5 598.6h0M707.5 589.6h0M729.3 569.5h0M709.1 572.1h0M726.0 610.2h0M664.4 588.6h0M676.6 581.9h0M728.1 599.3h0M693.8 594.9h0M690.7 595.7h0M741.3 608.1h0M706.6 547.1h0M721.3 600.7h0M689.2 601.6h0M731.5 581.7h0M727.2 612.0h0M698.0 597.0h0M704.1 592.6h0M683.2 597.1h0M735.1 595.8h0M728.3 617.0h0M691.4 564.8h0M693.8 593.3h0M665.8 599.6h0M732.7 577.1h0M642.4 609.0h0M729.9 585.4h0M722.5 618.3h0M735.5 571.6h0M695.7 606.6h0M724.3 609.9h0M705.8 588.6h0M695.4 605.5h0M684.5 609.7h0M709.8 594.9h0M735.2 580.9h0M715.9 621.1h0M669.3 608.5h0M708.6 600.8h0M691.8 598.7h0"/><path d="M756.5 578.2h0M691.9 600.8h0M743.0 584.6h0M735.6 590.0h0M715.0 587.9h0M699.8 587.9h0M715.2 549.1h0M674.9 616.5h0M709.4 588.3h0M700.5 574.0h0M698.5 608.1h0M739.1 602.2h0M715.2 588.3h0M746.8 562.2h0M698.4 578.9h0M684.9 603.0h0M751.5 561.3h0M745.6 577.1h0M632.2 617.2h0M727.3 597.3h0M740.9 582.1h0M739.4 596.0h0M671.6 586.1h0M675.0 600.5h0M718.6 597.2h0M680.2 575.4h0M749.8 612.8h0M727.5 569.5h0M708.8 594.8h0M705.1 590.2h0M669.9 587.1h0M702.4 598.8h0M674.9 591.0h0M727.2 582.5h0M703.2 608.3h0M687.9 629.9h0M718.4 589.0h0M672.1 585.7h0M713.4 578.4h0M738.9 571.7h0M663.7 576.2h0M695.0 567.8h0M693.8 549.4h0M711.2 610.6h0M729.7 586.2h0M737.7 617.4h0M673.9 588.9h0M668.2 581.9h0M715.5 602.5h0M715.1 604.8h0M688.4 562.4h0M681.9 585.1h0M699.6 601.7h0M692.6 568.6h0M701.2 597.2h0M660.1 583.7h0M713.6 588.4h0M748.1 609.2h0M678.4 607.0h0M715.0 572.2h0M696.5 594.0h0M674.9 555.4h0M683.4 611.3h0M699.2 590.8h0M727.2 590.3h0M697.0 579.5h0M681.5 598.0h0M680.0 565.7h0M674.3 581.4h0M729.2 580.4h0M693.0 586.4h0M716.4 551.0h0M748.6 584.4h0M657.2 596.7h0M646.2 611.8h0M658.9 585.1h0M703.0 569.2h0M684.7 590.5h0M733.8 587.0h0M717.0 590.6h0"/><path d="M701.6 608.0h0M699.8 561.1h0M697.9 619.2h0M661.9 557.0h0M672.2 590.8h0M720.1 593.4h0M761.2 582.7h0M645.9 593.1h0M732.1 543.4h0M721.4 602.3h0M720.2 585.8h0M627.3 601.8h0M699.2 542.2h0M682.2 603.6h0M701.6 599.9h0M721.3 568.1h0M681.4 619.1h0M725.2 599.3h0M746.5 560.4h0M732.1 584.1h0M720.2 582.7h0M692.7 584.4h0M716.5 617.2h0M751.1 569.7h0M666.9 568.3h0M735.7 615.8h0M733.6 558.7h0M726.7 589.5h0M701.8 570.1h0M684.6 608.0h0M699.2 595.3h0M652.9 556.5h0M717.7 584.8h0M725.4 586.2h0M725.2 597.7h0M728.3 586.1h0M681.4 571.3h0M709.8 615.3h0M682.6 563.0h0M696.9 601.6h0M687.3 617.7h0M684.2 582.0h0M660.2 595.9h0M692.4 601.2h0M686.0 599.8h0M685.7 577.7h0M714.4 571.5h0M701.5 620.9h0M733.6 577.3h0M712.3 578.6h0M690.1 599.7h0M744.0 574.8h0M717.7 602.3h0M645.4 607.6h0M714.3 583.2h0M702.5 566.8h0M704.6 599.2h0M688.2 600.7h0M714.5 591.3h0M710.0 584.3h0M704.5 569.5h0M717.5 599.2h0M710.6 566.1h0M748.6 600.2h0M684.1 591.4h0M680.1 580.9h0M696.7 589.2h0M722.8 599.2h0M724.0 586.4h0M747.3 595.3h0M671.7 580.8h0M706.8 599.8h0M717.4 614.3h0M681.9 579.9h0M688.6 580.6h0M700.4 572.3h0M728.9 562.2h0M676.4 582.8h0M688.9 608.4h0M729.7 590.6h0"/><path d="M706.2 591.6h0M711.4 586.7h0M671.9 592.5h0M698.3 601.3h0M793.7 575.0h0M700.7 577.4h0M764.3 561.2h0M685.0 593.4h0M715.5 612.8h0M686.5 587.6h0M711.2 588.1h0M699.7 599.5h0M696.8 610.2h0M717.5 604.3h0M756.8 608.5h0M665.3 587.5h0M684.8 590.7h0M691.1 599.3h0M716.3 593.2h0M737.2 580.4h0M626.6 584.0h0M722.9 608.0h0M745.7 584.9h0M693.1 578.6h0M682.3 611.4h0M635.3 560.9h0M723.5 608.4h0M687.4 619.0h0M731.9 581.7h0M684.4 572.3h0M705.8 618.6h0M645.2 575.1h0M715.0 585.6h0M737.2 631.8h0M721.1 571.2h0M704.3 596.8h0M707.2 611.1h0M696.2 593.8h0M745.0 614.7h0M696.8 620.4h0M704.9 579.7h0M736.2 606.8h0M720.0 587.1h0M699.6 590.3h0M689.5 583.2h0M723.2 595.5h0M731.5 589.6h0M730.0 561.2h0M709.5 597.7h0M710.2 599.8h0M697.5 594.9h0M700.3 622.4h0M708.5 600.5h0M702.4 590.5h0M734.2 564.6h0M679.7 621.2h0M652.3 607.4h0M769.3 610.2h0M738.7 597.0h0M691.0 592.6h0M738.7 599.3h0M678.6 568.3h0M729.4 597.5h0M664.6 558.1h0M756.5 627.4h0M687.0 594.6h0M703.1 616.2h0M699.0 576.9h0M724.9 571.1h0M717.3 589.8h0M711.6 579.0h0M687.3 571.2h0M707.8 559.3h0M640.7 596.8h0M706.7 609.4h0M683.7 575.9h0M711.3 579.0h0M704.2 590.6h0M672.7 589.5h0M677.4 540.9h0"/><path d="M693.8 590.7h0M705.4 604.1h0M769.1 579.2h0M718.2 604.5h0M728.7 578.6h0M652.1 545.2h0M706.4 605.2h0M673.1 618.0h0M683.0 614.1h0M738.0 636.3h0M713.5 609.9h0M728.1 586.2h0M696.3 594.6h0M740.9 631.0h0M745.9 597.4h0M746.7 574.9h0M722.4 593.5h0M722.6 607.0h0M631.8 596.5h0M746.8 574.7h0M659.0 604.3h0M709.4 593.3h0M682.9 622.0h0M719.9 575.3h0M683.7 597.6h0M686.2 595.0h0M679.0 604.0h0M697.2 564.2h0M688.8 631.3h0M708.8 589.3h0M670.8 566.4h0M712.0 559.9h0M735.9 593.4h0M704.8 572.0h0M725.1 566.4h0M713.3 603.5h0M700.3 569.3h0M724.9 602.1h0M733.8 573.5h0M678.1 604.3h0M661.1 614.5h0M698.8 591.6h0M658.2 587.3h0M708.6 592.2h0M722.2 592.6h0M664.0 582.3h0M698.4 609.4h0M687.7 607.0h0M700.7 603.9h0M691.5 607.7h0M756.0 596.0h0M755.4 583.7h0M680.6 596.4h0M732.5 573.5h0M692.1 576.5h0M760.6 583.6h0M674.9 579.5h0M715.4 586.0h0M757.8 586.6h0M728.6 593.5h0M761.4 586.6h0M704.4 583.2h0M746.1 546.4h0M686.8 603.7h0M677.6 606.1h0M703.5 575.4h0M725.5 577.0h0M740.4 606.5h0M729.9 586.0h0M667.1 575.0h0M686.9 603.4h0M707.9 593.2h0M656.8 568.5h0M717.3 578.5h0M691.4 579.8h0M697.5 593.3h0M651.4 598.8h0M714.5 622.9h0M681.0 604.8h0M672.0 585.4h0"/><path d="M696.3 579.8h0M706.9 614.6h0M708.9 627.3h0M749.4 585.4h0M707.7 603.9h0M727.9 591.6h0M662.7 592.7h0M769.8 547.8h0M722.5 600.0h0M734.7 602.2h0M680.8 572.7h0M705.6 587.9h0M707.0 588.8h0M720.9 588.7h0M698.5 586.4h0M716.7 605.3h0M709.4 582.2h0M720.8 583.7h0M715.9 554.3h0M707.7 589.7h0M702.1 613.6h0M726.2 604.8h0M659.6 602.9h0M724.2 595.5h0M690.3 585.0h0M747.9 591.4h0M734.8 601.6h0M738.7 588.3h0M718.5 566.0h0M677.2 584.9h0M757.2 596.3h0M729.9 604.2h0M737.1 578.8h0M719.3 587.1h0M700.5 592.9h0M791.2 587.5h0M709.3 597.0h0M677.9 567.5h0M734.0 595.2h0M675.0 584.2h0M685.3 603.5h0M677.3 600.9h0M685.4 598.1h0M717.5 594.8h0M692.4 554.0h0M702.8 608.1h0M720.3 582.0h0M644.6 565.7h0M690.4 594.7h0M710.9 610.9h0M705.3 609.2h0M670.1 603.9h0M727.4 611.2h0M642.9 590.3h0M729.7 579.7h0M661.2 609.6h0M753.4 612.2h0M721.1 604.2h0M722.7 596.4h0M681.9 574.7h0M626.8 592.1h0M665.0 582.4h0M709.8 600.2h0M760.6 577.8h0M695.8 593.3h0M710.7 598.2h0M711.0 582.2h0M681.2 557.6h0M644.6 597.1h0M740.6 618.4h0M752.8 576.2h0M726.7 615.2h0M658.5 610.3h0M714.5 595.0h0M714.1 560.3h0M714.2 611.1h0M689.0 576.8h0M675.8 590.2h0M720.0 601.1h0M673.0 577.2h0"/><path d="M711.7 603.7h0M736.8 596.4h0M691.0 600.5h0M725.7 585.9h0M687.7 576.9h0M708.4 609.6h0M698.6 557.0h0M692.1 597.8h0M728.1 585.0h0M643.6 582.8h0M696.3 565.0h0M732.2 594.0h0M676.8 614.4h0M702.6 617.8h0M711.5 597.4h0M757.6 585.8h0M717.1 575.5h0M720.0 564.8h0M677.9 591.4h0M709.5 595.6h0M666.2 584.7h0M717.7 613.7h0M706.4 566.9h0M697.9 592.5h0M738.4 601.3h0M744.0 594.0h0M694.8 587.9h0M683.2 559.9h0M775.4 587.6h0M767.9 586.0h0M713.6 590.8h0M705.5 620.5h0M730.6 608.8h0M709.9 578.8h0M745.2 598.0h0M712.9 590.4h0M655.7 566.1h0M680.8 565.6h0M657.8 602.3h0M724.9 615.8h0M690.9 585.4h0M735.7 597.6h0M679.0 562.1h0M685.0 593.8h0M696.8 617.3h0M685.1 599.5h0M707.9 621.7h0M730.5 592.1h0M700.7 604.9h0M663.2 561.4h0M707.3 573.9h0M704.2 605.8h0M681.2 605.7h0M720.8 605.8h0M666.7 596.7h0M673.2 592.7h0M701.3 614.1h0M693.2 604.2h0M702.0 560.8h0M681.8 625.4h0M748.9 580.7h0M744.0 616.3h0M738.6 584.9h0M672.1 579.7h0M702.3 588.4h0M682.3 599.1h0M697.6 596.9h0M650.0 590.3h0M712.4 621.5h0M664.6 582.2h0M748.4 587.2h0M743.3 580.6h0M726.0 595.4h0M739.9 588.9h0M702.3 588.4h0M719.3 590.2h0M696.7 570.0h0M715.9 602.4h0M685.3 575.2h0M719.0 598.3h0"/><path d="M695.3 596.2h0M670.8 628.9h0M684.3 579.7h0M689.1 582.0h0M673.1 575.8h0M724.0 592.6h0M717.0 621.4h0M664.9 563.2h0M711.1 582.2h0M707.9 592.0h0M745.6 603.2h0M676.3 571.0h0M704.9 592.0h0M732.4 579.2h0M677.5 581.7h0M700.3 630.0h0M688.3 618.9h0M717.1 587.7h0M691.0 567.1h0M685.2 597.0h0M742.3 590.2h0M743.1 582.1h0M689.7 591.3h0M717.7 594.7h0M700.0 597.0h0M706.0 576.7h0M699.2 579.2h0M702.0 604.2h0M694.6 578.0h0M694.2 596.5h0M741.6 596.1h0M754.9 610.3h0M681.9 596.4h0M707.2 593.3h0M688.7 577.5h0M708.2 596.8h0M760.5 570.3h0M717.6 605.4h0M735.2 595.5h0M678.1 600.8h0M642.8 596.5h0M712.5 562.2h0M647.1 562.6h0M703.6 562.0h0M715.5 597.3h0M754.3 605.5h0M700.9 571.8h0M717.1 560.5h0M690.0 594.7h0M665.3 597.3h0M688.4 614.4h0M712.4 605.1h0M698.4 628.1h0M701.5 585.2h0M683.8 601.6h0M691.0 583.7h0M756.0 588.4h0M691.1 575.7h0M724.3 578.0h0M719.3 603.1h0M709.1 556.8h0M721.7 616.4h0M722.0 580.1h0M712.8 589.8h0M711.2 579.6h0M706.5 595.7h0M675.7 598.1h0M708.5 562.2h0M682.4 625.6h0M696.0 583.1h0M741.4 580.1h0M714.6 571.8h0M718.0 610.8h0M648.4 612.1h0M687.0 628.4h0M641.0 578.2h0M692.8 565.0h0M685.7 586.0h0M733.8 594.5h0M752.3 576.2h0"/><path d="M716.8 592.0h0M652.9 583.9h0M721.9 591.0h0M746.7 568.2h0M717.6 595.3h0M680.7 600.0h0M714.9 585.3h0M725.1 604.8h0M727.7 603.9h0M682.3 593.9h0M629.9 604.0h0M690.8 556.2h0M699.6 579.2h0M660.8 565.3h0M715.4 556.9h0M658.6 593.0h0M649.1 597.2h0M727.3 603.1h0M631.8 589.3h0M720.5 585.8h0M705.2 597.7h0M715.5 638.7h0M705.6 572.3h0M695.9 543.8h0M696.0 593.4h0M692.4 581.1h0M693.5 598.2h0M672.8 597.9h0M689.1 591.6h0M701.9 591.4h0M735.4 600.2h0M692.5 632.1h0M729.0 592.8h0M688.2 581.2h0M728.8 584.8h0M726.0 565.8h0M697.8 584.9h0M724.2 598.1h0M682.2 603.0h0M727.1 581.4h0M758.4 592.6h0M670.3 607.6h0M725.2 632.1h0M694.7 632.8h0M711.4 577.0h0M670.8 563.4h0M742.3 596.0h0M694.1 615.5h0M732.5 592.8h0M671.8 565.2h0M720.2 577.6h0M654.8 577.5h0M684.4 589.6h0M655.8 599.8h0M746.9 603.9h0M715.1 609.5h0M740.5 557.2h0M700.4 618.0h0M752.6 575.2h0M733.1 613.9h0M705.3 614.9h0M672.5 587.2h0M723.6 598.7h0M712.7 609.6h0M673.7 597.9h0M661.4 558.3h0M712.3 589.8h0M688.4 604.2h0M698.1 576.8h0M734.4 594.7h0M670.7 592.5h0M702.1 580.4h0M732.3 601.3h0M668.9 573.6h0M714.7 570.9h0M740.9 622.8h0M690.8 569.7h0M743.4 585.4h0M700.8 599.6h0M683.3 573.7h0"/><path d="M705.5 579.3h0M729.7 582.3h0M683.3 623.5h0M689.7 594.1h0M722.2 574.9h0M646.5 584.5h0M705.5 616.5h0M730.1 613.3h0M717.9 595.2h0M688.1 564.4h0M759.5 591.0h0M686.7 603.9h0M689.0 615.7h0M673.5 584.4h0M664.9 584.4h0M686.2 604.7h0M671.0 602.1h0M703.7 603.7h0M732.7 573.6h0M695.4 599.9h0M719.9 587.4h0M689.5 587.7h0M687.3 611.3h0M692.4 594.8h0M709.2 600.0h0M729.1 600.8h0M702.7 590.0h0M742.8 593.2h0M678.7 587.8h0M703.6 612.8h0M696.6 596.7h0M723.2 569.2h0M733.8 618.6h0M698.0 613.1h0M715.0 560.3h0M686.7 587.4h0M721.9 599.0h0M729.8 611.8h0M721.8 582.6h0M692.6 614.4h0M649.6 583.3h0M660.8 569.5h0M796.6 592.9h0M717.4 596.1h0M738.6 599.7h0M738.1 623.8h0M699.3 604.1h0M707.6 575.4h0M671.2 574.4h0M718.0 611.4h0M739.7 611.8h0M712.5 593.3h0M724.5 583.3h0M697.3 573.2h0M737.9 574.2h0M687.3 612.4h0M732.3 604.2h0M692.1 574.4h0M706.0 613.9h0M730.4 570.9h0M686.6 590.5h0M722.7 594.4h0M731.9 607.7h0M697.0 581.4h0M714.9 588.1h0M697.1 621.7h0M622.1 576.0h0M701.3 600.5h0M680.4 583.0h0M683.1 587.7h0M758.3 580.2h0M689.7 579.1h0M705.4 597.2h0M723.2 611.5h0M699.1 590.1h0M713.6 585.1h0M720.6 574.6h0M635.6 614.9h0M687.1 564.6h0M723.8 611.9h0"/></g>
<polygon points="772.92,591.54 772.88,590.27 772.78,589.00 772.61,587.74 772.37,586.48 772.06,585.22 771.68,583.98 771.24,582.74 770.72,581.50 770.15,580.28 769.50,579.07 768.79,577.87 768.01,576.69 767.17,575.52 766.27,574.36 765.31,573.23 764.28,572.11 763.19,571.01 762.05,569.93 760.84,568.87 759.58,567.84 758.26,566.83 756.89,565.84 755.47,564.88 753.99,563.95 752.47,563.04 750.89,562.16 749.27,561.31 747.60,560.49 745.89,559.70 744.14,558.95 742.35,558.22 740.52,557.53 738.65,556.88 736.75,556.25 734.81,555.67 732.84,555.12 730.85,554.60 728.83,554.12 726.78,553.68 724.71,553.28 722.62,552.91 720.51,552.59 718.38,552.30 716.24,552.05 714.08,551.84 711.92,551.67 709.75,551.54 707.57,551.45 705.39,551.40 703.20,551.39 701.02,551.42 698.84,551.49 696.66,551.60 694.49,551.75 692.33,551.94 690.19,552.17 688.05,552.44 685.93,552.75 683.83,553.09 681.75,553.48 679.69,553.90 677.66,554.36 675.65,554.85 673.67,555.39 671.71,555.96 669.79,556.56 667.91,557.20 666.06,557.87 664.25,558.58 662.47,559.32 660.74,560.09 659.05,560.90 657.41,561.73 655.81,562.60 654.26,563.49 652.76,564.41 651.31,565.36 649.91,566.33 648.57,567.33 647.28,568.35 646.05,569.40 644.87,570.47 643.75,571.56 642.70,572.66 641.70,573.79 640.77,574.94 639.89,576.10 639.09,577.28 638.34,578.47 637.67,579.67 637.05,580.89 636.51,582.12 636.03,583.36 635.62,584.60 635.27,585.85 635.00,587.11 634.79,588.37 634.65,589.64 634.59,590.90 634.59,592.17 634.65,593.44 634.79,594.70 635.00,595.96 635.27,597.22 635.62,598.47 636.03,599.72 636.51,600.95 637.05,602.18 637.67,603.40 638.34,604.60 639.09,605.79 639.89,606.97 640.77,608.13 641.70,609.28 642.70,610.41 643.75,611.52 644.87,612.61 646.05,613.67 647.28,614.72 648.57,615.74 649.91,616.74 651.31,617.72 652.76,618.66 654.26,619.58 655.81,620.48 657.41,621.34 659.05,622.17 660.74,622.98 662.47,623.75 664.25,624.49 666.06,625.20 667.91,625.87 669.79,626.51 671.71,627.12 673.67,627.68 675.65,628.22 677.66,628.71 679.69,629.17 681.75,629.60 683.83,629.98 685.93,630.33 688.05,630.63 690.19,630.90 692.33,631.13 694.49,631.32 696.66,631.47 698.84,631.58 701.02,631.65 703.20,631.68 705.39,631.67 707.57,631.62 709.75,631.53 711.92,631.40 714.08,631.23 716.24,631.02 718.38,630.77 720.51,630.48 722.62,630.16 724.71,629.79 726.78,629.39 728.83,628.95 730.85,628.47 732.84,627.96 734.81,627.40 736.75,626.82 738.65,626.20 740.52,625.54 742.35,624.85 744.14,624.12 745.89,623.37 747.60,622.58 749.27,621.76 750.89,620.91 752.47,620.03 753.99,619.13 755.47,618.19 756.89,617.23 758.26,616.25 759.58,615.23 760.84,614.20 762.05,613.14 763.19,612.06 764.28,610.96 765.31,609.85 766.27,608.71 767.17,607.55 768.01,606.38 768.79,605.20 769.50,604.00 770.15,602.79 770.72,601.57 771.24,600.34 771.68,599.10 772.06,597.85 772.37,596.59 772.61,595.33 772.78,594.07 772.88,592.80 772.92,591.54" fill="none" stroke="#f00" stroke-width="1.2"/>
<circle cx="703.7" cy="591.5" r="2.4" fill="#f00"/>
<g fill="none" stroke="rgba(0,0,0,0.64)" stroke-width="1.65" stroke-linecap="round"><path d="M132.6 716.9h0M253.2 739.4h0M212.1 736.9h0M192.2 732.3h0M184.4 769.5h0M188.9 754.6h0M177.8 729.8h0M152.9 718.7h0M167.8 743.9h0M169.9 747.8h0M167.2 759.8h0M233.4 734.2h0M153.3 744.1h0M168.7 744.7h0M150.3 760.4h0M186.5 726.3h0M141.8 770.0h0M174.0 741.9h0M194.9 742.3h0M143.6 729.9h0M107.6 749.4h0M154.8 728.8h0M186.8 732.7h0M147.8 760.8h0M196.7 728.6h0M206.9 695.8h0M180.4 732.7h0M211.9 759.7h0M135.2 770.3h0M182.7 768.0h0M186.1 724.9h0M77.0 758.1h0M140.0 731.7h0M201.3 742.2h0M154.2 770.2h0M168.3 717.8h0M189.6 754.9h0M180.9 723.5h0M147.9 739.0h0M195.0 742.7h0M186.4 743.0h0M162.7 756.0h0M190.4 726.5h0M119.0 731.3h0M114.3 749.5h0M169.1 725.0h0M225.3 723.5h0M172.2 732.8h0M186.1 757.4h0M166.9 748.8h0M118.3 757.7h0M238.9 693.3h0M168.5 764.6h0M221.3 736.2h0M221.6 733.0h0M241.6 753.5h0M193.3 752.3h0M155.5 725.8h0M219.3 742.6h0M191.5 746.4h0M228.5 778.2h0M158.2 695.1h0M148.4 759.5h0M169.7 761.5h0M213.3 723.0h0M150.8 765.0h0M170.2 741.1h0M206.8 773.1h0M218.3 733.8h0M200.2 764.5h0M167.5 775.1h0M173.7 753.5h0M169.9 766.4h0M169.4 764.2h0M242.6 760.5h0M190.3 739.3h0M202.7 768.5h0M178.5 765.5h0M203.9 769.2h0M202.8 753.2h0"/><path d="M218.7 726.8h0M197.7 725.6h0M163.3 727.1h0M199.5 751.7h0M171.2 755.4h0M183.1 732.5h0M190.2 688.1h0M145.1 776.1h0M155.5 752.7h0M190.8 719.3h0M116.3 767.1h0M227.9 746.1h0M177.5 726.9h0M141.9 723.4h0M191.0 734.5h0M228.4 755.6h0M152.6 713.7h0M204.6 719.5h0M173.3 777.7h0M205.9 745.6h0M160.6 741.7h0M225.3 762.2h0M126.7 746.3h0M171.0 741.3h0M209.8 764.8h0M144.3 711.4h0M118.1 746.7h0M197.7 711.6h0M172.0 740.2h0M151.0 753.1h0M171.1 733.5h0M142.0 775.4h0M190.8 751.3h0M173.0 730.7h0M155.6 762.7h0M188.1 784.1h0M176.2 746.3h0M242.9 745.1h0M199.3 732.4h0M200.5 738.2h0M136.4 709.0h0M193.6 726.0h0M195.9 692.2h0M194.1 761.0h0M168.4 731.7h0M166.1 753.0h0M230.1 740.0h0M169.4 743.9h0M165.7 736.9h0M174.7 749.7h0M199.6 717.8h0M118.1 748.3h0M227.7 744.5h0M176.9 736.2h0M203.2 745.7h0M166.2 741.1h0M158.2 740.0h0M177.2 755.2h0M172.2 743.5h0M179.5 730.0h0M131.2 740.5h0M170.7 714.2h0M200.4 766.9h0M174.3 733.1h0M151.3 747.9h0M184.5 713.4h0M161.6 746.2h0M193.7 722.0h0M153.8 721.6h0M159.5 715.7h0M179.7 731.5h0M234.7 706.4h0M190.5 745.8h0M206.3 741.4h0M177.7 779.8h0M213.0 740.3h0M217.5 726.1h0M152.3 752.4h0M118.6 729.2h0M174.9 761.2h0"/><path d="M145.3 764.0h0M150.8 729.4h0M204.7 770.3h0M144.5 701.5h0M215.0 738.5h0M191.4 739.1h0M162.0 756.9h0M179.3 746.4h0M123.6 701.4h0M201.5 754.7h0M177.3 713.7h0M167.8 752.7h0M211.0 690.1h0M228.4 759.8h0M91.9 770.0h0M104.9 717.7h0M176.2 773.8h0M210.7 743.0h0M217.9 704.4h0M179.8 740.3h0M199.9 746.1h0M133.5 746.8h0M155.2 786.2h0M227.3 711.6h0M191.8 715.7h0M195.3 777.7h0M158.9 714.8h0M156.7 757.5h0M113.6 710.6h0M159.2 753.3h0M187.3 762.8h0M127.6 707.0h0M184.5 749.4h0M157.2 739.1h0M190.3 738.2h0M205.8 748.1h0M191.7 722.2h0M191.8 754.9h0M175.8 708.5h0M161.9 750.6h0M172.1 746.2h0M176.7 733.4h0M215.0 736.9h0M108.6 757.1h0M122.5 759.7h0M225.9 714.4h0M173.8 705.3h0M163.8 784.1h0M173.1 734.1h0M174.8 740.1h0M151.1 755.8h0M159.1 708.9h0M162.5 755.6h0M210.9 741.4h0M182.6 742.8h0M223.4 738.4h0M173.5 744.1h0M133.1 742.4h0M186.0 748.9h0M156.5 747.6h0M174.4 720.7h0M204.4 731.4h0M181.6 703.8h0M120.7 749.7h0M159.2 773.1h0M142.4 722.9h0M203.2 756.8h0M193.4 745.6h0M204.7 719.5h0M219.7 757.8h0M195.3 717.0h0M245.7 756.4h0M178.8 783.1h0M164.2 719.1h0M197.4 732.7h0M162.2 747.9h0M163.7 720.6h0M167.2 731.7h0M180.7 753.6h0M180.6 728.0h0"/><path d="M171.2 741.9h0M205.9 737.9h0M123.9 746.0h0M142.4 750.6h0M169.3 727.7h0M190.7 724.6h0M180.4 721.0h0M191.9 742.3h0M206.1 771.4h0M204.5 736.4h0M208.2 751.4h0M201.5 733.6h0M181.6 756.1h0M165.9 732.6h0M164.0 773.1h0M202.2 745.4h0M187.3 746.8h0M211.2 749.9h0M109.5 740.5h0M157.7 749.6h0M187.7 731.8h0M143.9 755.9h0M211.0 750.4h0M159.5 721.8h0M249.4 740.6h0M179.9 716.7h0M200.7 759.8h0M220.9 758.6h0M177.4 730.7h0M212.4 720.4h0M142.0 777.3h0M169.4 729.2h0M153.6 734.2h0M199.4 773.6h0M216.4 709.8h0M185.3 735.5h0M197.2 764.0h0M148.2 743.2h0M130.8 764.3h0M193.6 769.2h0M172.4 730.0h0M174.1 769.5h0M176.5 756.9h0M149.7 743.0h0M181.5 725.4h0M147.6 777.1h0M159.0 738.9h0M132.5 710.2h0M190.8 731.1h0M229.2 747.8h0M168.0 737.9h0M197.8 773.0h0M238.2 754.0h0M183.6 736.8h0M165.2 710.6h0M184.7 750.9h0M188.7 762.2h0M192.4 757.4h0M174.6 750.8h0M167.4 728.5h0M150.3 745.9h0M174.9 721.5h0M117.2 767.1h0M203.0 714.0h0M179.3 766.8h0M167.0 745.9h0M207.4 777.9h0M194.0 724.0h0M176.1 739.8h0M220.5 734.5h0M165.4 748.2h0M172.2 704.0h0M196.0 706.5h0M208.7 755.4h0M204.0 763.1h0M196.7 724.8h0M228.9 721.1h0M172.8 728.6h0M184.3 744.9h0M183.2 701.1h0"/><path d="M174.2 747.0h0M158.8 739.6h0M176.4 739.8h0M136.5 739.5h0M174.7 732.0h0M193.3 719.5h0M125.8 755.7h0M142.1 757.1h0M155.7 766.3h0M182.6 782.1h0M164.4 761.8h0M185.4 730.6h0M177.0 760.3h0M169.3 780.5h0M215.0 758.8h0M191.6 719.7h0M174.1 744.5h0M184.8 745.8h0M194.2 742.3h0M184.7 713.4h0M171.6 758.5h0M166.2 746.0h0M136.0 795.4h0M239.5 725.3h0M192.8 737.0h0M141.7 754.6h0M141.9 753.3h0M209.4 711.5h0M237.4 780.5h0M122.6 720.8h0M186.8 695.8h0M156.1 694.1h0M124.5 748.4h0M175.5 742.0h0M190.1 749.7h0M221.3 757.4h0M167.4 723.4h0M157.3 747.7h0M164.1 723.9h0M190.6 756.0h0M150.3 735.7h0M160.4 726.5h0M152.8 724.4h0M132.3 747.5h0M184.3 745.1h0M166.0 740.9h0M143.4 791.2h0M170.3 749.3h0M196.0 757.1h0M205.2 761.0h0M172.6 737.1h0M135.7 725.4h0M142.3 752.7h0M157.4 722.8h0M164.5 729.7h0M168.0 744.1h0M131.8 721.4h0M168.1 735.8h0M147.3 732.5h0M172.1 746.9h0M200.9 753.8h0M197.7 744.5h0M202.9 671.2h0M150.0 764.0h0M157.0 747.3h0M166.8 722.0h0M151.9 719.7h0M172.5 786.3h0M248.0 731.0h0M207.5 739.3h0M180.4 757.8h0M196.3 739.8h0M183.7 729.2h0M219.4 716.1h0M160.4 746.0h0M112.9 723.8h0M134.3 744.3h0M187.5 783.8h0M178.2 764.4h0M162.2 751.8h0"/><path d="M153.7 735.3h0M175.9 753.1h0M189.6 780.6h0M196.4 727.4h0M142.5 764.7h0M150.1 728.4h0M155.0 767.9h0M173.9 705.2h0M178.1 733.6h0M173.5 755.4h0M120.9 733.3h0M198.8 726.3h0M183.7 722.6h0M130.0 735.2h0M196.1 742.6h0M203.3 757.9h0M178.5 741.6h0M173.6 724.2h0M197.1 722.8h0M196.0 743.5h0M166.1 765.8h0M154.8 752.4h0M215.8 762.9h0M155.7 752.0h0M190.4 755.9h0M195.0 756.7h0M178.4 746.4h0M125.3 742.3h0M190.5 707.0h0M141.5 733.3h0M181.6 748.5h0M165.5 755.8h0M229.7 733.9h0M152.6 751.8h0M187.7 758.6h0M146.4 738.0h0M174.8 770.2h0M207.5 709.2h0M142.6 765.8h0M181.3 734.1h0M200.9 763.3h0M228.4 756.9h0M235.1 737.4h0M212.9 743.4h0M150.7 699.9h0M173.0 765.4h0M188.0 733.7h0M170.3 720.8h0M199.5 755.9h0M167.6 743.0h0M230.7 758.4h0M126.3 754.7h0M148.7 752.2h0M154.6 736.6h0M238.1 744.1h0M205.5 741.3h0M196.8 779.0h0M165.5 755.3h0M186.3 757.4h0M132.8 737.4h0M131.4 732.6h0M186.6 720.9h0M155.3 772.5h0M177.9 747.5h0M216.2 745.3h0M194.7 739.7h0M157.2 717.9h0M208.0 716.7h0M160.4 752.8h0M115.4 775.1h0M176.7 712.0h0M163.2 764.6h0M172.0 745.5h0M198.0 750.9h0M207.8 689.2h0M177.8 750.4h0M202.1 736.5h0M151.4 745.3h0M144.5 757.0h0M177.7 720.5h0"/><path d="M136.7 756.5h0M200.0 755.9h0M133.9 747.7h0M196.8 741.0h0M183.5 720.6h0M187.7 758.2h0M199.0 691.1h0M225.4 751.9h0M143.5 729.5h0M165.3 727.3h0M177.7 723.8h0M217.8 732.0h0M176.3 772.3h0M189.2 741.8h0M179.3 738.6h0M146.9 736.0h0M155.0 721.5h0M185.0 713.6h0M138.7 750.5h0M210.9 742.9h0M225.1 739.0h0M161.2 739.7h0M140.7 737.0h0M142.3 737.4h0M149.4 765.3h0M105.2 745.8h0M165.0 740.9h0M201.3 713.4h0M199.9 748.6h0M164.0 743.1h0M155.4 762.4h0M198.9 769.2h0M184.9 775.1h0M150.8 716.0h0M232.1 753.5h0M236.8 745.5h0M183.4 727.1h0M158.5 694.3h0M142.7 751.1h0M241.3 759.3h0M191.3 722.7h0M178.9 760.9h0M199.5 702.2h0M198.2 741.7h0M200.9 763.0h0M191.6 767.2h0M170.8 778.3h0M140.7 742.8h0M166.5 751.6h0M172.1 702.0h0M179.8 729.9h0M215.6 757.5h0M157.6 753.1h0M183.8 771.9h0M151.9 751.6h0M164.3 742.6h0M191.4 774.1h0M177.2 752.5h0M162.5 723.7h0M203.9 790.0h0M194.4 758.3h0M147.1 746.4h0M132.5 750.4h0M172.1 731.1h0M184.7 725.5h0M214.6 759.5h0M99.8 727.9h0M205.7 729.2h0M160.1 763.8h0M139.5 731.9h0M137.9 751.3h0M189.1 734.1h0M191.2 750.3h0M163.0 730.9h0M138.0 738.8h0M192.3 731.5h0M185.6 724.9h0M154.5 756.5h0M202.2 747.9h0M154.5 744.6h0"/><path d="M199.6 745.7h0M135.5 752.1h0M177.7 721.1h0M153.9 734.8h0M216.1 748.4h0M126.2 737.3h0M138.7 780.1h0M161.4 718.5h0M218.8 731.4h0M154.3 767.9h0M199.6 759.6h0M196.7 714.8h0M192.6 734.2h0M155.8 749.5h0M174.8 721.4h0M162.9 774.3h0M156.2 763.0h0M180.5 760.1h0M245.0 706.0h0M179.1 768.1h0M179.7 748.2h0M159.3 727.4h0M188.6 751.5h0M181.6 748.6h0M151.1 753.3h0M191.1 732.4h0M165.6 742.2h0M198.5 756.5h0M158.0 737.8h0M174.2 730.4h0M171.4 743.7h0M124.2 764.4h0M188.0 754.3h0M213.9 757.3h0M147.8 717.8h0M145.3 751.3h0M135.7 710.0h0M128.9 743.1h0M133.6 740.4h0M178.1 746.7h0M177.1 741.2h0M131.0 710.4h0M210.8 721.9h0M154.0 717.6h0M203.2 717.4h0M195.9 751.1h0M173.0 719.2h0M197.4 721.1h0M198.8 743.5h0M132.7 773.3h0M190.0 762.6h0M161.8 746.3h0M184.7 778.6h0M177.4 706.0h0M248.6 758.8h0M190.5 729.2h0M232.6 733.6h0M189.2 734.7h0M151.1 721.9h0M175.2 766.1h0M184.9 695.8h0M174.5 753.0h0M215.6 722.8h0M146.1 767.7h0M249.5 721.9h0M163.9 748.4h0M164.9 772.1h0M184.6 716.6h0M151.2 778.2h0M99.5 743.1h0M236.0 724.8h0M99.0 717.6h0M156.5 765.5h0M237.7 764.2h0M152.9 786.2h0M160.4 739.6h0M210.0 739.2h0M183.1 709.9h0M226.9 749.3h0M118.9 736.3h0"/><path d="M184.6 743.5h0M197.5 717.2h0M228.2 766.4h0M140.9 716.9h0M173.8 748.9h0M189.1 746.7h0M199.5 728.7h0M152.7 738.8h0M194.4 748.7h0M148.9 738.1h0M179.8 776.8h0M176.6 710.2h0M140.3 752.7h0M212.1 698.5h0M133.0 715.8h0M178.7 742.0h0M212.0 758.0h0M218.0 749.0h0M164.5 732.0h0M146.4 741.1h0M203.2 751.0h0M207.6 773.0h0M149.1 724.0h0M163.0 700.7h0M184.1 769.7h0M249.5 731.3h0M182.8 753.2h0M203.1 728.6h0M147.0 755.7h0M172.3 731.6h0M159.6 739.5h0M155.5 780.3h0M177.0 764.4h0M191.4 732.2h0M140.9 723.5h0M214.6 708.1h0M157.8 739.8h0M149.7 759.6h0M233.3 734.2h0M168.9 708.3h0M192.6 755.4h0M193.6 756.7h0M163.0 786.8h0M213.6 785.2h0M144.1 730.9h0M143.6 708.7h0M155.7 751.6h0M171.1 779.1h0M206.9 728.3h0M149.2 734.1h0M204.4 739.7h0M205.3 742.0h0M140.4 745.8h0M160.1 728.9h0M149.0 760.1h0M170.4 769.5h0M195.2 705.7h0M182.2 767.7h0M181.6 731.9h0M136.9 766.6h0M207.6 765.9h0M163.3 754.5h0M170.3 753.4h0M140.1 765.1h0M174.2 770.0h0M133.3 714.1h0M202.6 735.2h0M175.1 774.2h0M207.4 743.1h0M264.7 722.8h0M223.9 746.4h0M117.4 753.3h0M222.9 747.2h0M186.4 731.9h0M169.3 718.1h0M120.6 784.3h0M129.9 735.8h0M176.3 729.2h0M166.8 756.3h0M214.1 742.4h0"/><path d="M115.9 739.3h0M216.3 739.1h0M250.2 796.1h0M187.3 736.2h0M178.4 711.5h0M136.4 735.2h0M131.5 763.0h0M190.1 759.9h0M203.9 725.9h0M189.6 709.9h0M162.6 711.7h0M156.1 742.7h0M119.6 763.9h0M197.9 741.7h0M139.0 730.7h0M144.5 762.4h0M170.7 746.3h0M180.7 751.3h0M172.3 727.5h0M162.1 746.0h0M185.3 745.2h0M174.5 735.3h0M184.7 765.1h0M230.6 740.4h0M205.5 757.3h0M137.7 747.9h0M190.0 732.0h0M189.9 750.8h0M146.4 723.7h0M134.0 749.5h0M218.8 743.6h0M171.3 718.7h0M175.7 754.1h0M234.4 769.8h0M156.9 697.0h0M143.7 751.3h0M128.5 756.8h0M146.6 772.8h0M160.9 727.4h0M196.3 777.4h0M198.9 721.0h0M95.3 734.1h0M194.5 743.0h0M172.6 726.2h0M194.3 760.4h0M218.8 759.3h0M109.2 756.9h0M178.9 735.2h0M128.9 752.3h0M218.2 768.5h0M104.9 750.3h0M187.3 745.7h0M158.1 713.4h0M160.7 727.2h0M133.8 730.0h0M123.3 759.5h0M184.3 742.2h0M139.3 717.3h0M197.5 752.4h0M224.1 709.2h0M115.1 761.8h0M166.9 737.1h0M186.0 759.6h0M173.8 726.4h0M242.1 740.9h0M179.9 775.7h0M145.9 739.7h0M216.4 761.4h0M142.4 742.2h0M150.6 727.1h0M173.5 731.1h0M197.3 742.3h0M144.0 744.5h0M148.4 758.1h0M245.9 736.9h0M135.1 726.4h0M213.9 720.6h0M193.2 763.0h0M153.9 729.4h0M181.6 761.8h0"/></g>
<polygon points="250.65,742.27 250.62,740.81 250.51,739.34 250.32,737.88 250.06,736.43 249.73,734.98 249.32,733.54 248.84,732.11 248.29,730.68 247.66,729.27 246.96,727.87 246.20,726.49 245.36,725.12 244.45,723.77 243.48,722.44 242.44,721.12 241.33,719.83 240.16,718.56 238.92,717.31 237.62,716.09 236.26,714.90 234.84,713.73 233.36,712.59 231.82,711.48 230.23,710.40 228.58,709.36 226.88,708.34 225.13,707.36 223.33,706.41 221.49,705.50 219.59,704.63 217.66,703.79 215.68,703.00 213.67,702.24 211.61,701.52 209.52,700.84 207.40,700.21 205.25,699.61 203.07,699.06 200.86,698.55 198.62,698.08 196.36,697.66 194.09,697.28 191.79,696.95 189.48,696.67 187.15,696.42 184.82,696.23 182.47,696.08 180.12,695.97 177.77,695.92 175.41,695.91 173.05,695.94 170.70,696.02 168.35,696.15 166.01,696.32 163.68,696.54 161.36,696.80 159.06,697.11 156.77,697.47 154.50,697.87 152.26,698.31 150.04,698.80 147.84,699.33 145.67,699.90 143.53,700.52 141.43,701.18 139.35,701.87 137.32,702.61 135.32,703.39 133.37,704.21 131.45,705.06 129.58,705.95 127.76,706.88 125.99,707.85 124.26,708.84 122.59,709.87 120.97,710.94 119.40,712.03 117.89,713.16 116.44,714.31 115.05,715.49 113.72,716.70 112.45,717.93 111.25,719.19 110.11,720.47 109.03,721.78 108.02,723.10 107.08,724.44 106.21,725.80 105.41,727.18 104.68,728.57 104.02,729.98 103.43,731.39 102.91,732.82 102.47,734.26 102.10,735.70 101.80,737.16 101.58,738.61 101.43,740.08 101.35,741.54 101.35,743.00 101.43,744.47 101.58,745.93 101.80,747.38 102.10,748.84 102.47,750.28 102.91,751.72 103.43,753.15 104.02,754.57 104.68,755.97 105.41,757.36 106.21,758.74 107.08,760.10 108.02,761.44 109.03,762.76 110.11,764.07 111.25,765.35 112.45,766.61 113.72,767.84 115.05,769.05 116.44,770.23 117.89,771.38 119.40,772.51 120.97,773.60 122.59,774.67 124.26,775.70 125.99,776.69 127.76,777.66 129.58,778.59 131.45,779.48 133.37,780.33 135.32,781.15 137.32,781.93 139.35,782.67 141.43,783.37 143.53,784.02 145.67,784.64 147.84,785.21 150.04,785.74 152.26,786.23 154.50,786.67 156.77,787.07 159.06,787.43 161.36,787.74 163.68,788.00 166.01,788.22 168.35,788.39 170.70,788.52 173.05,788.60 175.41,788.64 177.77,788.62 180.12,788.57 182.47,788.46 184.82,788.31 187.15,788.12 189.48,787.87 191.79,787.59 194.09,787.26 196.36,786.88 198.62,786.46 200.86,785.99 203.07,785.48 205.25,784.93 207.40,784.34 209.52,783.70 211.61,783.02 213.67,782.30 215.68,781.54 217.66,780.75 219.59,779.91 221.49,779.04 223.33,778.13 225.13,777.18 226.88,776.20 228.58,775.19 230.23,774.14 231.82,773.06 233.36,771.95 234.84,770.81 236.26,769.64 237.62,768.45 238.92,767.23 240.16,765.98 241.33,764.71 242.44,763.42 243.48,762.10 244.45,760.77 245.36,759.42 246.20,758.05 246.96,756.67 247.66,755.27 248.29,753.86 248.84,752.43 249.32,751.00 249.73,749.56 250.06,748.11 250.32,746.66 250.51,745.20 250.62,743.73 250.65,742.27" fill="none" stroke="#f00" stroke-width="1.2"/>
<circle cx="176.0" cy="742.3" r="2.4" fill="#f00"/>
<g fill="none" stroke="rgba(0,0,0,0.64)" stroke-width="1.65" stroke-linecap="round"><path d="M503.4 716.9h0M407.0 739.4h0M486.8 736.9h0M461.4 732.3h0M450.5 769.5h0M481.7 754.6h0M495.3 729.8h0M488.0 718.7h0M433.2 743.9h0M408.0 747.8h0M552.9 759.8h0M450.8 734.2h0M409.6 744.1h0M417.3 744.7h0M439.7 760.4h0M452.1 726.3h0M438.5 770.0h0M403.1 741.9h0M473.5 742.3h0M462.1 729.9h0M458.5 749.4h0M442.0 728.8h0M398.9 732.7h0M381.9 760.8h0M451.8 728.6h0M468.5 695.8h0M364.3 732.7h0M438.7 759.7h0M424.8 770.3h0M477.7 768.0h0M440.4 724.9h0M534.2 758.1h0M429.4 731.7h0M435.2 742.2h0M450.4 770.2h0M458.1 717.8h0M468.9 754.9h0M443.8 723.5h0M440.3 739.0h0M398.0 742.7h0M442.5 743.0h0M389.8 756.0h0M453.3 726.5h0M472.3 731.3h0M446.9 749.5h0M504.9 725.0h0M436.8 723.5h0M442.3 732.8h0M438.9 757.4h0M407.4 748.8h0M431.5 757.7h0M487.0 693.3h0M334.7 764.6h0M479.3 736.2h0M513.7 733.0h0M404.3 753.5h0M425.2 752.3h0M413.5 725.8h0M416.8 742.6h0M406.4 746.4h0M507.1 778.2h0M408.3 695.1h0M462.4 759.5h0M477.3 761.5h0M478.6 723.0h0M424.9 765.0h0M381.8 741.1h0M432.0 773.1h0M395.2 733.8h0M423.5 764.5h0M478.1 775.1h0M424.8 753.5h0M496.4 766.4h0M492.9 764.2h0M445.7 760.5h0M435.6 739.3h0M440.0 768.5h0M451.3 765.5h0M448.2 769.2h0M390.1 753.2h0"/><path d="M471.3 726.8h0M470.6 725.6h0M519.5 727.1h0M440.0 751.7h0M420.0 755.4h0M500.6 732.5h0M400.1 688.1h0M405.8 776.1h0M468.7 752.7h0M445.1 719.3h0M504.5 767.1h0M433.3 746.1h0M425.7 726.9h0M474.7 723.4h0M403.4 734.5h0M385.4 755.6h0M463.9 713.7h0M500.5 719.5h0M431.8 777.7h0M447.5 745.6h0M388.4 741.7h0M454.5 762.2h0M409.7 746.3h0M496.1 741.3h0M450.2 764.8h0M461.0 711.4h0M478.7 746.7h0M443.6 711.6h0M447.3 740.2h0M420.0 753.1h0M476.1 733.5h0M433.1 775.4h0M467.2 751.3h0M436.1 730.7h0M461.0 762.7h0M462.3 784.1h0M473.4 746.3h0M480.6 745.1h0M476.2 732.4h0M455.0 738.2h0M489.9 709.0h0M446.0 726.0h0M430.6 692.2h0M439.8 761.0h0M418.7 731.7h0M442.3 753.0h0M467.0 740.0h0M451.2 743.9h0M526.7 736.9h0M446.4 749.7h0M443.2 717.8h0M415.8 748.3h0M417.9 744.5h0M436.8 736.2h0M413.2 745.7h0M468.6 741.1h0M484.8 740.0h0M408.1 755.2h0M472.6 743.5h0M487.8 730.0h0M480.6 740.5h0M452.3 714.2h0M458.8 766.9h0M386.0 733.1h0M432.2 747.9h0M486.0 713.4h0M512.1 746.2h0M442.4 722.0h0M448.6 721.6h0M406.9 715.7h0M426.6 731.5h0M466.0 706.4h0M444.9 745.8h0M457.4 741.4h0M421.3 779.8h0M445.7 740.3h0M413.7 726.1h0M476.0 752.4h0M453.5 729.2h0M407.3 761.2h0"/><path d="M425.7 764.0h0M471.9 729.4h0M437.4 770.3h0M486.6 701.5h0M491.4 738.5h0M399.9 739.1h0M451.3 756.9h0M519.6 746.4h0M429.1 701.4h0M417.0 754.7h0M434.7 713.7h0M447.7 752.7h0M436.5 690.1h0M429.5 759.8h0M447.7 770.0h0M452.0 717.7h0M548.6 773.8h0M401.9 743.0h0M475.5 704.4h0M456.1 740.3h0M502.0 746.1h0M485.5 746.8h0M413.1 786.2h0M434.6 711.6h0M430.2 715.7h0M430.0 777.7h0M473.1 714.8h0M480.7 757.5h0M388.2 710.6h0M408.3 753.3h0M458.1 762.8h0M411.3 707.0h0M441.1 749.4h0M423.3 739.1h0M389.1 738.2h0M472.6 748.1h0M486.1 722.2h0M434.1 754.9h0M462.0 708.5h0M499.5 750.6h0M435.1 746.2h0M452.3 733.4h0M407.3 736.9h0M495.3 757.1h0M444.3 759.7h0M451.5 714.4h0M461.6 705.3h0M506.5 784.1h0M425.7 734.1h0M411.0 740.1h0M502.4 755.8h0M490.2 708.9h0M443.5 755.6h0M470.0 741.4h0M434.9 742.8h0M378.4 738.4h0M445.7 744.1h0M412.1 742.4h0M452.4 748.9h0M356.5 747.6h0M444.6 720.7h0M408.9 731.4h0M496.1 703.8h0M497.6 749.7h0M452.6 773.1h0M436.6 722.9h0M453.1 756.8h0M479.1 745.6h0M425.9 719.5h0M456.2 757.8h0M422.6 717.0h0M426.4 756.4h0M439.0 783.1h0M422.4 719.1h0M448.4 732.7h0M448.2 747.9h0M461.1 720.6h0M438.8 731.7h0M428.6 753.6h0M452.1 728.0h0"/><path d="M417.7 741.9h0M415.7 737.9h0M404.2 746.0h0M444.1 750.6h0M427.5 727.7h0M462.0 724.6h0M411.1 721.0h0M397.2 742.3h0M475.6 771.4h0M415.8 736.4h0M414.4 751.4h0M440.5 733.6h0M436.6 756.1h0M387.1 732.6h0M476.5 773.1h0M470.2 745.4h0M374.6 746.8h0M434.3 749.9h0M415.7 740.5h0M457.0 749.6h0M449.2 731.8h0M359.7 755.9h0M399.9 750.4h0M483.3 721.8h0M372.1 740.6h0M485.4 716.7h0M467.0 759.8h0M487.8 758.6h0M441.5 730.7h0M446.0 720.4h0M469.3 777.3h0M503.8 729.2h0M478.5 734.2h0M457.2 773.6h0M512.0 709.8h0M439.6 735.5h0M438.2 764.0h0M458.7 743.2h0M429.5 764.3h0M432.1 769.2h0M483.1 730.0h0M455.3 769.5h0M401.7 756.9h0M502.3 743.0h0M518.9 725.4h0M426.8 777.1h0M428.1 738.9h0M407.5 710.2h0M420.3 731.1h0M395.9 747.8h0M415.7 737.9h0M409.1 773.0h0M435.1 754.0h0M483.8 736.8h0M437.1 710.6h0M439.9 750.9h0M451.5 762.2h0M461.1 757.4h0M418.1 750.8h0M428.3 728.5h0M418.9 745.9h0M529.7 721.5h0M484.3 767.1h0M502.1 714.0h0M425.5 766.8h0M444.8 745.9h0M463.2 777.9h0M455.0 724.0h0M464.9 739.8h0M483.7 734.5h0M433.6 748.2h0M442.9 704.0h0M492.4 706.5h0M455.0 755.4h0M474.2 763.1h0M459.9 724.8h0M438.2 721.1h0M395.9 728.6h0M394.3 744.9h0M496.0 701.1h0"/><path d="M416.1 747.0h0M432.2 739.6h0M450.7 739.8h0M384.2 739.5h0M453.7 732.0h0M447.0 719.5h0M484.3 755.7h0M387.0 757.1h0M459.8 766.3h0M455.9 782.1h0M433.2 761.8h0M462.0 730.6h0M426.0 760.3h0M377.2 780.5h0M464.1 758.8h0M426.8 719.7h0M470.0 744.5h0M423.3 745.8h0M454.6 742.3h0M468.3 713.4h0M441.3 758.5h0M483.5 746.0h0M448.0 795.4h0M424.9 725.3h0M462.5 737.0h0M430.7 754.6h0M424.3 753.3h0M486.7 711.5h0M442.1 780.5h0M457.6 720.8h0M429.2 695.8h0M417.6 694.1h0M502.0 748.4h0M469.7 742.0h0M408.0 749.7h0M421.7 757.4h0M458.1 723.4h0M429.3 747.7h0M474.8 723.9h0M442.5 756.0h0M468.4 735.7h0M447.5 726.5h0M459.5 724.4h0M472.0 747.5h0M461.4 745.1h0M409.9 740.9h0M455.7 791.2h0M433.0 749.3h0M488.2 757.1h0M408.2 761.0h0M419.7 737.1h0M414.9 725.4h0M441.4 752.7h0M479.1 722.8h0M493.8 729.7h0M389.9 744.1h0M491.8 721.4h0M452.4 735.8h0M484.8 732.5h0M383.0 746.9h0M429.7 753.8h0M451.3 744.5h0M474.1 671.2h0M423.4 764.0h0M482.4 747.3h0M471.3 722.0h0M409.8 719.7h0M419.5 786.3h0M439.4 731.0h0M488.2 739.3h0M422.8 757.8h0M470.4 739.8h0M415.6 729.2h0M474.0 716.1h0M405.1 746.0h0M437.9 723.8h0M398.0 744.3h0M430.3 783.8h0M468.4 764.4h0M396.5 751.8h0"/><path d="M425.2 735.3h0M414.0 753.1h0M414.8 780.6h0M480.8 727.4h0M397.2 764.7h0M457.9 728.4h0M385.7 767.9h0M400.4 705.2h0M403.9 733.6h0M454.3 755.4h0M454.7 733.3h0M380.1 726.3h0M482.6 722.6h0M458.3 735.2h0M384.7 742.6h0M509.0 757.9h0M451.1 741.6h0M432.7 724.2h0M395.9 722.8h0M447.2 743.5h0M445.2 765.8h0M495.5 752.4h0M426.2 762.9h0M455.7 752.0h0M347.7 755.9h0M482.3 756.7h0M494.0 746.4h0M469.6 742.3h0M409.9 707.0h0M382.3 733.3h0M498.1 748.5h0M463.0 755.8h0M402.0 733.9h0M466.4 751.8h0M456.6 758.6h0M402.3 738.0h0M378.3 770.2h0M361.6 709.2h0M375.7 765.8h0M438.0 734.1h0M432.7 763.3h0M454.7 756.9h0M358.3 737.4h0M503.8 743.4h0M436.9 699.9h0M487.0 765.4h0M403.4 733.7h0M430.2 720.8h0M417.6 755.9h0M507.5 743.0h0M443.8 758.4h0M453.8 754.7h0M530.6 752.2h0M375.1 736.6h0M417.8 744.1h0M459.8 741.3h0M439.0 779.0h0M410.9 755.3h0M434.1 757.4h0M426.8 737.4h0M453.5 732.6h0M462.5 720.9h0M478.2 772.5h0M472.9 747.5h0M439.7 745.3h0M417.1 739.7h0M456.0 717.9h0M419.4 716.7h0M458.3 752.8h0M438.3 775.1h0M413.4 712.0h0M436.4 764.6h0M456.2 745.5h0M499.1 750.9h0M394.5 689.2h0M416.2 750.4h0M480.5 736.5h0M441.4 745.3h0M439.9 757.0h0M447.6 720.5h0"/><path d="M459.0 756.5h0M460.2 755.9h0M462.4 747.7h0M431.0 741.0h0M496.5 720.6h0M479.2 758.2h0M438.8 691.1h0M455.4 751.9h0M496.1 729.5h0M487.3 727.3h0M480.7 723.8h0M439.2 732.0h0M447.1 772.3h0M418.4 741.8h0M405.8 738.6h0M416.2 736.0h0M429.6 721.5h0M448.5 713.6h0M411.2 750.5h0M413.6 742.9h0M431.8 739.0h0M428.1 739.7h0M446.9 737.0h0M438.1 737.4h0M403.5 765.3h0M365.8 745.8h0M420.6 740.9h0M463.4 713.4h0M428.1 748.6h0M471.7 743.1h0M480.8 762.4h0M467.5 769.2h0M438.9 775.1h0M464.5 716.0h0M467.4 753.5h0M506.3 745.5h0M452.5 727.1h0M429.0 694.3h0M442.0 751.1h0M447.0 759.3h0M404.1 722.7h0M366.2 760.9h0M450.0 702.2h0M446.1 741.7h0M503.4 763.0h0M413.8 767.2h0M390.5 778.3h0M412.1 742.8h0M376.0 751.6h0M473.6 702.0h0M420.1 729.9h0M432.5 757.5h0M356.8 753.1h0M426.9 771.9h0M460.0 751.6h0M437.5 742.6h0M485.4 774.1h0M485.3 752.5h0M444.1 723.7h0M470.8 790.0h0M431.6 758.3h0M473.1 746.4h0M449.0 750.4h0M448.7 731.1h0M476.2 725.5h0M514.5 759.5h0M403.3 727.9h0M414.1 729.2h0M470.8 763.8h0M388.0 731.9h0M454.5 751.3h0M396.3 734.1h0M458.0 750.3h0M464.4 730.9h0M465.1 738.8h0M352.4 731.5h0M391.6 724.9h0M392.5 756.5h0M493.3 747.9h0M434.4 744.6h0"/><path d="M470.8 745.7h0M389.4 752.1h0M405.6 721.1h0M423.4 734.8h0M403.6 748.4h0M444.4 737.3h0M440.7 780.1h0M460.8 718.5h0M446.1 731.4h0M485.8 767.9h0M472.7 759.6h0M435.1 714.8h0M454.6 734.2h0M444.6 749.5h0M404.0 721.4h0M485.9 774.3h0M418.1 763.0h0M418.7 760.1h0M418.9 706.0h0M421.1 768.1h0M503.7 748.2h0M444.2 727.4h0M466.9 751.5h0M443.5 748.6h0M432.5 753.3h0M419.9 732.4h0M476.2 742.2h0M456.8 756.5h0M468.4 737.8h0M430.6 730.4h0M439.6 743.7h0M392.9 764.4h0M457.8 754.3h0M481.7 757.3h0M477.9 717.8h0M392.6 751.3h0M413.5 710.0h0M437.1 743.1h0M439.8 740.4h0M487.5 746.7h0M464.6 741.2h0M442.0 710.4h0M406.6 721.9h0M465.9 717.6h0M487.5 717.4h0M466.3 751.1h0M432.0 719.2h0M515.8 721.1h0M489.1 743.5h0M404.5 773.3h0M430.2 762.6h0M472.2 746.3h0M474.2 778.6h0M399.5 706.0h0M468.3 758.8h0M388.1 729.2h0M449.5 733.6h0M414.5 734.7h0M476.2 721.9h0M426.5 766.1h0M437.8 695.8h0M403.5 753.0h0M472.0 722.8h0M412.8 767.7h0M421.1 721.9h0M414.0 748.4h0M484.2 772.1h0M475.5 716.6h0M477.4 778.2h0M461.1 743.1h0M418.8 724.8h0M432.8 717.6h0M440.3 765.5h0M447.7 764.2h0M390.6 786.2h0M492.7 739.6h0M433.1 739.2h0M493.9 709.9h0M398.0 749.3h0M423.4 736.3h0"/><path d="M366.5 743.5h0M412.5 717.2h0M435.9 766.4h0M496.2 716.9h0M478.5 748.9h0M417.2 746.7h0M448.5 728.7h0M369.4 738.8h0M468.2 748.7h0M439.4 738.1h0M455.8 776.8h0M407.7 710.2h0M450.9 752.7h0M426.1 698.5h0M440.1 715.8h0M517.9 742.0h0M429.5 758.0h0M439.0 749.0h0M487.8 732.0h0M486.8 741.1h0M494.0 751.0h0M485.4 773.0h0M500.7 724.0h0M486.1 700.7h0M459.1 769.7h0M427.1 731.3h0M438.6 753.2h0M500.8 728.6h0M433.7 755.7h0M431.4 731.6h0M357.3 739.5h0M453.4 780.3h0M421.9 764.4h0M395.3 732.2h0M418.2 723.5h0M472.6 708.1h0M442.4 739.8h0M450.3 759.6h0M488.1 734.2h0M505.3 708.3h0M450.2 755.4h0M422.6 756.7h0M452.8 786.8h0M439.9 785.2h0M405.1 730.9h0M505.1 708.7h0M387.4 751.6h0M411.2 779.1h0M471.0 728.3h0M442.2 734.1h0M429.2 739.7h0M462.5 742.0h0M431.5 745.8h0M419.9 728.9h0M458.9 760.1h0M437.5 769.5h0M448.8 705.7h0M430.0 767.7h0M452.8 731.9h0M427.8 766.6h0M406.2 765.9h0M406.2 754.5h0M431.9 753.4h0M461.8 765.1h0M453.2 770.0h0M436.8 714.1h0M434.4 735.2h0M458.8 774.2h0M434.7 743.1h0M435.9 722.8h0M437.3 746.4h0M429.1 753.3h0M437.6 747.2h0M488.6 731.9h0M405.7 718.1h0M463.6 784.3h0M501.1 735.8h0M447.1 729.2h0M451.1 756.3h0M434.5 742.4h0"/><path d="M451.4 739.3h0M424.8 739.1h0M444.6 796.1h0M406.2 736.2h0M477.7 711.5h0M443.7 735.2h0M522.0 763.0h0M466.2 759.9h0M483.6 725.9h0M417.0 709.9h0M434.9 711.7h0M442.2 742.7h0M421.5 763.9h0M432.6 741.7h0M473.0 730.7h0M394.6 762.4h0M435.7 746.3h0M501.9 751.3h0M447.5 727.5h0M486.7 746.0h0M404.0 745.2h0M452.3 735.3h0M445.3 765.1h0M417.8 740.4h0M470.8 757.3h0M445.4 747.9h0M443.7 732.0h0M423.5 750.8h0M447.3 723.7h0M416.5 749.5h0M454.6 743.6h0M482.7 718.7h0M419.0 754.1h0M445.3 769.8h0M428.9 697.0h0M450.7 751.3h0M485.5 756.8h0M443.9 772.8h0M422.4 727.4h0M454.1 777.4h0M477.8 721.0h0M395.3 734.1h0M507.7 743.0h0M432.6 726.2h0M425.7 760.4h0M457.0 759.3h0M429.5 756.9h0M439.8 735.2h0M393.3 752.3h0M447.1 768.5h0M410.4 750.3h0M519.2 745.7h0M443.8 713.4h0M438.0 727.2h0M371.1 730.0h0M404.7 759.5h0M427.3 742.2h0M395.1 717.3h0M428.4 752.4h0M440.4 709.2h0M398.6 761.8h0M437.8 737.1h0M431.5 759.6h0M462.4 726.4h0M415.9 740.9h0M520.4 775.7h0M425.7 739.7h0M407.3 761.4h0M469.9 742.2h0M466.2 727.1h0M433.8 731.1h0M466.0 742.3h0M449.9 744.5h0M468.2 758.1h0M440.2 736.9h0M461.1 726.4h0M409.7 720.6h0M464.6 763.0h0M512.1 729.4h0M482.0 761.8h0"/></g>
<polygon points="525.69,742.27 525.65,740.81 525.53,739.34 525.32,737.88 525.04,736.43 524.68,734.98 524.23,733.54 523.71,732.11 523.10,730.68 522.42,729.27 521.66,727.87 520.83,726.49 519.91,725.12 518.92,723.77 517.86,722.44 516.73,721.12 515.52,719.83 514.24,718.56 512.89,717.31 511.47,716.09 509.98,714.90 508.43,713.73 506.82,712.59 505.14,711.48 503.41,710.40 501.61,709.36 499.75,708.34 497.85,707.36 495.88,706.41 493.87,705.50 491.81,704.63 489.70,703.79 487.54,703.00 485.34,702.24 483.10,701.52 480.82,700.84 478.51,700.21 476.16,699.61 473.78,699.06 471.36,698.55 468.93,698.08 466.46,697.66 463.98,697.28 461.48,696.95 458.95,696.67 456.42,696.42 453.87,696.23 451.31,696.08 448.75,695.97 446.18,695.92 443.61,695.91 441.04,695.94 438.47,696.02 435.91,696.15 433.36,696.32 430.81,696.54 428.28,696.80 425.77,697.11 423.28,697.47 420.80,697.87 418.35,698.31 415.93,698.80 413.53,699.33 411.17,699.90 408.83,700.52 406.54,701.18 404.28,701.87 402.06,702.61 399.88,703.39 397.74,704.21 395.66,705.06 393.62,705.95 391.63,706.88 389.69,707.85 387.81,708.84 385.99,709.87 384.22,710.94 382.51,712.03 380.87,713.16 379.28,714.31 377.77,715.49 376.31,716.70 374.93,717.93 373.62,719.19 372.37,720.47 371.20,721.78 370.10,723.10 369.07,724.44 368.12,725.80 367.25,727.18 366.45,728.57 365.73,729.98 365.08,731.39 364.52,732.82 364.04,734.26 363.63,735.70 363.31,737.16 363.07,738.61 362.90,740.08 362.82,741.54 362.82,743.00 362.90,744.47 363.07,745.93 363.31,747.38 363.63,748.84 364.04,750.28 364.52,751.72 365.08,753.15 365.73,754.57 366.45,755.97 367.25,757.36 368.12,758.74 369.07,760.10 370.10,761.44 371.20,762.76 372.37,764.07 373.62,765.35 374.93,766.61 376.31,767.84 377.77,769.05 379.28,770.23 380.87,771.38 382.51,772.51 384.22,773.60 385.99,774.67 387.81,775.70 389.69,776.69 391.63,777.66 393.62,778.59 395.66,779.48 397.74,780.33 399.88,781.15 402.06,781.93 404.28,782.67 406.54,783.37 408.83,784.02 411.17,784.64 413.53,785.21 415.93,785.74 418.35,786.23 420.80,786.67 423.28,787.07 425.77,787.43 428.28,787.74 430.81,788.00 433.36,788.22 435.91,788.39 438.47,788.52 441.04,788.60 443.61,788.64 446.18,788.62 448.75,788.57 451.31,788.46 453.87,788.31 456.42,788.12 458.95,787.87 461.48,787.59 463.98,787.26 466.46,786.88 468.93,786.46 471.36,785.99 473.78,785.48 476.16,784.93 478.51,784.34 480.82,783.70 483.10,783.02 485.34,782.30 487.54,781.54 489.70,780.75 491.81,779.91 493.87,779.04 495.88,778.13 497.85,777.18 499.75,776.20 501.61,775.19 503.41,774.14 505.14,773.06 506.82,771.95 508.43,770.81 509.98,769.64 511.47,768.45 512.89,767.23 514.24,765.98 515.52,764.71 516.73,763.42 517.86,762.10 518.92,760.77 519.91,759.42 520.83,758.05 521.66,756.67 522.42,755.27 523.10,753.86 523.71,752.43 524.23,751.00 524.68,749.56 525.04,748.11 525.32,746.66 525.53,745.20 525.65,743.73 525.69,742.27" fill="none" stroke="#f00" stroke-width="1.2"/>
<circle cx="444.3" cy="742.3" r="2.4" fill="#f00"/>
<g fill="none" stroke="rgba(0,0,0,0.64)" stroke-width="1.65" stroke-linecap="round"><path d="M701.2 716.9h0M719.6 739.4h0M694.8 736.9h0M717.2 732.3h0M700.9 769.5h0M691.0 754.6h0M674.6 729.8h0M741.4 718.7h0M702.8 743.9h0M695.8 747.8h0M709.5 759.8h0M682.4 734.2h0M719.8 744.1h0M689.2 744.7h0M695.7 760.4h0M747.0 726.3h0M670.2 770.0h0M645.3 741.9h0M641.3 742.3h0M698.5 729.9h0M671.5 749.4h0M728.9 728.8h0M709.0 732.7h0M708.1 760.8h0M699.1 728.6h0M733.8 695.8h0M690.6 732.7h0M719.3 759.7h0M709.0 770.3h0M731.4 768.0h0M654.8 724.9h0M775.6 758.1h0M724.9 731.7h0M704.0 742.2h0M674.8 770.2h0M683.6 717.8h0M702.6 754.9h0M675.0 723.5h0M702.5 739.0h0M716.1 742.7h0M704.5 743.0h0M707.5 756.0h0M729.3 726.5h0M709.1 731.3h0M726.0 749.5h0M664.4 725.0h0M676.6 723.5h0M728.1 732.8h0M693.8 757.4h0M690.7 748.8h0M741.3 757.7h0M706.6 693.3h0M721.3 764.6h0M689.2 736.2h0M731.5 733.0h0M727.2 753.5h0M698.0 752.3h0M704.1 725.8h0M683.2 742.6h0M735.1 746.4h0M728.3 778.2h0M691.4 695.1h0M693.8 759.5h0M665.8 761.5h0M732.7 723.0h0M642.4 765.0h0M729.9 741.1h0M722.5 773.1h0M735.5 733.8h0M695.7 764.5h0M724.3 775.1h0M705.8 753.5h0M695.4 766.4h0M684.5 764.2h0M709.8 760.5h0M735.2 739.3h0M715.9 768.5h0M669.3 765.5h0M708.6 769.2h0M691.8 753.2h0"/><path d="M756.5 726.8h0M691.9 725.6h0M743.0 727.1h0M735.6 751.7h0M715.0 755.4h0M699.8 732.5h0M715.2 688.1h0M674.9 776.1h0M709.4 752.7h0M700.5 719.3h0M698.5 767.1h0M739.1 746.1h0M715.2 726.9h0M746.8 723.4h0M698.4 734.5h0M684.9 755.6h0M751.5 713.7h0M745.6 719.5h0M632.2 777.7h0M727.3 745.6h0M740.9 741.7h0M739.4 762.2h0M671.6 746.3h0M675.0 741.3h0M718.6 764.8h0M680.2 711.4h0M749.8 746.7h0M727.5 711.6h0M708.8 740.2h0M705.1 753.1h0M669.9 733.5h0M702.4 775.4h0M674.9 751.3h0M727.2 730.7h0M703.2 762.7h0M687.9 784.1h0M718.4 746.3h0M672.1 745.1h0M713.4 732.4h0M738.9 738.2h0M663.7 709.0h0M695.0 726.0h0M693.8 692.2h0M711.2 761.0h0M729.7 731.7h0M737.7 753.0h0M673.9 740.0h0M668.2 743.9h0M715.5 736.9h0M715.1 749.7h0M688.4 717.8h0M681.9 748.3h0M699.6 744.5h0M692.6 736.2h0M701.2 745.7h0M660.1 741.1h0M713.6 740.0h0M748.1 755.2h0M678.4 743.5h0M715.0 730.0h0M696.5 740.5h0M674.9 714.2h0M683.4 766.9h0M699.2 733.1h0M727.2 747.9h0M697.0 713.4h0M681.5 746.2h0M680.0 722.0h0M674.3 721.6h0M729.2 715.7h0M693.0 731.5h0M716.4 706.4h0M748.6 745.8h0M657.2 741.4h0M646.2 779.8h0M658.9 740.3h0M703.0 726.1h0M684.7 752.4h0M733.8 729.2h0M717.0 761.2h0"/><path d="M701.6 764.0h0M699.8 729.4h0M697.9 770.3h0M661.9 701.5h0M672.2 738.5h0M720.1 739.1h0M761.2 756.9h0M645.9 746.4h0M732.1 701.4h0M721.4 754.7h0M720.2 713.7h0M627.3 752.7h0M699.2 690.1h0M682.2 759.8h0M701.6 770.0h0M721.3 717.7h0M681.4 773.8h0M725.2 743.0h0M746.5 704.4h0M732.1 740.3h0M720.2 746.1h0M692.7 746.8h0M716.5 786.2h0M751.1 711.6h0M666.9 715.7h0M735.7 777.7h0M733.6 714.8h0M726.7 757.5h0M701.8 710.6h0M684.6 753.3h0M699.2 762.8h0M652.9 707.0h0M717.7 749.4h0M725.4 739.1h0M725.2 738.2h0M728.3 748.1h0M681.4 722.2h0M709.8 754.9h0M682.6 708.5h0M696.9 750.6h0M687.3 746.2h0M684.2 733.4h0M660.2 736.9h0M692.4 757.1h0M686.0 759.7h0M685.7 714.4h0M714.4 705.3h0M701.5 784.1h0M733.6 734.1h0M712.3 740.1h0M690.1 755.8h0M744.0 708.9h0M717.7 755.6h0M645.4 741.4h0M714.3 742.8h0M702.5 738.4h0M704.6 744.1h0M688.2 742.4h0M714.5 748.9h0M710.0 747.6h0M704.5 720.7h0M717.5 731.4h0M710.6 703.8h0M748.6 749.7h0M684.1 773.1h0M680.1 722.9h0M696.7 756.8h0M722.8 745.6h0M724.0 719.5h0M747.3 757.8h0M671.7 717.0h0M706.8 756.4h0M717.4 783.1h0M681.9 719.1h0M688.6 732.7h0M700.4 747.9h0M728.9 720.6h0M676.4 731.7h0M688.9 753.6h0M729.7 728.0h0"/><path d="M706.2 741.9h0M711.4 737.9h0M671.9 746.0h0M698.3 750.6h0M793.7 727.7h0M700.7 724.6h0M764.3 721.0h0M685.0 742.3h0M715.5 771.4h0M686.5 736.4h0M711.2 751.4h0M699.7 733.6h0M696.8 756.1h0M717.5 732.6h0M756.8 773.1h0M665.3 745.4h0M684.8 746.8h0M691.1 749.9h0M716.3 740.5h0M737.2 749.6h0M626.6 731.8h0M722.9 755.9h0M745.7 750.4h0M693.1 721.8h0M682.3 740.6h0M635.3 716.7h0M723.5 759.8h0M687.4 758.6h0M731.9 730.7h0M684.4 720.4h0M705.8 777.3h0M645.2 729.2h0M715.0 734.2h0M737.2 773.6h0M721.1 709.8h0M704.3 735.5h0M707.2 764.0h0M696.2 743.2h0M745.0 764.3h0M696.8 769.2h0M704.9 730.0h0M736.2 769.5h0M720.0 756.9h0M699.6 743.0h0M689.5 725.4h0M723.2 777.1h0M731.5 738.9h0M730.0 710.2h0M709.5 731.1h0M710.2 747.8h0M697.5 737.9h0M700.3 773.0h0M708.5 754.0h0M702.4 736.8h0M734.2 710.6h0M679.7 750.9h0M652.3 762.2h0M769.3 757.4h0M738.7 750.8h0M691.0 728.5h0M738.7 745.9h0M678.6 721.5h0M729.4 767.1h0M664.6 714.0h0M756.5 766.8h0M687.0 745.9h0M703.1 777.9h0M699.0 724.0h0M724.9 739.8h0M717.3 734.5h0M711.6 748.2h0M687.3 704.0h0M707.8 706.5h0M640.7 755.4h0M706.7 763.1h0M683.7 724.8h0M711.3 721.1h0M704.2 728.6h0M672.7 744.9h0M677.4 701.1h0"/><path d="M693.8 747.0h0M705.4 739.6h0M769.1 739.8h0M718.2 739.5h0M728.7 732.0h0M652.1 719.5h0M706.4 755.7h0M673.1 757.1h0M683.0 766.3h0M738.0 782.1h0M713.5 761.8h0M728.1 730.6h0M696.3 760.3h0M740.9 780.5h0M745.9 758.8h0M746.7 719.7h0M722.4 744.5h0M722.6 745.8h0M631.8 742.3h0M746.8 713.4h0M659.0 758.5h0M709.4 746.0h0M682.9 795.4h0M719.9 725.3h0M683.7 737.0h0M686.2 754.6h0M679.0 753.3h0M697.2 711.5h0M688.8 780.5h0M708.8 720.8h0M670.8 695.8h0M712.0 694.1h0M735.9 748.4h0M704.8 742.0h0M725.1 749.7h0M713.3 757.4h0M700.3 723.4h0M724.9 747.7h0M733.8 723.9h0M678.1 756.0h0M661.1 735.7h0M698.8 726.5h0M658.2 724.4h0M708.6 747.5h0M722.2 745.1h0M664.0 740.9h0M698.4 791.2h0M687.7 749.3h0M700.7 757.1h0M691.5 761.0h0M756.0 737.1h0M755.4 725.4h0M680.6 752.7h0M732.5 722.8h0M692.1 729.7h0M760.6 744.1h0M674.9 721.4h0M715.4 735.8h0M757.8 732.5h0M728.6 746.9h0M761.4 753.8h0M704.4 744.5h0M746.1 671.2h0M686.8 764.0h0M677.6 747.3h0M703.5 722.0h0M725.5 719.7h0M740.4 786.3h0M729.9 731.0h0M667.1 739.3h0M686.9 757.8h0M707.9 739.8h0M656.8 729.2h0M717.3 716.1h0M691.4 746.0h0M697.5 723.8h0M651.4 744.3h0M714.5 783.8h0M681.0 764.4h0M672.0 751.8h0"/><path d="M696.3 735.3h0M706.9 753.1h0M708.9 780.6h0M749.4 727.4h0M707.7 764.7h0M727.9 728.4h0M662.7 767.9h0M769.8 705.2h0M722.5 733.6h0M734.7 755.4h0M680.8 733.3h0M705.6 726.3h0M707.0 722.6h0M720.9 735.2h0M698.5 742.6h0M716.7 757.9h0M709.4 741.6h0M720.8 724.2h0M715.9 722.8h0M707.7 743.5h0M702.1 765.8h0M726.2 752.4h0M659.6 762.9h0M724.2 752.0h0M690.3 755.9h0M747.9 756.7h0M734.8 746.4h0M738.7 742.3h0M718.5 707.0h0M677.2 733.3h0M757.2 748.5h0M729.9 755.8h0M737.1 733.9h0M719.3 751.8h0M700.5 758.6h0M791.2 738.0h0M709.3 770.2h0M677.9 709.2h0M734.0 765.8h0M675.0 734.1h0M685.3 763.3h0M677.3 756.9h0M685.4 737.4h0M717.5 743.4h0M692.4 699.9h0M702.8 765.4h0M720.3 733.7h0M644.6 720.8h0M690.4 755.9h0M710.9 743.0h0M705.3 758.4h0M670.1 754.7h0M727.4 752.2h0M642.9 736.6h0M729.7 744.1h0M661.2 741.3h0M753.4 779.0h0M721.1 755.3h0M722.7 757.4h0M681.9 737.4h0M626.8 732.6h0M665.0 720.9h0M709.8 772.5h0M760.6 747.5h0M695.8 745.3h0M710.7 739.7h0M711.0 717.9h0M681.2 716.7h0M644.6 752.8h0M740.6 775.1h0M752.8 712.0h0M726.7 764.6h0M658.5 745.5h0M714.5 750.9h0M714.1 689.2h0M714.2 750.4h0M689.0 736.5h0M675.8 745.3h0M720.0 757.0h0M673.0 720.5h0"/><path d="M711.7 756.5h0M736.8 755.9h0M691.0 747.7h0M725.7 741.0h0M687.7 720.6h0M708.4 758.2h0M698.6 691.1h0M692.1 751.9h0M728.1 729.5h0M643.6 727.3h0M696.3 723.8h0M732.2 732.0h0M676.8 772.3h0M702.6 741.8h0M711.5 738.6h0M757.6 736.0h0M717.1 721.5h0M720.0 713.6h0M677.9 750.5h0M709.5 742.9h0M666.2 739.0h0M717.7 739.7h0M706.4 737.0h0M697.9 737.4h0M738.4 765.3h0M744.0 745.8h0M694.8 740.9h0M683.2 713.4h0M775.4 748.6h0M767.9 743.1h0M713.6 762.4h0M705.5 769.2h0M730.6 775.1h0M709.9 716.0h0M745.2 753.5h0M712.9 745.5h0M655.7 727.1h0M680.8 694.3h0M657.8 751.1h0M724.9 759.3h0M690.9 722.7h0M735.7 760.9h0M679.0 702.2h0M685.0 741.7h0M696.8 763.0h0M685.1 767.2h0M707.9 778.3h0M730.5 742.8h0M700.7 751.6h0M663.2 702.0h0M707.3 729.9h0M704.2 757.5h0M681.2 753.1h0M720.8 771.9h0M666.7 751.6h0M673.2 742.6h0M701.3 774.1h0M693.2 752.5h0M702.0 723.7h0M681.8 790.0h0M748.9 758.3h0M744.0 746.4h0M738.6 750.4h0M672.1 731.1h0M702.3 725.5h0M682.3 759.5h0M697.6 727.9h0M650.0 729.2h0M712.4 763.8h0M664.6 731.9h0M748.4 751.3h0M743.3 734.1h0M726.0 750.3h0M739.9 730.9h0M702.3 738.8h0M719.3 731.5h0M696.7 724.9h0M715.9 756.5h0M685.3 747.9h0M719.0 744.6h0"/><path d="M695.3 745.7h0M670.8 752.1h0M684.3 721.1h0M689.1 734.8h0M673.1 748.4h0M724.0 737.3h0M717.0 780.1h0M664.9 718.5h0M711.1 731.4h0M707.9 767.9h0M745.6 759.6h0M676.3 714.8h0M704.9 734.2h0M732.4 749.5h0M677.5 721.4h0M700.3 774.3h0M688.3 763.0h0M717.1 760.1h0M691.0 706.0h0M685.2 768.1h0M742.3 748.2h0M743.1 727.4h0M689.7 751.5h0M717.7 748.6h0M700.0 753.3h0M706.0 732.4h0M699.2 742.2h0M702.0 756.5h0M694.6 737.8h0M694.2 730.4h0M741.6 743.7h0M754.9 764.4h0M681.9 754.3h0M707.2 757.3h0M688.7 717.8h0M708.2 751.3h0M760.5 710.0h0M717.6 743.1h0M735.2 740.4h0M678.1 746.7h0M642.8 741.2h0M712.5 710.4h0M647.1 721.9h0M703.6 717.6h0M715.5 717.4h0M754.3 751.1h0M700.9 719.2h0M717.1 721.1h0M690.0 743.5h0M665.3 773.3h0M688.4 762.6h0M712.4 746.3h0M698.4 778.6h0M701.5 706.0h0M683.8 758.8h0M691.0 729.2h0M756.0 733.6h0M691.1 734.7h0M724.3 721.9h0M719.3 766.1h0M709.1 695.8h0M721.7 753.0h0M722.0 722.8h0M712.8 767.7h0M711.2 721.9h0M706.5 748.4h0M675.7 772.1h0M708.5 716.6h0M682.4 778.2h0M696.0 743.1h0M741.4 724.8h0M714.6 717.6h0M718.0 765.5h0M648.4 764.2h0M687.0 786.2h0M641.0 739.6h0M692.8 739.2h0M685.7 709.9h0M733.8 749.3h0M752.3 736.3h0"/><path d="M716.8 743.5h0M652.9 717.2h0M721.9 766.4h0M746.7 716.9h0M717.6 748.9h0M680.7 746.7h0M714.9 728.7h0M725.1 738.8h0M727.7 748.7h0M682.3 738.1h0M629.9 776.8h0M690.8 710.2h0M699.6 752.7h0M660.8 698.5h0M715.4 715.8h0M658.6 742.0h0M649.1 758.0h0M727.3 749.0h0M631.8 732.0h0M720.5 741.1h0M705.2 751.0h0M715.5 773.0h0M705.6 724.0h0M695.9 700.7h0M696.0 769.7h0M692.4 731.3h0M693.5 753.2h0M672.8 728.6h0M689.1 755.7h0M701.9 731.6h0M735.4 739.5h0M692.5 780.3h0M729.0 764.4h0M688.2 732.2h0M728.8 723.5h0M726.0 708.1h0M697.8 739.8h0M724.2 759.6h0M682.2 734.2h0M727.1 708.3h0M758.4 755.4h0M670.3 756.7h0M725.2 786.8h0M694.7 785.2h0M711.4 730.9h0M670.8 708.7h0M742.3 751.6h0M694.1 779.1h0M732.5 728.3h0M671.8 734.1h0M720.2 739.7h0M654.8 742.0h0M684.4 745.8h0M655.8 728.9h0M746.9 760.1h0M715.1 769.5h0M740.5 705.7h0M700.4 767.7h0M752.6 731.9h0M733.1 766.6h0M705.3 765.9h0M672.5 754.5h0M723.6 753.4h0M712.7 765.1h0M673.7 770.0h0M661.4 714.1h0M712.3 735.2h0M688.4 774.2h0M698.1 743.1h0M734.4 722.8h0M670.7 746.4h0M702.1 753.3h0M732.3 747.2h0M668.9 731.9h0M714.7 718.1h0M740.9 784.3h0M690.8 735.8h0M743.4 729.2h0M700.8 756.3h0M683.3 742.4h0"/><path d="M705.5 739.3h0M729.7 739.1h0M683.3 796.1h0M689.7 736.2h0M722.2 711.5h0M646.5 735.2h0M705.5 763.0h0M730.1 759.9h0M717.9 725.9h0M688.1 709.9h0M759.5 711.7h0M686.7 742.7h0M689.0 763.9h0M673.5 741.7h0M664.9 730.7h0M686.2 762.4h0M671.0 746.3h0M703.7 751.3h0M732.7 727.5h0M695.4 746.0h0M719.9 745.2h0M689.5 735.3h0M687.3 765.1h0M692.4 740.4h0M709.2 757.3h0M729.1 747.9h0M702.7 732.0h0M742.8 750.8h0M678.7 723.7h0M703.6 749.5h0M696.6 743.6h0M723.2 718.7h0M733.8 754.1h0M698.0 769.8h0M715.0 697.0h0M686.7 751.3h0M721.9 756.8h0M729.8 772.8h0M721.8 727.4h0M692.6 777.4h0M649.6 721.0h0M660.8 734.1h0M796.6 743.0h0M717.4 726.2h0M738.6 760.4h0M738.1 759.3h0M699.3 756.9h0M707.6 735.2h0M671.2 752.3h0M718.0 768.5h0M739.7 750.3h0M712.5 745.7h0M724.5 713.4h0M697.3 727.2h0M737.9 730.0h0M687.3 759.5h0M732.3 742.2h0M692.1 717.3h0M706.0 752.4h0M730.4 709.2h0M686.6 761.8h0M722.7 737.1h0M731.9 759.6h0M697.0 726.4h0M714.9 740.9h0M697.1 775.7h0M622.1 739.7h0M701.3 761.4h0M680.4 742.2h0M683.1 727.1h0M758.3 731.1h0M689.7 742.3h0M705.4 744.5h0M723.2 758.1h0M699.1 736.9h0M713.6 726.4h0M720.6 720.6h0M635.6 763.0h0M687.1 729.4h0M723.8 761.8h0"/></g>
<polygon points="772.92,742.27 772.88,740.81 772.78,739.34 772.61,737.88 772.37,736.43 772.06,734.98 771.68,733.54 771.24,732.11 770.72,730.68 770.15,729.27 769.50,727.87 768.79,726.49 768.01,725.12 767.17,723.77 766.27,722.44 765.31,721.12 764.28,719.83 763.19,718.56 762.05,717.31 760.84,716.09 759.58,714.90 758.26,713.73 756.89,712.59 755.47,711.48 753.99,710.40 752.47,709.36 750.89,708.34 749.27,707.36 747.60,706.41 745.89,705.50 744.14,704.63 742.35,703.79 740.52,703.00 738.65,702.24 736.75,701.52 734.81,700.84 732.84,700.21 730.85,699.61 728.83,699.06 726.78,698.55 724.71,698.08 722.62,697.66 720.51,697.28 718.38,696.95 716.24,696.67 714.08,696.42 711.92,696.23 709.75,696.08 707.57,695.97 705.39,695.92 703.20,695.91 701.02,695.94 698.84,696.02 696.66,696.15 694.49,696.32 692.33,696.54 690.19,696.80 688.05,697.11 685.93,697.47 683.83,697.87 681.75,698.31 679.69,698.80 677.66,699.33 675.65,699.90 673.67,700.52 671.71,701.18 669.79,701.87 667.91,702.61 666.06,703.39 664.25,704.21 662.47,705.06 660.74,705.95 659.05,706.88 657.41,707.85 655.81,708.84 654.26,709.87 652.76,710.94 651.31,712.03 649.91,713.16 648.57,714.31 647.28,715.49 646.05,716.70 644.87,717.93 643.75,719.19 642.70,720.47 641.70,721.78 640.77,723.10 639.89,724.44 639.09,725.80 638.34,727.18 637.67,728.57 637.05,729.98 636.51,731.39 636.03,732.82 635.62,734.26 635.27,735.70 635.00,737.16 634.79,738.61 634.65,740.08 634.59,741.54 634.59,743.00 634.65,744.47 634.79,745.93 635.00,747.38 635.27,748.84 635.62,750.28 636.03,751.72 636.51,753.15 637.05,754.57 637.67,755.97 638.34,757.36 639.09,758.74 639.89,760.10 640.77,761.44 641.70,762.76 642.70,764.07 643.75,765.35 644.87,766.61 646.05,767.84 647.28,769.05 648.57,770.23 649.91,771.38 651.31,772.51 652.76,773.60 654.26,774.67 655.81,775.70 657.41,776.69 659.05,777.66 660.74,778.59 662.47,779.48 664.25,780.33 666.06,781.15 667.91,781.93 669.79,782.67 671.71,783.37 673.67,784.02 675.65,784.64 677.66,785.21 679.69,785.74 681.75,786.23 683.83,786.67 685.93,787.07 688.05,787.43 690.19,787.74 692.33,788.00 694.49,788.22 696.66,788.39 698.84,788.52 701.02,788.60 703.20,788.64 705.39,788.62 707.57,788.57 709.75,788.46 711.92,788.31 714.08,788.12 716.24,787.87 718.38,787.59 720.51,787.26 722.62,786.88 724.71,786.46 726.78,785.99 728.83,785.48 730.85,784.93 732.84,784.34 734.81,783.70 736.75,783.02 738.65,782.30 740.52,781.54 742.35,780.75 744.14,779.91 745.89,779.04 747.60,778.13 749.27,777.18 750.89,776.20 752.47,775.19 753.99,774.14 755.47,773.06 756.89,771.95 758.26,770.81 759.58,769.64 760.84,768.45 762.05,767.23 763.19,765.98 764.28,764.71 765.31,763.42 766.27,762.10 767.17,760.77 768.01,759.42 768.79,758.05 769.50,756.67 770.15,755.27 770.72,753.86 771.24,752.43 771.68,751.00 772.06,749.56 772.37,748.11 772.61,746.66 772.78,745.20 772.88,743.73 772.92,742.27" fill="none" stroke="#f00" stroke-width="1.2"/>
<circle cx="703.7" cy="742.3" r="2.4" fill="#f00"/>
<g fill="none" stroke="rgba(0,0,0,0.64)" stroke-width="1.65" stroke-linecap="round"><path d="M978.5 716.9h0M974.2 739.4h0M985.0 736.9h0M942.8 732.3h0M913.8 769.5h0M953.2 754.6h0M946.4 729.8h0M998.3 718.7h0M961.0 743.9h0M967.0 747.8h0M938.4 759.8h0M985.5 734.2h0M982.0 744.1h0M958.7 744.7h0M927.9 760.4h0M970.7 726.3h0M925.2 770.0h0M971.8 741.9h0M932.7 742.3h0M949.3 729.9h0M942.6 749.4h0M973.1 728.8h0M971.1 732.7h0M895.8 760.8h0M999.7 728.6h0M994.8 695.8h0M953.5 732.7h0M941.0 759.7h0M912.1 770.3h0M951.9 768.0h0M961.9 724.9h0M921.0 758.1h0M981.2 731.7h0M927.6 742.2h0M948.7 770.2h0M963.1 717.8h0M961.5 754.9h0M960.1 723.5h0M961.7 739.0h0M949.4 742.7h0M938.0 743.0h0M953.3 756.0h0M987.4 726.5h0M982.9 731.3h0M918.3 749.5h0M954.9 725.0h0M966.3 723.5h0M936.8 732.8h0M944.2 757.4h0M943.0 748.8h0M921.8 757.7h0M1025.3 693.3h0M934.4 764.6h0M932.8 736.2h0M966.7 733.0h0M915.2 753.5h0M940.7 752.3h0M948.1 725.8h0M940.4 742.6h0M942.7 746.4h0M906.7 778.2h0M995.4 695.1h0M947.0 759.5h0M936.3 761.5h0M974.5 723.0h0M920.4 765.0h0M960.4 741.1h0M904.6 773.1h0M983.8 733.8h0M924.4 764.5h0M918.8 775.1h0M955.0 753.5h0M926.3 766.4h0M919.2 764.2h0M944.2 760.5h0M968.0 739.3h0M899.7 768.5h0M921.2 765.5h0M934.3 769.2h0M937.8 753.2h0"/><path d="M972.7 726.8h0M934.2 725.6h0M961.7 727.1h0M952.6 751.7h0M956.1 755.4h0M956.1 732.5h0M1022.0 688.1h0M907.5 776.1h0M955.5 752.7h0M979.7 719.3h0M921.9 767.1h0M931.8 746.1h0M955.4 726.9h0M999.7 723.4h0M971.4 734.5h0M930.4 755.6h0M1001.4 713.7h0M974.4 719.5h0M906.4 777.7h0M940.2 745.6h0M966.0 741.7h0M942.3 762.2h0M959.1 746.3h0M934.7 741.3h0M940.3 764.8h0M977.3 711.4h0M913.9 746.7h0M987.4 711.6h0M944.4 740.2h0M952.2 753.1h0M957.5 733.5h0M937.7 775.4h0M950.9 751.3h0M965.3 730.7h0M921.6 762.7h0M884.7 784.1h0M954.2 746.3h0M959.8 745.1h0M972.2 732.4h0M983.7 738.2h0M976.0 709.0h0M990.2 726.0h0M1021.4 692.2h0M917.6 761.0h0M959.1 731.7h0M906.0 753.0h0M954.4 740.0h0M966.4 743.9h0M931.4 736.9h0M927.5 749.7h0M999.5 717.8h0M961.0 748.3h0M932.7 744.5h0M988.8 736.2h0M940.4 745.7h0M963.3 741.1h0M955.3 740.0h0M920.0 755.2h0M923.8 743.5h0M982.7 730.0h0M945.7 740.5h0M1011.3 714.2h0M916.4 766.9h0M951.2 733.1h0M952.1 747.9h0M970.3 713.4h0M938.9 746.2h0M993.8 722.0h0M967.2 721.6h0M968.8 715.7h0M958.8 731.5h0M1018.8 706.4h0M962.0 745.8h0M941.2 741.4h0M915.5 779.8h0M960.9 740.3h0M987.8 726.1h0M951.8 752.4h0M957.6 729.2h0M951.6 761.2h0"/><path d="M922.1 764.0h0M1001.6 729.4h0M902.9 770.3h0M1008.5 701.5h0M951.3 738.5h0M946.8 739.1h0M964.9 756.9h0M947.3 746.4h0M1031.7 701.4h0M931.7 754.7h0M959.7 713.7h0M932.6 752.7h0M1033.7 690.1h0M929.5 759.8h0M935.8 770.0h0M989.8 717.7h0M903.1 773.8h0M936.8 743.0h0M1002.8 704.4h0M962.7 740.3h0M964.9 746.1h0M962.1 746.8h0M906.3 786.2h0M987.1 711.6h0M989.4 715.7h0M908.8 777.7h0M1005.6 714.8h0M953.3 757.5h0M986.3 710.6h0M922.0 753.3h0M943.5 762.8h0M1009.4 707.0h0M961.4 749.4h0M959.1 739.1h0M939.4 738.2h0M959.1 748.1h0M984.3 722.2h0M909.6 754.9h0M998.4 708.5h0M932.9 750.6h0M905.5 746.2h0M966.2 733.4h0M942.6 736.9h0M933.5 757.1h0M936.0 759.7h0M973.5 714.4h0M983.9 705.3h0M900.1 784.1h0M974.1 734.1h0M972.0 740.1h0M936.1 755.8h0M978.3 708.9h0M931.8 755.6h0M922.7 741.4h0M964.0 742.8h0M992.0 738.4h0M936.9 744.1h0M934.4 742.4h0M950.4 748.9h0M962.2 747.6h0M987.3 720.7h0M937.0 731.4h0M993.2 703.8h0M935.2 749.7h0M950.2 773.1h0M968.0 722.9h0M954.0 756.8h0M936.9 745.6h0M958.7 719.5h0M943.5 757.8h0M968.2 717.0h0M936.0 756.4h0M911.3 783.1h0M969.8 719.1h0M968.5 732.7h0M982.6 747.9h0M999.7 720.6h0M964.8 731.7h0M921.4 753.6h0M951.5 728.0h0"/><path d="M949.8 741.9h0M958.1 737.9h0M948.3 746.0h0M933.3 750.6h0M978.1 727.7h0M974.0 724.6h0M1001.5 721.0h0M946.8 742.3h0M913.9 771.4h0M956.6 736.4h0M955.8 751.4h0M936.4 733.6h0M918.3 756.1h0M928.2 732.6h0M921.1 773.1h0M956.8 745.4h0M951.3 746.8h0M936.8 749.9h0M947.1 740.5h0M968.9 749.6h0M962.8 731.8h0M921.9 755.9h0M961.2 750.4h0M971.9 721.8h0M916.2 740.6h0M1002.0 716.7h0M921.4 759.8h0M903.3 758.6h0M966.7 730.7h0M982.7 720.4h0M904.0 777.3h0M977.8 729.2h0M960.1 734.2h0M881.6 773.6h0M984.5 709.8h0M941.1 735.5h0M916.7 764.0h0M946.0 743.2h0M910.6 764.3h0M900.9 769.2h0M970.1 730.0h0M924.0 769.5h0M957.4 756.9h0M952.0 743.0h0M964.1 725.4h0M943.3 777.1h0M953.3 738.9h0M1001.5 710.2h0M939.6 731.1h0M935.9 747.8h0M944.3 737.9h0M897.6 773.0h0M934.8 754.0h0M951.8 736.8h0M995.7 710.6h0M899.6 750.9h0M923.0 762.2h0M918.3 757.4h0M940.8 750.8h0M948.1 728.5h0M936.8 745.9h0M989.4 721.5h0M939.8 767.1h0M1006.8 714.0h0M889.0 766.8h0M944.8 745.9h0M908.1 777.9h0M974.8 724.0h0M984.6 739.8h0M952.9 734.5h0M971.3 748.2h0M984.4 704.0h0M1004.7 706.5h0M941.1 755.4h0M919.7 763.1h0M976.4 724.8h0M971.2 721.1h0M951.6 728.6h0M953.4 744.9h0M1036.0 701.1h0"/><path d="M951.4 747.0h0M928.7 739.6h0M970.8 739.8h0M927.9 739.5h0M971.9 732.0h0M1028.6 719.5h0M926.8 755.7h0M905.1 757.1h0M911.6 766.3h0M873.9 782.1h0M918.7 761.8h0M959.1 730.6h0M944.7 760.3h0M883.0 780.5h0M940.0 758.8h0M978.3 719.7h0M946.7 744.5h0M923.8 745.8h0M941.5 742.3h0M978.6 713.4h0M928.3 758.5h0M946.9 746.0h0M898.3 795.4h0M977.5 725.3h0M939.7 737.0h0M944.1 754.6h0M928.8 753.3h0M996.4 711.5h0M882.5 780.5h0M953.7 720.8h0M992.6 695.8h0M1003.7 694.1h0M946.8 748.4h0M983.2 742.0h0M992.6 749.7h0M929.6 757.4h0M987.8 723.4h0M932.0 747.7h0M980.6 723.9h0M928.4 756.0h0M911.0 735.7h0M949.9 726.5h0M957.1 724.4h0M948.9 747.5h0M948.1 745.1h0M965.6 740.9h0M919.6 791.2h0M923.7 749.3h0M929.0 757.1h0M922.5 761.0h0M942.4 737.1h0M963.3 725.4h0M941.8 752.7h0M980.5 722.8h0M975.5 729.7h0M963.4 744.1h0M970.4 721.4h0M959.4 735.8h0M958.3 732.5h0M946.6 746.9h0M958.4 753.8h0M964.1 744.5h0M1026.5 671.2h0M929.3 764.0h0M925.2 747.3h0M977.4 722.0h0M974.6 719.7h0M924.5 786.3h0M959.4 731.0h0M978.0 739.3h0M929.8 757.8h0M947.2 739.8h0M989.0 729.2h0M972.0 716.1h0M969.9 746.0h0M947.0 723.8h0M937.6 744.3h0M896.7 783.8h0M927.5 764.4h0M960.3 751.8h0"/><path d="M969.9 735.3h0M910.7 753.1h0M889.2 780.6h0M960.3 727.4h0M928.9 764.7h0M949.9 728.4h0M948.0 767.9h0M1024.3 705.2h0M935.6 733.6h0M931.9 755.4h0M981.9 733.3h0M956.1 726.3h0M954.5 722.6h0M954.7 735.2h0M958.6 742.6h0M926.5 757.9h0M965.8 741.6h0M963.3 724.2h0M1013.2 722.8h0M953.0 743.5h0M912.4 765.8h0M927.5 752.4h0M930.7 762.9h0M943.2 752.0h0M961.1 755.9h0M950.2 756.7h0M932.8 746.4h0M955.5 742.3h0M993.4 707.0h0M961.3 733.3h0M941.9 748.5h0M928.4 755.8h0M971.6 733.9h0M957.4 751.8h0M947.7 758.6h0M956.8 738.0h0M940.6 770.2h0M990.8 709.2h0M943.8 765.8h0M962.4 734.1h0M929.6 763.3h0M934.1 756.9h0M938.7 737.4h0M944.4 743.4h0M1013.7 699.9h0M921.9 765.4h0M966.2 733.7h0M993.9 720.8h0M944.6 755.9h0M917.2 743.0h0M920.0 758.4h0M929.0 754.7h0M916.6 752.2h0M952.0 736.6h0M970.0 744.1h0M919.3 741.3h0M914.9 779.0h0M928.5 755.3h0M941.6 757.4h0M978.5 737.4h0M949.1 732.6h0M965.6 720.9h0M935.2 772.5h0M973.3 747.5h0M947.0 745.3h0M938.6 739.7h0M965.9 717.9h0M1007.6 716.7h0M940.6 752.8h0M904.4 775.1h0M975.9 712.0h0M909.7 764.6h0M918.2 745.5h0M944.1 750.9h0M1003.0 689.2h0M916.7 750.4h0M975.0 736.5h0M952.3 745.3h0M933.8 757.0h0M974.3 720.5h0"/><path d="M929.3 756.5h0M941.6 755.9h0M934.7 747.7h0M959.6 741.0h0M974.8 720.6h0M919.3 758.2h0M1008.6 691.1h0M939.3 751.9h0M961.1 729.5h0M964.8 727.3h0M995.1 723.8h0M945.7 732.0h0M911.1 772.3h0M905.4 741.8h0M940.0 738.6h0M959.7 736.0h0M977.1 721.5h0M995.4 713.6h0M950.2 750.5h0M943.1 742.9h0M961.6 739.0h0M912.4 739.7h0M991.7 737.0h0M948.3 737.4h0M933.3 765.3h0M945.8 745.8h0M956.2 740.9h0M1003.7 713.4h0M956.6 748.6h0M959.4 743.1h0M951.2 762.4h0M900.7 769.2h0M920.7 775.1h0M971.6 716.0h0M938.9 753.5h0M951.9 745.5h0M993.1 727.1h0M994.0 694.3h0M931.7 751.1h0M908.8 759.3h0M960.4 722.7h0M939.7 760.9h0M999.9 702.2h0M946.1 741.7h0M906.2 763.0h0M936.5 767.2h0M898.8 778.3h0M949.0 742.8h0M927.2 751.6h0M1001.2 702.0h0M979.9 729.9h0M925.7 757.5h0M925.9 753.1h0M925.7 771.9h0M941.2 751.6h0M948.0 742.6h0M911.6 774.1h0M928.5 752.5h0M1002.2 723.7h0M892.5 790.0h0M968.3 758.3h0M907.9 746.4h0M961.3 750.4h0M970.0 731.1h0M955.4 725.5h0M937.1 759.5h0M940.9 727.9h0M952.0 729.2h0M899.0 763.8h0M965.8 731.9h0M957.3 751.3h0M968.5 734.1h0M943.4 750.3h0M954.4 730.9h0M955.2 738.8h0M952.3 731.5h0M986.6 724.9h0M931.6 756.5h0M977.6 747.9h0M938.4 744.6h0"/><path d="M942.1 745.7h0M886.5 752.1h0M970.1 721.1h0M966.1 734.8h0M976.6 748.4h0M948.2 737.3h0M899.3 780.1h0M998.1 718.5h0M965.8 731.4h0M949.2 767.9h0M930.2 759.6h0M984.8 714.8h0M949.1 734.2h0M971.0 749.5h0M966.6 721.4h0M884.7 774.3h0M903.5 763.0h0M956.4 760.1h0M991.5 706.0h0M940.7 768.1h0M952.3 748.2h0M966.0 727.4h0M950.3 751.5h0M944.7 748.6h0M940.6 753.3h0M975.1 732.4h0M970.8 742.2h0M928.4 756.5h0M973.0 737.8h0M941.6 730.4h0M942.2 743.7h0M918.1 764.4h0M941.7 754.3h0M947.0 757.3h0M973.7 717.8h0M941.0 751.3h0M986.1 710.0h0M926.5 743.1h0M943.2 740.4h0M934.2 746.7h0M941.5 741.2h0M999.8 710.4h0M999.0 721.9h0M1000.2 717.6h0M940.2 717.4h0M926.3 751.1h0M983.4 719.2h0M1002.6 721.1h0M944.5 743.5h0M940.2 773.3h0M911.1 762.6h0M926.9 746.3h0M887.9 778.6h0M960.7 706.0h0M932.8 758.8h0M963.3 729.2h0M955.2 733.6h0M976.8 734.7h0M972.9 721.9h0M930.3 766.1h0M1009.0 695.8h0M907.8 753.0h0M969.4 722.8h0M952.9 767.7h0M970.3 721.9h0M942.8 748.4h0M938.8 772.1h0M999.8 716.6h0M892.1 778.2h0M964.4 743.1h0M969.3 724.8h0M983.5 717.6h0M917.3 765.5h0M915.1 764.2h0M887.4 786.2h0M972.7 739.6h0M995.0 739.2h0M959.4 709.9h0M944.9 749.3h0M976.1 736.3h0"/><path d="M949.2 743.5h0M962.8 717.2h0M950.8 766.4h0M989.6 716.9h0M943.6 748.9h0M935.6 746.7h0M960.5 728.7h0M927.4 738.8h0M929.0 748.7h0M946.0 738.1h0M928.8 776.8h0M1009.9 710.2h0M970.9 752.7h0M994.6 698.5h0M1008.8 715.8h0M947.5 742.0h0M940.3 758.0h0M930.3 749.0h0M953.7 732.0h0M959.8 741.1h0M939.5 751.0h0M869.9 773.0h0M982.7 724.0h0M1031.0 700.7h0M946.8 769.7h0M967.7 731.3h0M938.7 753.2h0M939.2 728.6h0M949.8 755.7h0M950.2 731.6h0M935.2 739.5h0M881.0 780.3h0M947.7 764.4h0M967.6 732.2h0M961.3 723.5h0M993.6 708.1h0M961.2 739.8h0M938.8 759.6h0M930.5 734.2h0M967.2 708.3h0M948.2 755.4h0M922.7 756.7h0M881.0 786.8h0M879.8 785.2h0M974.7 730.9h0M997.7 708.7h0M942.3 751.6h0M909.3 779.1h0M947.8 728.3h0M994.7 734.1h0M973.5 739.7h0M973.8 742.0h0M953.3 745.8h0M935.9 728.9h0M929.0 760.1h0M919.5 769.5h0M1008.3 705.7h0M905.0 767.7h0M977.7 731.9h0M912.0 766.6h0M910.3 765.9h0M957.4 754.5h0M937.7 753.4h0M919.3 765.1h0M939.2 770.0h0M1006.3 714.1h0M952.8 735.2h0M928.4 774.2h0M975.0 743.1h0M944.6 722.8h0M948.4 746.4h0M968.9 753.3h0M933.4 747.2h0M980.4 731.9h0M985.0 718.1h0M896.8 784.3h0M987.1 735.8h0M960.4 729.2h0M936.3 756.3h0M980.2 742.4h0"/><path d="M970.8 739.3h0M965.6 739.1h0M895.7 796.1h0M945.6 736.2h0M978.3 711.5h0M961.9 735.2h0M907.6 763.0h0M913.1 759.9h0M943.7 725.9h0M996.1 709.9h0M950.8 711.7h0M929.0 742.7h0M908.9 763.9h0M962.1 741.7h0M962.1 730.7h0M927.7 762.4h0M932.1 746.3h0M929.3 751.3h0M980.5 727.5h0M935.8 746.0h0M957.0 745.2h0M956.5 735.3h0M916.4 765.1h0M944.5 740.4h0M935.6 757.3h0M934.2 747.9h0M952.5 732.0h0M947.1 750.8h0M956.3 723.7h0M913.8 749.5h0M941.2 743.6h0M988.0 718.7h0M904.0 754.1h0M913.3 769.8h0M1003.0 697.0h0M957.0 751.3h0M937.3 756.8h0M915.6 772.8h0M965.2 727.4h0M911.2 777.4h0M964.0 721.0h0M987.4 734.1h0M947.6 743.0h0M942.2 726.2h0M936.2 760.4h0M895.1 759.3h0M928.6 756.9h0M977.4 735.2h0M979.1 752.3h0M916.2 768.5h0M915.6 750.3h0M946.9 745.7h0M963.9 713.4h0M981.0 727.2h0M979.4 730.0h0M914.5 759.5h0M928.5 742.2h0M979.0 717.3h0M912.0 752.4h0M985.0 709.2h0M951.7 761.8h0M945.1 737.1h0M922.5 759.6h0M967.1 726.4h0M955.8 740.9h0M898.8 775.7h0M976.4 739.7h0M934.7 761.4h0M964.5 742.2h0M956.5 727.1h0M969.2 731.1h0M971.2 742.3h0M940.4 744.5h0M916.1 758.1h0M952.4 736.9h0M960.9 726.4h0M978.7 720.6h0M910.3 763.0h0M995.7 729.4h0M915.4 761.8h0"/></g>
<polygon points="1018.13,705.64 1018.09,704.76 1017.99,703.92 1017.82,703.12 1017.58,702.35 1017.28,701.63 1016.91,700.94 1016.47,700.30 1015.96,699.70 1015.39,699.14 1014.76,698.62 1014.06,698.15 1013.29,697.72 1012.46,697.34 1011.57,697.00 1010.62,696.71 1009.61,696.46 1008.54,696.26 1007.41,696.10 1006.22,695.99 1004.98,695.92 1003.68,695.90 1002.33,695.93 1000.93,696.01 999.47,696.13 997.97,696.29 996.42,696.50 994.82,696.76 993.18,697.06 991.49,697.41 989.76,697.80 988.00,698.24 986.19,698.72 984.35,699.24 982.48,699.81 980.57,700.42 978.63,701.07 976.67,701.76 974.67,702.50 972.65,703.27 970.61,704.08 968.55,704.93 966.47,705.82 964.38,706.74 962.27,707.70 960.14,708.69 958.01,709.71 955.87,710.77 953.72,711.86 951.57,712.98 949.42,714.13 947.27,715.31 945.12,716.51 942.98,717.74 940.84,719.00 938.71,720.28 936.60,721.58 934.49,722.90 932.40,724.24 930.33,725.59 928.28,726.97 926.25,728.36 924.25,729.76 922.27,731.18 920.31,732.60 918.39,734.04 916.50,735.48 914.64,736.93 912.82,738.39 911.03,739.85 909.29,741.31 907.58,742.78 905.92,744.24 904.29,745.70 902.72,747.16 901.19,748.61 899.71,750.06 898.28,751.50 896.91,752.93 895.58,754.35 894.31,755.76 893.10,757.15 891.94,758.53 890.84,759.89 889.80,761.24 888.81,762.56 887.89,763.87 887.03,765.15 886.24,766.42 885.51,767.65 884.84,768.86 884.23,770.05 883.70,771.21 883.22,772.34 882.82,773.44 882.48,774.51 882.21,775.54 882.01,776.54 881.87,777.51 881.80,778.45 881.80,779.34 881.87,780.20 882.01,781.03 882.21,781.81 882.48,782.56 882.82,783.26 883.22,783.92 883.70,784.55 884.23,785.13 884.84,785.66 885.51,786.16 886.24,786.61 887.03,787.01 887.89,787.38 888.81,787.69 889.80,787.96 890.84,788.19 891.94,788.37 893.10,788.50 894.31,788.59 895.58,788.63 896.91,788.63 898.28,788.58 899.71,788.48 901.19,788.34 902.72,788.15 904.29,787.91 905.92,787.63 907.58,787.31 909.29,786.94 911.03,786.52 912.82,786.07 914.64,785.56 916.50,785.02 918.39,784.43 920.31,783.80 922.27,783.13 924.25,782.42 926.25,781.66 928.28,780.87 930.33,780.04 932.40,779.17 934.49,778.27 936.60,777.33 938.71,776.35 940.84,775.34 942.98,774.30 945.12,773.23 947.27,772.12 949.42,770.99 951.57,769.82 953.72,768.63 955.87,767.41 958.01,766.17 960.14,764.91 962.27,763.62 964.38,762.31 966.47,760.98 968.55,759.63 970.61,758.26 972.65,756.88 974.67,755.48 976.67,754.07 978.63,752.65 980.57,751.22 982.48,749.78 984.35,748.33 986.19,746.88 988.00,745.42 989.76,743.96 991.49,742.49 993.18,741.03 994.82,739.57 996.42,738.11 997.97,736.65 999.47,735.20 1000.93,733.76 1002.33,732.32 1003.68,730.90 1004.98,729.49 1006.22,728.09 1007.41,726.70 1008.54,725.33 1009.61,723.97 1010.62,722.64 1011.57,721.32 1012.46,720.03 1013.29,718.75 1014.06,717.50 1014.76,716.28 1015.39,715.08 1015.96,713.91 1016.47,712.76 1016.91,711.65 1017.28,710.57 1017.58,709.51 1017.82,708.49 1017.99,707.51 1018.09,706.56 1018.13,705.64" fill="none" stroke="#f00" stroke-width="1.2"/>
<circle cx="950.0" cy="742.3" r="2.4" fill="#f00"/>
<path d="M50.4 50.3V815.3M50.4 50.3H1349.4M310.2 50.3V815.3M50.4 203.3H1349.4M570.0 50.3V815.3M50.4 356.3H1349.4M829.8 50.3V815.3M50.4 509.3H1349.4M1089.6 50.3V815.3M50.4 662.3H1349.4M1349.4 50.3V815.3M50.4 815.3H1349.4" stroke="#808080" stroke-width="1.0" fill="none"/>
<path d="M54.0 815.3H298.0M54.0 815.3v3.06M115.0 815.3v3.06M176.0 815.3v3.06M237.0 815.3v3.06M298.0 815.3v3.06M361.1 815.3H527.4M361.1 815.3v3.06M444.3 815.3v3.06M527.4 815.3v3.06M609.5 815.3H797.9M609.5 815.3v3.06M656.6 815.3v3.06M703.7 815.3v3.06M750.8 815.3v3.06M797.9 815.3v3.06M838.6 815.3H1061.4M838.6 815.3v3.06M894.3 815.3v3.06M950.0 815.3v3.06M1005.7 815.3v3.06M1061.4 815.3v3.06M1154.1 815.3v3.06M1219.2 815.3v3.06M1284.3 815.3v3.06M1349.4 815.3v3.06M1154.1 815.3H1349.4M50.4 51.9V168.3M50.4 168.3h-3.06M50.4 129.5h-3.06M50.4 90.7h-3.06M50.4 51.9h-3.06M50.4 228.4V326.3M50.4 326.3h-3.06M50.4 277.4h-3.06M50.4 228.4h-3.06M50.4 375.1V486.0M50.4 486.0h-3.06M50.4 458.3h-3.06M50.4 430.5h-3.06M50.4 402.8h-3.06M50.4 375.1h-3.06M50.4 525.9V657.1M50.4 657.1h-3.06M50.4 624.3h-3.06M50.4 591.5h-3.06M50.4 558.7h-3.06M50.4 525.9h-3.06M50.4 666.5V780.2M50.4 780.2h-3.06M50.4 742.3h-3.06M50.4 704.4h-3.06M50.4 666.5h-3.06" stroke="#808080" stroke-width="1" fill="none"/>
<g fill="#808080" font-size="12"><text x="54.2" y="848.3" text-anchor="middle" letter-spacing="0.4">-4</text><text x="115.2" y="848.3" text-anchor="middle" letter-spacing="0.4">-2</text><text x="176.2" y="848.3" text-anchor="middle" letter-spacing="0.4">0</text><text x="237.2" y="848.3" text-anchor="middle" letter-spacing="0.4">2</text><text x="298.2" y="848.3" text-anchor="middle" letter-spacing="0.4">4</text><text x="361.3" y="836.6" text-anchor="middle" letter-spacing="0.4">-5</text><text x="444.5" y="836.6" text-anchor="middle" letter-spacing="0.4">0</text><text x="527.6" y="836.6" text-anchor="middle" letter-spacing="0.4">5</text><text x="609.7" y="848.3" text-anchor="middle" letter-spacing="0.4">-10</text><text x="656.8" y="848.3" text-anchor="middle" letter-spacing="0.4">-5</text><text x="703.9" y="848.3" text-anchor="middle" letter-spacing="0.4">0</text><text x="751.0" y="848.3" text-anchor="middle" letter-spacing="0.4">5</text><text x="798.1" y="848.3" text-anchor="middle" letter-spacing="0.4">10</text><text x="838.8" y="836.6" text-anchor="middle" letter-spacing="0.4">-4</text><text x="894.5" y="836.6" text-anchor="middle" letter-spacing="0.4">-2</text><text x="950.2" y="836.6" text-anchor="middle" letter-spacing="0.4">0</text><text x="1005.9" y="836.6" text-anchor="middle" letter-spacing="0.4">2</text><text x="1061.6" y="836.6" text-anchor="middle" letter-spacing="0.4">4</text><text x="1154.6" y="848.3" text-anchor="middle" letter-spacing="1.1">100</text><text x="1219.7" y="848.3" text-anchor="middle" letter-spacing="1.1">200</text><text x="1284.8" y="848.3" text-anchor="middle" letter-spacing="1.1">300</text><text x="1350.0" y="848.3" text-anchor="middle" letter-spacing="1.1">400</text><text transform="translate(41.8 168.1) rotate(-90)" text-anchor="middle" letter-spacing="0.4">-2</text><text transform="translate(41.8 129.3) rotate(-90)" text-anchor="middle" letter-spacing="0.4">0</text><text transform="translate(41.8 90.5) rotate(-90)" text-anchor="middle" letter-spacing="0.4">2</text><text transform="translate(41.8 51.7) rotate(-90)" text-anchor="middle" letter-spacing="0.4">4</text><text transform="translate(29.2 326.1) rotate(-90)" text-anchor="middle" letter-spacing="0.4">-5</text><text transform="translate(29.2 277.2) rotate(-90)" text-anchor="middle" letter-spacing="0.4">0</text><text transform="translate(29.2 228.2) rotate(-90)" text-anchor="middle" letter-spacing="0.4">5</text><text transform="translate(41.8 485.8) rotate(-90)" text-anchor="middle" letter-spacing="0.4">-10</text><text transform="translate(41.8 430.3) rotate(-90)" text-anchor="middle" letter-spacing="0.4">0</text><text transform="translate(41.8 402.6) rotate(-90)" text-anchor="middle" letter-spacing="0.4">5</text><text transform="translate(41.8 374.9) rotate(-90)" text-anchor="middle" letter-spacing="0.4">10</text><text transform="translate(29.2 656.9) rotate(-90)" text-anchor="middle" letter-spacing="0.4">-4</text><text transform="translate(29.2 624.1) rotate(-90)" text-anchor="middle" letter-spacing="0.4">-2</text><text transform="translate(29.2 591.3) rotate(-90)" text-anchor="middle" letter-spacing="0.4">0</text><text transform="translate(29.2 558.5) rotate(-90)" text-anchor="middle" letter-spacing="0.4">2</text><text transform="translate(29.2 525.7) rotate(-90)" text-anchor="middle" letter-spacing="0.4">4</text><text transform="translate(41.8 780.0) rotate(-90)" text-anchor="middle" letter-spacing="0.4">-2</text><text transform="translate(41.8 742.1) rotate(-90)" text-anchor="middle" letter-spacing="0.4">0</text><text transform="translate(41.8 704.2) rotate(-90)" text-anchor="middle" letter-spacing="0.4">2</text><text transform="translate(41.8 666.3) rotate(-90)" text-anchor="middle" letter-spacing="0.4">4</text></g>
<g fill="#000" font-size="24.7"><text x="180.3" y="43.0" text-anchor="middle" letter-spacing="0">x1</text><text x="440.1" y="17.6" text-anchor="middle" letter-spacing="0">x2</text><text x="699.9" y="43.0" text-anchor="middle" letter-spacing="0">x3</text><text x="960.0" y="17.6" text-anchor="middle" letter-spacing="0.5">xvec[1]</text><text x="1219.8" y="43.0" text-anchor="middle" letter-spacing="0.5">xvec[2]</text><text transform="translate(1370.3 126.8) rotate(-90)" text-anchor="middle" letter-spacing="0">x1</text><text transform="translate(1395.3 279.8) rotate(-90)" text-anchor="middle" letter-spacing="0">x2</text><text transform="translate(1370.3 432.8) rotate(-90)" text-anchor="middle" letter-spacing="0">x3</text><text transform="translate(1395.3 585.5) rotate(-90)" text-anchor="middle" letter-spacing="0.5">xvec[1]</text><text transform="translate(1370.3 738.5) rotate(-90)" text-anchor="middle" letter-spacing="0.5">xvec[2]</text></g>
<g fill="#000" font-size="20.6"><text x="180.3" y="71.1" text-anchor="middle">ESS=1157 Rhat=1.00</text><text x="440.1" y="224.1" text-anchor="middle">ESS=966 Rhat=1.00</text><text x="699.9" y="377.1" text-anchor="middle">ESS=1071 Rhat=1.00</text><text x="959.7" y="530.1" text-anchor="middle">ESS=966 Rhat=1.00</text><text x="1219.5" y="683.1" text-anchor="middle">ESS=1100 Rhat=1.00</text></g>
<g fill="#000"><text x="440.1" y="124.9" font-size="5.2" text-anchor="middle">0.11</text><text x="699.9" y="125.9" font-size="1.0" text-anchor="middle">0.01</text><text x="959.7" y="126.1" font-size="1.6" text-anchor="middle">-0.03</text><text x="1219.5" y="126.2" font-size="1.9" text-anchor="middle">-0.02</text><text x="699.9" y="279.0" font-size="2.8" text-anchor="middle">-0.04</text><text x="959.7" y="278.8" font-size="2.6" text-anchor="middle">-0.04</text><text x="1219.5" y="277.6" font-size="3.3" text-anchor="middle">-0.08</text><text x="959.7" y="431.0" font-size="5.0" text-anchor="middle">-0.11</text><text x="1219.5" y="430.7" font-size="3.3" text-anchor="middle">-0.08</text><text x="1219.5" y="575.0" font-size="28.0" text-anchor="middle">0.79</text></g>
</svg>
</body></html>
